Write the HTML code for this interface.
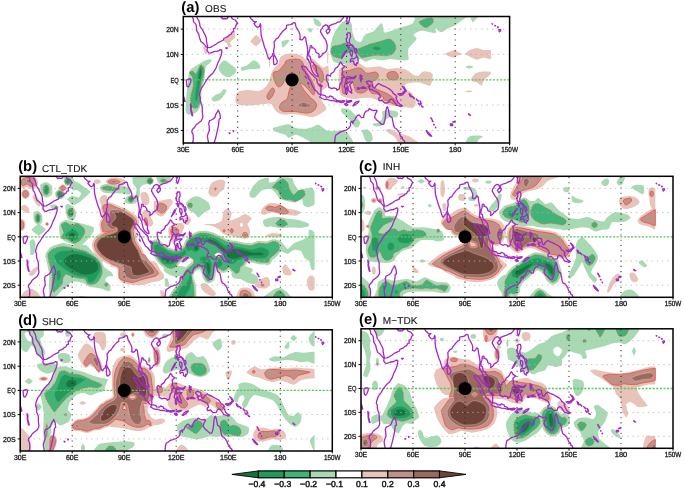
<!DOCTYPE html><html><head><meta charset="utf-8"><title>Figure</title><style>html,body{margin:0;padding:0;background:#fff}svg{display:block}text{font-family:"Liberation Sans",sans-serif;text-rendering:geometricPrecision}</style></head><body>
<svg width="685" height="491" viewBox="0 0 685 491">
<rect width="685" height="491" fill="#fff"/>
<defs>
<clipPath id="cpa"><rect x="183.3" y="16.5" width="326.3" height="126.5"/></clipPath>
<clipPath id="cpb"><rect x="20.2" y="176.3" width="312.1" height="121.0"/></clipPath>
<clipPath id="cpc"><rect x="361.0" y="176.3" width="312.0" height="121.0"/></clipPath>
<clipPath id="cpd"><rect x="20.2" y="329.8" width="312.1" height="121.2"/></clipPath>
<clipPath id="cpe"><rect x="361.0" y="328.8" width="312.0" height="119.5"/></clipPath>
<filter id="bl" x="-5%" y="-5%" width="110%" height="110%"><feGaussianBlur stdDeviation="0.4"/></filter>
</defs>
<g clip-path="url(#cpa)">
<g filter="url(#bl)">
<path d="M308.3,30.3 308.7,31.4 309.1,31.8 310.0,32.3 310.9,32.4 311.3,32.3 311.8,31.5 312.2,29.6 312.0,29.1 311.0,28.5 308.8,28.0 308.4,28.1 308.2,28.5ZM281.4,43.1 282.0,47.0 282.3,47.3 282.6,47.4 283.2,47.2 285.4,45.4 288.0,42.8 289.2,41.0 289.2,40.2 288.5,39.8 286.8,39.8 284.2,40.4 282.5,41.1 281.6,42.0ZM241.6,70.3 242.0,70.6 242.6,70.7 247.7,69.5 253.5,68.9 258.5,68.7 259.5,68.5 260.2,68.1 260.4,67.5 260.4,66.7 259.6,64.7 257.9,62.4 256.3,61.2 255.4,60.7 254.4,60.5 253.5,60.5 252.4,61.0 251.3,61.8 247.8,64.8 246.7,65.6 245.6,66.0 241.5,67.0 240.9,67.4 240.7,67.9 240.7,68.5 240.8,69.2ZM220.9,73.0 222.6,74.8 223.7,75.5 226.1,76.8 227.3,77.1 228.4,77.2 229.6,77.0 232.2,75.7 235.1,73.2 236.1,71.8 236.3,71.1 236.2,69.6 235.3,68.1 234.4,67.2 226.9,61.5 225.8,60.8 224.7,60.5 223.7,60.5 222.7,61.1 220.6,63.3 219.0,66.1 218.6,67.4 218.6,68.5 218.9,69.7 219.5,70.9ZM203.1,61.5 191.7,68.5 190.2,69.7 189.2,71.8 188.6,74.5 186.8,91.3 185.8,103.3 185.6,109.2 185.8,111.4 186.3,112.8 187.0,113.8 187.8,114.3 188.8,114.6 191.8,114.5 193.0,114.2 195.4,113.0 197.4,111.4 198.2,110.4 199.6,107.9 200.5,105.2 201.1,102.4 201.6,88.6 202.1,86.1 203.7,82.4 204.5,79.8 204.8,76.7 204.9,71.9 205.4,68.6 205.9,67.0 206.7,65.6 207.3,64.9 210.4,62.8 210.9,62.3 211.4,61.1 211.4,59.9 211.2,59.5 210.9,59.3 210.2,59.2 208.3,59.5 205.1,60.5ZM211.9,100.2 212.4,100.8 213.3,101.2 215.0,101.4 217.5,100.9 220.1,99.7 222.4,97.4 225.3,93.2 226.4,91.1 226.3,90.2 225.9,89.8 224.9,89.2 223.7,89.2 223.2,89.6 220.1,93.2 218.7,93.8 216.6,94.3 214.4,95.7 212.8,96.9 211.8,98.0 211.5,98.9ZM273.6,130.5 274.4,131.2 277.9,132.6 285.4,134.7 285.9,135.1 287.7,137.2 288.2,137.7 288.8,137.9 289.6,137.7 294.4,134.9 295.3,134.7 297.4,135.1 303.2,137.7 310.2,141.7 310.4,142.2 309.7,143.2 309.7,143.7 310.3,144.0 312.0,144.3 323.4,144.6 340.2,144.7 347.2,144.6 351.3,144.3 352.8,143.5 353.1,142.2 352.6,140.6 348.6,134.4 346.8,132.3 345.0,130.9 342.7,130.5 330.1,130.9 327.1,130.6 325.8,130.0 319.8,125.3 318.7,124.8 317.7,124.8 316.5,125.1 312.0,127.2 308.9,128.1 306.5,128.7 304.2,128.8 298.4,128.5 295.3,128.1 294.3,127.6 289.8,124.6 288.8,124.3 287.5,124.3 281.7,125.5 273.3,127.8 272.9,128.1 272.7,128.4 272.9,129.5ZM313.5,20.3 314.4,23.3 315.0,24.4 316.0,25.3 317.5,26.1 319.0,26.6 320.1,26.5 320.9,25.7 321.3,24.7 321.0,23.4 320.0,21.9 318.0,19.8 316.5,18.9 314.3,18.2 313.8,18.3 313.6,18.5ZM332.3,59.8 332.9,60.8 333.6,61.5 335.8,62.7 339.2,63.8 341.4,64.0 351.5,63.7 353.7,63.3 354.6,62.8 359.2,59.4 360.0,59.0 360.8,59.1 364.1,61.3 364.9,61.5 366.0,61.4 372.1,59.2 373.3,59.0 374.4,59.1 381.6,60.5 390.0,59.0 400.1,60.3 404.7,60.5 407.6,60.3 408.4,59.8 408.7,58.7 408.1,52.5 408.0,50.4 408.3,48.9 409.2,47.4 415.8,40.2 416.6,39.0 416.5,38.2 415.9,37.4 413.4,35.3 413.3,34.7 415.2,33.3 418.5,31.6 420.2,31.0 421.7,30.7 423.4,30.8 433.7,33.1 435.1,33.2 435.7,32.7 435.9,31.8 435.6,28.5 435.8,28.1 436.3,28.4 439.1,31.2 440.1,32.0 440.9,32.3 441.8,32.1 443.1,31.4 448.3,28.1 452.8,26.6 455.0,25.6 463.8,19.1 465.9,17.8 468.8,17.1 470.1,17.3 470.5,17.8 472.2,21.9 472.6,22.3 473.9,21.5 476.8,18.3 479.6,16.6 480.1,16.0 479.4,15.5 477.0,15.2 460.4,15.0 424.8,15.1 418.4,15.2 415.7,15.6 414.5,16.2 414.3,16.9 415.0,18.4 415.0,19.0 413.2,22.6 412.5,23.4 411.7,24.1 408.4,25.2 400.1,27.4 392.9,30.3 386.2,32.4 385.0,32.5 384.2,32.3 383.6,31.3 382.6,25.3 382.2,23.7 381.6,23.1 380.7,23.6 379.3,24.9 374.5,30.3 373.3,31.4 372.1,32.1 365.9,34.1 364.9,34.7 363.5,36.9 361.5,41.1 361.0,41.8 360.3,42.0 359.4,42.0 357.4,41.5 355.9,40.5 355.3,39.7 354.0,36.7 352.4,32.3 352.1,26.4 351.7,24.1 351.2,23.3 349.4,21.3 347.3,20.0 346.5,19.8 345.5,20.1 342.8,22.0 339.2,25.4 336.3,29.6 334.4,33.0 333.3,35.4 332.2,38.6 331.0,43.1 330.4,47.5 330.1,50.7 330.1,51.9 330.7,54.8ZM468.5,68.5 469.2,68.6 470.8,68.3 472.5,67.5 473.3,66.8 473.1,66.6 471.7,66.0 469.2,65.6 467.8,65.8 466.1,66.6 465.9,66.8 466.5,67.5ZM341.3,111.6 342.4,113.2 345.0,115.4 349.9,120.5 352.7,124.7 354.1,126.3 355.5,127.2 357.0,127.5 358.2,127.2 358.7,126.7 359.6,125.1 359.9,124.1 360.0,122.3 359.8,121.4 358.7,119.8 354.3,114.1 351.7,111.4 350.0,110.1 347.5,108.8 345.7,108.4 343.8,108.3 342.1,108.6 341.2,109.2 341.0,110.3ZM382.6,116.2 382.5,117.2 381.7,119.1 380.6,120.9 379.9,121.6 379.1,122.3 378.1,122.7 373.1,123.5 372.6,123.8 372.5,124.2 372.8,124.7 374.2,125.7 375.8,126.3 378.7,126.4 380.8,126.0 381.6,125.5 382.3,124.9 384.4,121.3 385.1,120.5 386.5,119.1 388.1,118.0 390.0,117.2 391.0,117.1 394.8,117.4 395.9,117.4 396.7,117.2 397.2,116.6 398.0,114.8 398.0,112.9 397.6,112.1 396.8,111.6 395.7,111.1 392.8,110.4 388.6,110.1 384.4,110.5 383.3,110.9 382.5,111.4 382.1,112.1 382.1,113.0ZM363.0,133.9 364.6,139.0 365.4,140.3 366.5,141.5 367.7,142.1 369.1,142.2 370.7,141.5 372.1,140.4 372.6,139.7 372.7,138.0 372.0,134.8 370.6,132.1 369.1,130.6 368.3,130.0 367.5,129.6 365.4,129.4 364.2,129.6 362.2,130.2 361.7,130.6 361.5,131.1 361.7,131.7ZM473.8,144.6 475.2,144.3 476.0,143.8 476.7,143.0 478.4,139.7 482.0,137.3 482.6,136.8 482.6,136.4 482.0,136.1 479.6,135.6 475.2,135.4 471.5,135.8 469.3,136.5 468.4,137.2 467.6,138.1 466.2,140.8 465.7,142.2 465.6,143.4 465.9,144.3 466.8,144.7 468.3,145.0 470.2,145.0Z" fill="#a7d9b2" fill-rule="evenodd"/>
<path d="M223.5,40.8 223.7,41.5 224.0,41.8 225.8,42.4 226.8,43.1 227.1,43.7 228.1,46.9 228.4,47.4 229.6,47.5 231.4,46.7 231.7,46.4 231.7,45.9 230.2,43.6 230.1,42.6 230.6,41.8 231.7,40.5 234.3,38.6 235.1,37.2 235.3,36.3 235.1,34.1 234.6,32.0 234.2,31.4 233.8,31.1 232.8,31.2 231.0,32.3 227.5,36.5 224.3,39.0 223.8,39.9ZM255.4,46.1 256.0,46.4 256.6,45.9 260.4,42.3 261.8,40.5 259.1,37.4 256.6,35.1 256.0,34.7 252.9,37.9 250.2,41.5 251.6,43.1ZM203.5,49.4 205.1,53.9 205.8,54.4 206.5,54.1 206.9,53.2 206.7,49.9 206.2,47.6 206.0,46.9 205.6,46.5 205.0,46.3 203.9,46.5 203.5,46.9 203.2,47.4ZM327.2,51.9 327.2,63.3 327.5,63.6 328.0,63.6 328.3,63.3 328.3,51.9 327.8,51.6ZM268.9,59.0 269.0,66.4 269.7,66.5 270.0,66.3 270.0,59.0 269.7,58.8ZM236.0,103.0 236.8,103.8 237.9,104.3 239.4,104.8 243.0,105.3 246.7,105.6 250.5,105.5 258.5,104.8 266.8,103.7 268.6,103.6 270.1,103.8 271.3,104.3 272.1,105.0 273.7,108.0 276.8,111.9 278.5,113.1 279.6,113.6 282.5,114.2 286.6,114.7 287.6,114.6 290.8,113.9 295.6,114.2 303.7,115.4 310.7,117.2 313.4,117.0 316.3,116.0 319.1,114.6 322.8,112.3 325.1,110.6 325.9,109.7 326.3,108.8 326.4,108.0 326.2,107.3 324.4,104.8 321.1,99.4 319.6,96.2 319.3,94.9 319.4,93.9 319.8,92.9 320.5,92.1 323.7,89.2 326.5,87.5 327.3,86.7 328.0,85.6 328.6,82.1 328.9,77.8 328.8,69.1 328.4,66.6 328.0,65.8 327.4,65.6 323.8,67.4 322.9,67.4 321.0,66.1 313.6,59.2 312.8,58.7 312.0,58.5 311.2,58.8 310.4,59.4 308.1,62.0 307.5,62.3 307.0,62.2 306.1,60.1 303.7,57.4 302.1,56.0 301.1,55.5 298.9,54.6 295.1,53.8 290.3,53.5 288.0,53.7 284.4,54.7 282.1,55.8 281.1,56.5 280.3,57.2 279.7,58.1 278.9,62.3 278.5,63.3 277.0,65.2 274.3,68.0 272.5,70.5 271.0,73.9 270.1,78.2 269.4,80.5 267.6,84.1 266.1,86.4 265.2,87.3 262.4,89.6 260.0,90.6 258.5,90.9 256.8,91.0 248.6,90.1 246.7,90.1 241.6,90.7 238.8,91.6 237.7,92.1 236.9,92.9 235.9,94.8 235.4,100.1 235.6,102.1ZM338.9,71.4 338.7,79.0 339.4,90.4 340.1,93.7 340.7,94.7 342.0,96.0 345.0,97.2 348.0,98.0 351.6,98.7 355.0,99.0 357.9,98.8 361.9,98.1 366.1,97.8 368.9,97.7 371.6,98.0 374.4,98.9 385.5,103.8 388.3,104.8 392.9,105.7 411.5,107.9 412.5,107.9 413.3,107.6 414.7,106.3 415.2,105.4 415.8,103.3 415.8,101.2 415.0,98.8 413.9,96.5 412.4,93.9 411.3,92.6 410.1,91.4 409.3,90.9 406.3,89.8 405.5,89.4 405.0,88.9 404.7,87.2 404.9,86.3 405.2,85.3 405.8,84.5 406.6,83.8 409.5,82.9 413.3,82.4 416.8,82.3 418.1,82.4 420.4,82.8 424.6,84.2 428.1,85.6 429.2,85.8 430.0,85.6 430.7,84.9 431.7,82.8 432.4,80.1 432.8,76.8 432.8,74.8 432.4,73.9 431.8,73.2 430.8,72.6 427.9,71.7 424.8,71.3 423.5,71.4 422.5,71.8 421.6,72.6 419.2,75.2 418.4,75.7 416.8,75.9 415.2,75.5 413.3,74.7 412.3,74.1 409.1,71.4 406.6,69.9 402.7,68.6 399.8,68.2 396.6,68.1 391.1,68.8 387.6,68.9 386.0,68.6 380.0,66.6 378.4,66.3 376.5,66.4 368.4,67.5 366.6,67.4 365.0,66.9 363.7,66.1 359.8,63.5 358.2,63.1 356.4,62.9 354.4,62.8 350.1,63.2 346.5,63.9 345.0,64.5 342.5,65.9 339.9,68.4 339.1,69.9ZM446.6,55.3 451.4,57.3 453.4,57.6 454.5,57.2 456.7,55.7 461.2,54.5 462.5,53.9 462.3,53.7 461.8,53.4 458.3,52.2 455.7,50.1 454.3,49.9 452.6,50.4 448.0,52.2 445.4,53.5 445.1,53.9 445.2,54.4ZM469.3,56.6 474.7,59.1 476.8,59.8 477.7,59.6 483.5,57.6 489.0,58.9 490.2,59.1 490.9,59.0 491.1,58.5 491.1,50.9 490.9,50.4 490.2,50.1 483.5,49.9 478.8,48.5 476.8,48.1 473.4,48.8 470.9,49.6 469.3,50.3 466.1,52.5 465.0,53.7 466.1,54.7ZM472.2,81.1 473.1,81.8 476.0,82.0 476.8,82.3 480.3,85.0 481.0,85.5 481.7,85.6 482.1,85.2 482.4,84.5 483.1,81.4 483.5,80.5 485.0,79.1 487.7,77.1 489.8,74.9 490.9,73.3 491.1,72.7 490.9,72.2 490.3,71.8 487.8,71.4 483.5,71.4 479.5,71.9 477.0,72.7 475.9,73.2 474.9,73.8 473.3,75.5 471.7,78.0 471.5,79.4 471.6,80.0ZM468.1,92.3 470.3,92.2 471.8,91.8 472.4,91.4 471.1,90.8 468.8,90.4 466.4,90.8 465.0,91.4 465.7,91.8ZM387.6,132.2 389.2,133.5 394.0,136.3 395.0,137.2 395.8,138.3 397.8,143.1 399.0,144.3 401.4,144.9 404.9,145.2 408.9,145.2 416.2,144.7 419.4,143.9 419.7,143.5 419.4,143.0 418.7,142.4 416.3,141.0 411.3,137.5 409.0,136.3 406.6,135.4 402.4,134.2 401.0,134.0 399.9,134.1 399.3,134.5 397.1,133.1 393.8,130.7 391.8,129.6 390.6,129.3 388.2,129.1 386.3,129.4 385.8,129.6 385.7,129.9 385.8,130.4Z" fill="#e7c3b9" fill-rule="evenodd"/>
<path d="M420.2,24.1 422.6,26.1 424.9,27.4 425.9,27.5 427.6,27.1 430.7,25.1 432.6,23.0 433.3,21.6 433.3,20.1 433.1,19.3 432.3,18.1 431.7,17.8 430.8,17.7 427.3,18.3 422.5,19.9 420.2,21.0 419.4,21.6 419.1,22.3 419.4,23.1ZM331.0,51.6 331.1,52.6 331.7,54.3 333.1,56.0 335.8,57.3 338.2,58.0 339.4,58.1 340.5,58.0 341.4,57.5 342.3,56.7 344.7,53.8 345.8,52.9 347.4,53.2 350.2,52.1 351.9,51.9 353.7,52.3 356.6,53.5 358.3,54.5 360.9,57.3 361.7,57.6 362.6,57.7 368.4,56.5 375.2,55.3 378.3,55.2 385.2,55.8 386.7,55.7 389.3,55.2 391.6,54.4 392.6,53.8 394.1,52.4 395.2,50.5 395.9,48.4 395.9,47.4 395.8,46.4 395.1,44.3 393.4,41.5 391.2,39.8 389.4,39.1 388.3,39.0 385.8,39.5 380.0,41.5 370.0,44.1 358.9,48.4 356.6,48.9 354.1,48.6 351.9,47.9 350.3,46.8 346.6,43.6 345.4,43.1 344.7,43.1 340.5,44.8 335.0,45.7 332.9,46.4 332.2,46.8 331.6,48.0ZM190.0,72.4 190.0,73.9 190.3,74.4 191.7,75.7 192.5,77.2 193.0,79.5 193.3,82.4 193.3,85.6 193.0,87.3 191.4,93.4 190.7,97.2 190.6,100.7 190.9,103.9 191.6,106.3 192.3,107.1 194.0,108.1 195.9,108.3 196.7,108.1 198.1,106.9 199.2,104.8 200.0,102.3 200.2,99.2 199.9,93.9 200.2,90.4 201.6,82.3 203.0,78.2 203.8,74.5 204.2,71.5 204.1,68.9 203.8,67.8 202.7,66.0 201.4,64.9 200.9,64.8 200.4,65.1 199.9,65.8 196.6,73.0 195.8,73.9 195.4,73.9 195.0,73.6 193.5,71.7 192.5,71.3 191.5,71.2 190.7,71.4Z" fill="#40b377" fill-rule="evenodd" stroke="#d8684a" stroke-width="0.9" stroke-dasharray="1.3,1.3"/>
<path d="M312.7,65.5 312.8,66.6 313.1,67.6 316.9,73.5 318.4,76.2 319.6,81.3 320.9,82.5 321.8,82.7 322.2,82.5 323.1,80.5 323.6,77.5 323.4,75.5 322.9,73.4 321.7,70.5 319.8,67.9 317.5,66.0 315.7,65.1 314.0,64.6 313.1,64.7ZM387.0,75.6 387.3,77.3 388.0,78.5 389.3,79.2 390.9,79.6 393.8,79.8 396.0,79.7 396.9,79.4 397.6,79.0 398.0,78.4 398.2,77.5 398.1,75.6 397.6,73.9 396.5,72.7 395.1,71.8 394.2,71.5 393.4,71.4 391.4,71.6 389.2,72.2 388.3,72.7 387.6,73.2 387.2,73.8ZM285.5,61.4 285.1,63.2 284.6,63.9 281.9,67.3 279.7,69.7 278.7,70.6 277.6,71.2 274.4,72.0 273.7,72.4 273.2,73.2 273.1,74.4 273.3,76.1 274.3,79.7 275.9,83.9 277.5,86.2 278.7,86.8 279.3,86.8 280.1,86.5 281.6,85.5 283.2,83.7 284.0,81.3 284.3,80.8 284.6,80.5 285.5,81.0 287.5,83.5 289.7,85.2 290.3,86.3 290.1,88.0 288.8,92.1 288.2,95.7 287.5,98.0 287.0,99.0 286.2,99.8 282.0,102.3 280.6,103.8 279.8,105.6 279.5,106.5 279.4,107.3 279.8,108.8 280.8,110.0 281.6,110.6 283.7,111.4 285.2,111.5 295.3,111.4 303.6,112.8 307.1,113.1 309.9,112.7 312.1,111.8 314.6,109.9 315.7,108.2 316.5,105.6 316.5,104.8 316.1,103.3 315.2,101.9 314.1,100.6 310.2,97.5 305.7,92.4 303.7,89.8 301.6,86.6 300.4,84.4 300.2,83.5 300.5,83.4 301.7,83.7 303.2,84.4 304.5,85.3 308.7,89.7 313.1,94.9 313.5,94.9 314.1,94.3 314.8,92.2 314.9,90.6 314.6,87.9 313.6,84.4 311.2,79.3 309.3,76.0 305.8,70.9 304.1,65.6 302.7,62.7 301.7,61.0 300.0,59.8 298.9,59.4 295.9,59.1 291.5,59.3 288.3,59.9 285.9,61.0ZM341.9,72.6 341.6,73.9 341.4,76.2 341.9,87.6 342.5,92.1 342.8,93.0 343.7,94.0 344.2,94.1 345.0,93.9 345.6,92.8 346.9,87.8 347.6,84.2 348.3,82.3 348.7,81.6 349.9,80.7 351.2,80.4 351.7,80.5 352.2,80.9 353.0,82.6 354.4,86.5 355.4,90.6 355.9,91.4 357.3,92.4 359.9,93.1 361.6,93.1 362.5,92.9 365.8,91.4 366.4,90.9 367.6,89.2 367.9,88.9 368.4,88.9 368.9,89.2 371.0,92.6 371.6,93.2 373.2,93.6 376.7,93.9 379.8,95.0 382.5,96.4 383.3,97.5 383.8,99.3 384.7,100.1 388.3,101.4 393.0,103.9 395.0,104.8 397.0,104.9 397.6,104.3 397.3,103.1 396.0,101.1 393.4,98.0 391.7,96.5 389.7,95.1 386.4,93.3 375.2,88.6 373.3,87.3 371.8,85.7 370.9,83.8 370.7,83.0 370.7,82.3 371.2,81.7 372.0,81.3 375.0,80.2 375.8,79.8 377.6,77.8 378.3,76.4 378.4,75.7 378.1,74.3 377.3,73.0 376.7,72.5 375.8,72.2 374.6,72.1 369.6,73.1 367.9,73.3 366.6,73.2 365.5,72.7 364.6,72.0 362.5,69.4 361.7,68.9 360.1,68.2 358.5,68.0 355.5,68.4 349.2,70.6 344.1,71.2 342.4,71.9ZM267.8,99.0 268.7,99.7 269.7,99.3 271.6,97.2 273.2,94.6 274.1,92.4 274.5,90.6 274.1,89.2 273.3,88.1 272.7,87.9 272.1,88.1 271.4,88.8 269.3,91.4 267.5,94.4 267.1,95.6 266.9,96.5 267.0,97.5Z" fill="#c29086" fill-rule="evenodd" stroke="#e8584c" stroke-width="0.9"/>
<path d="M373.3,49.0 375.0,49.9 376.7,50.4 377.5,50.3 379.3,49.7 380.7,48.8 380.9,48.4 380.7,48.0 379.3,47.1 376.7,46.4 375.0,46.6 372.8,47.8 372.6,48.1ZM200.0,67.5 199.1,69.8 198.1,73.2 197.4,79.0 195.8,88.9 195.0,98.5 195.3,100.5 195.7,100.9 196.1,101.1 196.6,100.9 197.0,100.5 197.8,98.5 199.3,88.9 202.4,72.0 202.4,69.5 202.2,68.4 201.6,66.8 201.2,66.4 200.9,66.3Z" fill="#209a5b" fill-rule="evenodd" stroke="#52ac74" stroke-width="0.4"/>
<path d="M298.4,72.0 298.6,74.2 299.1,74.5 300.2,74.4 300.4,74.2 300.6,73.3 300.4,71.1 299.9,70.8 298.8,70.9 298.6,71.1ZM307.9,85.6 308.1,87.7 308.4,88.4 309.5,88.8 310.0,88.6 310.1,86.7 309.6,85.6 308.9,85.2 308.2,85.2ZM299.2,106.2 302.0,107.3 305.5,107.4 307.9,107.0 309.4,106.6 310.4,105.9 310.6,105.2 309.7,104.4 307.5,103.4 304.8,102.6 303.7,102.5 301.3,102.9 300.1,103.4 298.2,104.4 297.9,104.8 298.0,105.2Z" fill="#9c695e" fill-rule="evenodd" stroke="#dcc8c0" stroke-width="0.45"/>
<path d="M200.4,68.5 199.8,70.5 199.2,73.7 198.6,80.9 198.5,83.5 198.9,83.1 199.7,80.6 201.2,74.4 201.2,72.4 201.0,70.3 200.7,68.7 200.5,68.4Z" fill="#14743f" fill-rule="evenodd" stroke="#3c9460" stroke-width="0.4"/>
</g>
<line x1="237.7" y1="138.8" x2="237.7" y2="16.5" stroke="#2a2a2a" stroke-width="1.05" stroke-dasharray="1.1,4.36"/>
<line x1="292.1" y1="138.8" x2="292.1" y2="16.5" stroke="#2a2a2a" stroke-width="1.05" stroke-dasharray="1.1,4.36"/>
<line x1="346.5" y1="138.8" x2="346.5" y2="16.5" stroke="#2a2a2a" stroke-width="1.05" stroke-dasharray="1.1,4.36"/>
<line x1="400.8" y1="138.8" x2="400.8" y2="16.5" stroke="#2a2a2a" stroke-width="1.05" stroke-dasharray="1.1,4.36"/>
<line x1="455.2" y1="138.8" x2="455.2" y2="16.5" stroke="#2a2a2a" stroke-width="1.05" stroke-dasharray="1.1,4.36"/>
<line x1="186.3" y1="29.1" x2="509.6" y2="29.1" stroke="#b8b4b8" stroke-width="0.85" stroke-dasharray="1.3,4.16"/>
<line x1="186.3" y1="54.4" x2="509.6" y2="54.4" stroke="#b8b4b8" stroke-width="0.85" stroke-dasharray="1.3,4.16"/>
<line x1="183.3" y1="79.8" x2="509.6" y2="79.8" stroke="#5cc85c" stroke-width="1.35" stroke-dasharray="2.2,1.4"/>
<line x1="186.3" y1="105.0" x2="509.6" y2="105.0" stroke="#b8b4b8" stroke-width="0.85" stroke-dasharray="1.3,4.16"/>
<line x1="186.3" y1="130.4" x2="509.6" y2="130.4" stroke="#b8b4b8" stroke-width="0.85" stroke-dasharray="1.3,4.16"/>
<path d="M191.8,15.2 192.4,17.5 193.3,19.0 193.5,21.6 195.8,24.1 196.4,26.6 196.5,30.4 198.7,34.2 200.0,39.3 200.9,41.5 203.6,43.6 206.3,46.9 207.4,48.1 207.0,50.4 208.7,52.9 210.5,53.2 214.1,51.7 217.7,51.2 220.5,49.6 221.7,49.9 221.7,53.2 221.0,55.7 219.6,59.5 217.7,63.3 215.9,68.4 212.8,73.2 211.0,74.7 208.7,77.2 206.0,81.0 204.1,84.3 203.1,85.6 201.6,87.8 200.7,90.1 199.8,92.7 199.3,95.4 200.3,97.2 200.3,100.0 200.7,102.5 202.0,105.8 202.3,108.1 202.3,112.6 202.9,116.4 202.5,118.5 201.1,121.0 197.8,123.5 196.0,125.0 194.7,127.3 192.2,129.8 191.8,131.9 192.9,134.1 193.3,135.9 193.3,139.2 193.1,141.0 192.2,144.3M196.0,15.2 196.5,16.5 197.8,19.0 198.9,20.8 199.8,24.1 199.9,25.9 201.1,27.9 202.7,30.2 204.0,32.9 205.4,35.5 206.3,38.0 206.5,41.3 207.2,44.8 207.8,47.6 210.5,47.4 213.2,45.8 215.9,44.3 218.6,42.3 221.4,41.0 223.5,40.0 223.7,38.5 225.9,37.5 227.7,36.7 229.2,35.2 231.0,34.5 232.2,31.9 233.7,31.7 233.5,28.6 235.1,28.1 235.9,25.6 237.3,22.8 235.3,20.0 232.6,19.0 231.5,17.5 231.0,15.2M220.6,15.2 221.0,17.0 221.9,18.0 222.5,18.8 224.3,18.5 226.8,18.8 228.1,17.0 229.2,15.7 230.1,15.0M221.2,15.0 222.3,16.5 222.5,15.0M240.4,15.2 243.1,16.0 245.8,15.9 249.1,15.2 249.8,16.8 251.1,19.0 252.5,20.0 253.5,21.3 255.4,22.1 256.4,21.6 254.5,23.3 254.0,23.6 255.1,25.1 256.5,26.9 257.6,27.4 259.4,26.4 260.3,23.6 260.9,25.4 260.7,26.6 260.9,31.7 261.2,35.5 262.7,40.8 264.5,47.1 266.3,51.4 267.1,54.4 268.3,58.2 269.4,59.3 270.7,57.2 272.1,56.2 272.7,53.7 273.8,53.7 273.6,50.7 274.5,46.6 274.1,41.8 275.6,39.8 276.1,38.8 278.1,37.8 279.9,35.0 282.6,31.4 284.5,29.7 286.3,28.4 286.6,25.4 288.4,24.8 290.3,24.6 292.1,24.1 293.2,22.8 294.4,22.6 295.3,23.3 295.7,25.6 296.4,27.6 297.3,28.9 298.8,31.7 299.9,34.2 300.2,38.0 299.7,39.3 301.7,40.0 303.5,38.5 304.4,36.7 305.1,37.2 305.8,38.5 306.2,41.8 306.8,44.3 307.5,48.1 307.8,51.9 307.5,54.4 307.1,57.0 307.1,59.8 308.0,59.0 308.9,61.3 310.2,63.3 310.7,65.8 311.5,69.1 312.6,72.2 313.5,73.4 314.7,74.7 316.4,76.2 317.3,76.5 318.0,76.2 317.6,73.9 316.5,72.7 316.4,70.6 316.4,68.4 315.3,65.6 314.2,64.1 313.1,62.3 311.8,62.0 310.9,60.8 310.6,58.2 310.0,56.2 308.9,56.2 308.7,53.2 309.5,50.7 310.0,48.1 310.2,46.1 311.3,45.6 312.0,46.4 311.8,47.9 313.5,47.9 314.4,48.9 315.5,50.1 315.8,51.9 316.7,52.9 318.0,53.2 319.1,54.2 318.9,57.7 320.0,57.0 321.8,55.5 322.5,53.4 323.4,53.4 324.7,52.7 326.5,50.9 327.1,48.1 327.2,45.6 326.7,43.1 326.1,41.0 325.1,39.0 323.8,37.5 322.3,35.2 321.8,34.0 320.5,31.9 320.9,29.7 322.2,28.4 322.9,26.6 324.7,25.4 325.6,24.8 327.4,25.4 328.0,26.9 328.7,28.4 329.2,28.1 329.0,26.1 330.1,25.4 331.9,24.6 334.1,23.8 335.9,23.3 337.4,22.3 340.1,21.6 341.9,19.5 343.2,17.8 344.5,15.2M326.0,31.2 327.4,33.7 329.2,32.2 330.1,29.9 329.4,28.9 327.6,29.1 326.0,31.2M348.3,15.2 347.0,19.0 346.6,21.1 347.9,24.1 349.0,21.6 349.7,17.8 349.9,15.2M273.8,55.2 274.3,55.0 276.1,58.2 277.2,60.8 277.0,63.3 275.0,64.8 273.9,64.3 273.6,62.0 273.4,59.0 273.8,55.2M301.7,65.8 302.9,66.3 305.7,66.6 306.9,68.4 308.4,70.6 310.2,72.7 311.6,74.2 312.9,75.4 314.4,77.2 316.4,78.5 317.1,80.5 317.1,82.3 318.4,84.3 319.3,85.6 321.1,87.3 320.9,90.4 320.9,94.4 319.8,94.4 318.5,93.9 317.4,92.1 315.6,90.4 314.4,89.6 312.9,86.8 311.8,84.8 310.9,82.3 309.8,80.0 308.6,78.7 307.8,75.4 306.0,73.7 305.1,71.7 303.5,70.1 302.0,67.6 301.7,65.8M319.6,97.0 321.1,94.7 322.3,94.9 325.2,95.7 326.0,97.0 329.0,97.2 330.1,95.9 333.0,97.2 333.4,98.7 335.6,99.2 336.5,100.0 336.5,101.8 333.8,100.7 330.1,100.5 326.5,99.2 324.7,99.5 322.0,98.5 319.6,97.0M326.5,75.7 327.6,74.7 328.9,75.4 330.5,76.2 330.9,73.7 333.8,71.7 335.4,68.4 337.4,67.1 338.5,65.6 339.6,63.6 340.5,62.0 341.6,63.1 342.3,64.8 345.0,66.6 343.2,68.1 342.1,69.1 342.6,71.7 342.5,74.7 344.6,77.2 342.6,77.7 341.9,79.8 341.9,81.8 340.3,83.5 339.7,86.1 339.2,88.9 336.8,90.1 336.5,88.6 333.8,87.8 331.6,88.6 328.7,87.1 328.3,83.5 326.9,81.0 326.5,79.0 326.5,75.7M347.9,76.5 350.1,77.2 351.9,77.5 354.2,77.2 355.9,75.7 355.2,77.5 353.7,78.7 351.9,78.5 349.2,78.5 346.8,79.0 346.5,81.0 347.7,83.0 349.2,82.0 351.5,82.0 352.6,82.0 350.6,83.8 349.5,84.6 350.6,87.3 350.8,88.6 351.9,89.9 351.2,90.9 351.9,93.2 350.1,91.9 349.2,91.6 348.3,89.6 348.1,86.6 347.0,87.1 347.2,89.9 347.0,93.7 345.5,93.7 345.5,89.9 345.5,88.6 344.3,86.8 345.2,83.0 345.9,80.3 346.1,77.7 347.9,76.5M366.4,81.8 368.7,80.8 370.9,81.5 372.0,81.8 372.4,84.8 373.1,87.3 374.5,88.1 376.4,85.3 378.7,83.5 380.9,84.8 384.5,86.3 387.2,87.8 390.0,89.4 391.8,90.9 393.2,93.4 395.4,94.9 396.8,96.7 395.8,97.5 396.8,99.7 398.1,102.5 399.9,104.3 402.3,105.6 400.8,106.6 398.7,105.6 396.3,105.0 394.5,102.3 392.7,99.7 390.9,99.0 389.1,100.5 388.7,102.5 387.2,103.0 384.5,102.8 382.3,100.2 380.5,100.7 379.1,100.7 378.7,98.2 380.5,97.0 379.1,93.7 376.4,91.6 374.0,90.9 371.5,89.4 369.7,89.9 369.7,88.1 368.2,86.8 370.9,85.8 369.1,85.3 367.3,83.5 366.4,81.8M334.7,144.3 334.8,140.5 335.2,137.2 335.9,134.9 337.4,134.1 340.5,131.9 342.8,131.1 344.6,130.4 346.5,130.1 349.2,127.8 350.6,125.3 350.4,122.8 351.9,121.2 353.0,123.5 353.3,121.0 354.6,120.2 355.5,118.2 357.3,115.7 359.1,114.9 361.0,117.2 361.7,117.7 363.7,117.4 363.9,115.2 364.9,112.6 366.0,111.1 368.2,110.6 369.3,108.6 370.9,109.6 373.6,110.6 376.4,110.1 377.1,110.9 375.5,113.9 374.5,117.2 376.4,119.7 379.1,122.0 381.4,124.3 383.6,124.3 384.9,120.2 385.6,115.2 385.8,111.4 386.7,107.6 387.4,106.8 388.5,110.1 389.6,115.9 392.1,117.7 392.9,121.5 393.6,125.3 394.5,127.8 396.3,128.8 398.1,130.9 399.4,132.9 400.5,136.2 402.3,137.4 402.5,139.5 404.1,140.5 405.0,142.5 405.9,144.3M347.5,32.9 350.1,32.9 350.6,36.7 349.4,39.8 349.5,43.1 350.6,44.3 351.9,44.8 353.9,46.9 353.5,47.9 351.9,45.6 350.1,45.3 348.8,45.3 347.5,44.6 348.1,42.8 346.8,42.3 346.1,38.8 347.2,37.8 347.2,35.5 347.5,32.9M356.4,55.0 357.9,58.2 358.2,61.5 357.5,63.6 356.4,62.8 356.2,65.6 354.1,64.1 353.7,61.3 352.3,60.8 350.4,62.0 350.3,59.8 351.9,58.2 353.3,59.0 355.0,58.0 356.4,57.0 356.4,55.0M354.2,48.1 356.1,48.4 356.8,51.4 355.5,53.7 355.0,51.4 354.2,48.1M350.1,49.9 352.1,50.7 352.6,53.2 351.9,56.7 351.0,55.5 350.1,53.2 350.1,49.9M341.4,58.5 343.7,55.7 345.5,52.4 345.2,51.2 343.4,54.4 341.4,58.5M348.3,45.8 349.2,47.6 348.4,48.6 347.4,46.1 348.3,45.8M336.5,100.5 338.5,100.7 337.7,102.0 336.5,100.5M339.2,101.0 340.5,101.0 340.1,102.3 339.2,102.0 339.2,101.0M340.6,101.3 342.8,100.5 344.8,101.0 343.7,102.0 341.0,102.5 340.6,101.3M346.3,101.3 348.3,101.0 351.7,100.5 351.5,101.5 349.2,102.3 346.5,102.0 346.3,101.3M344.6,103.8 346.5,103.5 347.9,105.0 346.5,105.8 344.6,104.3 344.6,103.8M352.8,105.8 354.6,103.3 356.4,101.8 359.1,101.0 358.2,102.5 355.5,104.5 353.7,105.8 352.8,105.8M360.2,74.7 361.0,76.0 362.2,76.0 361.3,77.7 362.4,79.0 361.0,79.0 361.0,81.8 360.4,79.8 360.0,77.2 360.2,74.7M361.0,87.3 363.7,86.8 366.0,88.4 363.7,88.4 361.0,88.4 361.0,87.3M357.3,87.8 359.1,87.6 359.5,88.9 357.9,89.4 357.3,87.8M397.8,93.9 399.9,93.7 401.7,93.7 403.6,92.1 405.0,90.4 404.8,92.4 402.6,94.9 399.9,95.4 397.8,93.9M402.3,86.3 404.5,87.8 406.3,91.1 405.7,91.6 403.9,88.4 402.3,86.3M409.2,93.7 410.8,94.9 411.5,97.0 410.3,96.4 409.2,93.7M412.6,96.7 414.4,98.2 413.9,98.5 412.6,96.7M416.2,99.0 418.6,101.0 418.1,101.3 416.2,99.0M418.2,103.3 420.4,104.5 419.5,104.8 418.2,103.3M420.2,101.0 421.3,103.8 420.6,103.0 420.2,101.0M421.3,105.8 423.1,107.1 422.2,106.8 421.3,105.8M430.9,117.7 432.0,119.2 431.3,119.2 430.9,117.7M432.2,120.2 433.1,121.5 432.4,121.5 432.2,120.2M433.8,124.3 434.4,124.8 433.8,124.8 433.8,124.3M435.6,127.1 435.8,127.8 435.5,127.6 435.6,127.1M426.2,130.6 428.9,132.9 431.7,136.2 430.7,136.2 428.0,133.9 426.2,130.6M450.3,124.0 452.5,123.8 452.7,125.5 450.5,125.5 450.3,124.0M452.9,122.0 455.0,121.0 454.3,122.3 452.9,122.0M468.4,113.9 469.4,114.2 468.8,114.7 468.4,113.9M469.7,114.9 470.6,115.2 470.1,115.4 469.7,114.9M498.7,29.9 500.5,29.4 500.7,30.7 499.4,31.9 498.7,29.9M497.5,26.9 498.5,27.1 498.0,27.6 497.5,26.9M494.7,25.4 495.6,25.6 495.1,25.9 494.7,25.4M492.0,23.8 492.6,23.8 492.4,24.3 492.0,23.8M186.4,80.3 187.8,79.2 190.6,79.0 190.9,81.0 190.4,83.0 189.3,85.3 188.4,86.8 186.9,86.3 186.6,83.5 186.4,80.3M182.0,88.4 182.8,91.1 182.6,94.4 184.2,98.0 185.1,101.5 184.4,101.3 183.3,98.2 181.8,94.9 181.8,91.1 182.0,88.4M190.6,104.0 191.5,106.3 191.1,109.6 192.0,112.6 192.7,115.9 192.0,115.7 191.5,113.4 190.7,110.1 190.7,107.1 190.4,104.5 190.6,104.0M218.3,110.1 219.9,113.9 220.5,118.5 219.2,119.0 218.8,122.3 218.5,125.3 217.4,130.4 216.3,135.4 215.2,139.5 214.3,142.7 212.7,143.5 210.9,144.5 208.7,143.3 208.1,140.5 207.4,136.2 208.3,132.9 209.4,130.4 209.2,126.6 208.7,123.5 209.6,120.7 211.4,120.0 213.2,119.0 215.0,117.2 215.9,114.2 217.4,111.9 218.3,110.1M229.2,132.9 230.1,133.1 229.5,133.6 229.2,132.9M233.0,130.6 233.7,130.9 233.3,131.6 233.0,130.6M225.7,47.9 227.5,47.9 226.8,48.6 225.7,47.9M305.1,76.2 306.4,78.0 305.8,77.5 305.1,76.2M307.8,82.3 308.9,84.3 308.2,83.8 307.8,82.3M319.8,84.1 322.2,86.1 321.1,87.3 319.8,84.1" fill="none" stroke="#a428c6" stroke-width="1.3" stroke-linejoin="round" stroke-linecap="round"/>
<circle cx="292.1" cy="79.8" r="6.6" fill="#000"/>
</g>
<rect x="183.3" y="16.5" width="326.3" height="126.5" fill="none" stroke="#000" stroke-width="1.5"/>
<text x="183.3" y="151.6" font-size="7.3" text-anchor="middle" fill="#1a1a1a" stroke="#1a1a1a" stroke-width="0.3" textLength="12.5" lengthAdjust="spacingAndGlyphs">30E</text>
<text x="237.7" y="151.6" font-size="7.3" text-anchor="middle" fill="#1a1a1a" stroke="#1a1a1a" stroke-width="0.3" textLength="12.5" lengthAdjust="spacingAndGlyphs">60E</text>
<text x="292.1" y="151.6" font-size="7.3" text-anchor="middle" fill="#1a1a1a" stroke="#1a1a1a" stroke-width="0.3" textLength="12.5" lengthAdjust="spacingAndGlyphs">90E</text>
<text x="346.5" y="151.6" font-size="7.3" text-anchor="middle" fill="#1a1a1a" stroke="#1a1a1a" stroke-width="0.3" textLength="16.6" lengthAdjust="spacingAndGlyphs">120E</text>
<text x="400.8" y="151.6" font-size="7.3" text-anchor="middle" fill="#1a1a1a" stroke="#1a1a1a" stroke-width="0.3" textLength="16.6" lengthAdjust="spacingAndGlyphs">150E</text>
<text x="455.2" y="151.6" font-size="7.3" text-anchor="middle" fill="#1a1a1a" stroke="#1a1a1a" stroke-width="0.3" textLength="12.5" lengthAdjust="spacingAndGlyphs">180</text>
<text x="509.6" y="151.6" font-size="7.3" text-anchor="middle" fill="#1a1a1a" stroke="#1a1a1a" stroke-width="0.3" textLength="16.6" lengthAdjust="spacingAndGlyphs">150W</text>
<line x1="183.3" y1="143.0" x2="183.3" y2="145.3" stroke="#000" stroke-width="1"/>
<line x1="237.7" y1="143.0" x2="237.7" y2="145.3" stroke="#000" stroke-width="1"/>
<line x1="292.1" y1="143.0" x2="292.1" y2="145.3" stroke="#000" stroke-width="1"/>
<line x1="346.5" y1="143.0" x2="346.5" y2="145.3" stroke="#000" stroke-width="1"/>
<line x1="400.8" y1="143.0" x2="400.8" y2="145.3" stroke="#000" stroke-width="1"/>
<line x1="455.2" y1="143.0" x2="455.2" y2="145.3" stroke="#000" stroke-width="1"/>
<line x1="509.6" y1="143.0" x2="509.6" y2="145.3" stroke="#000" stroke-width="1"/>
<line x1="180.8" y1="29.1" x2="183.3" y2="29.1" stroke="#000" stroke-width="1"/>
<text x="178.7" y="31.8" font-size="7.3" text-anchor="end" fill="#1a1a1a" stroke="#1a1a1a" stroke-width="0.3" textLength="12.5" lengthAdjust="spacingAndGlyphs">20N</text>
<line x1="180.8" y1="54.4" x2="183.3" y2="54.4" stroke="#000" stroke-width="1"/>
<text x="178.7" y="57.1" font-size="7.3" text-anchor="end" fill="#1a1a1a" stroke="#1a1a1a" stroke-width="0.3" textLength="12.5" lengthAdjust="spacingAndGlyphs">10N</text>
<line x1="180.8" y1="79.8" x2="183.3" y2="79.8" stroke="#000" stroke-width="1"/>
<text x="178.7" y="82.5" font-size="7.3" text-anchor="end" fill="#1a1a1a" stroke="#1a1a1a" stroke-width="0.3" textLength="8.3" lengthAdjust="spacingAndGlyphs">EQ</text>
<line x1="180.8" y1="105.0" x2="183.3" y2="105.0" stroke="#000" stroke-width="1"/>
<text x="178.7" y="107.8" font-size="7.3" text-anchor="end" fill="#1a1a1a" stroke="#1a1a1a" stroke-width="0.3" textLength="12.5" lengthAdjust="spacingAndGlyphs">10S</text>
<line x1="180.8" y1="130.4" x2="183.3" y2="130.4" stroke="#000" stroke-width="1"/>
<text x="178.7" y="133.1" font-size="7.3" text-anchor="end" fill="#1a1a1a" stroke="#1a1a1a" stroke-width="0.3" textLength="12.5" lengthAdjust="spacingAndGlyphs">20S</text>
<text x="181.3" y="11.6" font-size="14.8" font-weight="bold" fill="#000">(a)</text>
<text x="205.0" y="11.9" font-size="10.0" letter-spacing="0.15" fill="#1c1c1c" stroke="#1c1c1c" stroke-width="0.15">OBS</text>
<g clip-path="url(#cpb)">
<g filter="url(#bl)">
<path d="M65.3,185.3 66.1,185.7 67.1,185.9 69.4,185.6 70.6,185.1 70.5,185.7 71.0,187.2 72.9,190.6 77.1,189.9 79.3,191.4 81.2,193.2 80.3,195.4 78.8,197.4 72.0,195.7 69.3,197.2 67.0,199.0 67.8,200.3 70.5,203.2 74.1,204.8 74.6,204.9 75.2,204.6 80.4,201.5 87.7,195.0 89.7,193.0 90.3,192.2 90.4,191.5 89.5,190.7 82.2,185.4 78.0,182.6 74.0,180.9 74.0,179.9 72.8,178.2 70.8,176.6 68.7,175.6 66.8,175.5 65.7,175.6 64.8,176.0 64.0,176.6 63.5,177.3 63.4,178.3 63.7,181.4 64.7,184.3ZM103.5,192.5 106.0,192.9 110.4,193.2 120.8,193.2 128.4,194.6 129.4,194.5 130.2,194.0 130.8,193.2 131.5,191.4 131.5,190.4 131.2,189.6 129.6,188.2 127.0,187.0 122.9,185.6 110.1,184.1 106.6,183.9 105.2,184.0 102.8,184.7 100.9,185.9 100.0,187.2 99.9,187.9 100.1,188.8 101.0,190.6 102.6,192.0ZM124.6,202.1 126.5,203.1 129.4,204.1 132.7,203.9 135.1,203.3 135.9,202.9 136.5,202.2 138.1,199.5 139.8,195.7 139.9,193.4 139.7,189.2 139.8,188.4 140.1,187.8 141.9,185.7 143.3,184.8 149.6,183.5 152.0,182.8 152.3,182.2 152.7,180.2 152.4,178.1 152.0,177.5 151.0,177.1 147.1,176.0 141.6,175.1 136.8,175.6 133.7,176.4 132.9,176.8 132.6,177.5 132.4,178.7 132.6,181.5 132.9,183.6 133.3,184.2 136.0,187.7 136.4,188.4 136.4,190.7 135.8,195.0 135.5,195.7 135.1,195.8 131.2,194.9 128.8,195.7 127.2,196.5 126.2,197.4 124.6,200.3 124.2,201.7ZM41.0,194.5 41.5,195.0 43.5,196.5 46.2,197.8 49.3,196.4 51.6,195.0 52.1,194.5 52.4,192.1 52.4,188.4 52.1,186.0 51.6,185.4 49.3,183.6 46.2,181.9 43.1,183.0 40.8,184.3 40.3,184.8 40.2,185.7 40.6,191.7ZM64.8,192.4 63.6,190.7 62.1,189.6 60.1,189.2 58.3,189.5 56.5,190.7 55.5,192.2 55.1,194.2 55.4,196.0 56.5,197.8 58.0,198.8 60.1,199.2 61.9,198.9 63.6,197.8 64.6,196.3 65.1,194.2ZM52.3,209.5 54.4,210.2 56.6,210.2 57.2,209.9 58.2,208.9 58.7,207.8 58.7,207.3 57.9,206.2 55.6,204.8 54.1,204.5 51.4,204.9 50.4,205.6 50.3,206.1 50.8,207.5ZM67.7,218.6 68.5,219.4 70.5,220.5 72.2,220.8 73.6,220.3 74.7,219.1 75.5,217.4 76.0,213.9 75.8,211.3 75.5,210.2 74.2,208.0 73.3,207.0 71.4,205.4 69.6,204.5 67.6,204.1 66.6,204.3 65.9,204.7 65.5,205.6 65.3,207.0 65.4,209.0 66.0,213.7 67.0,217.4ZM34.5,222.0 35.7,223.5 37.5,224.6 33.1,228.0 31.3,229.8 34.8,232.9 38.8,235.7 42.7,232.9 46.2,229.8 44.4,228.0 39.7,224.4 41.0,223.7 42.0,222.3 42.5,220.1 42.3,216.1 42.0,215.0 41.0,213.3 39.4,211.9 37.9,211.1 36.3,211.1 35.5,211.4 34.2,212.3 33.7,213.1 33.4,215.5 33.5,218.5 34.1,221.1ZM59.9,235.1 62.2,238.9 63.7,240.7 67.7,242.5 74.7,244.8 72.0,244.8 70.5,244.6 63.6,243.1 62.2,243.1 58.4,244.0 53.7,245.6 50.4,247.2 48.3,249.4 47.3,250.9 45.7,253.8 45.3,255.0 45.5,257.5 47.1,263.4 48.8,271.7 49.3,275.5 48.8,287.6 49.7,294.9 50.1,296.4 50.5,297.3 51.2,297.6 52.3,297.6 54.7,296.9 56.6,296.1 58.0,294.8 60.9,291.2 67.0,286.4 70.4,282.8 71.3,282.0 72.2,281.6 73.5,281.5 77.3,281.8 82.6,282.8 85.0,284.0 89.6,286.9 91.2,287.3 94.8,287.6 101.7,288.8 107.4,290.9 108.7,291.2 109.5,291.2 109.9,290.7 110.5,288.5 110.5,286.1 110.4,285.2 108.9,283.6 105.6,281.0 105.2,280.4 105.2,279.8 106.1,278.2 107.9,276.5 108.6,276.3 112.5,276.2 113.0,276.0 112.9,274.9 112.2,273.3 111.2,271.9 106.5,268.8 104.3,267.1 103.6,265.9 100.6,258.6 100.0,257.4 99.1,256.5 93.0,252.5 88.6,247.2 87.3,246.0 86.1,245.3 84.4,244.9 81.9,244.8 83.8,243.2 87.1,239.9 92.4,233.3 93.4,231.7 94.0,229.7 94.0,227.9 93.7,227.4 91.2,226.2 83.8,224.0 72.0,221.6 67.3,220.1 65.5,219.9 62.3,221.5 60.1,223.2 59.6,224.0 59.2,226.9 59.2,231.1 59.6,234.1ZM30.1,246.6 30.4,254.0 30.6,254.7 31.0,255.1 32.3,255.3 33.6,254.5 34.1,253.7 34.5,252.6 35.1,249.1 35.5,245.5 35.5,244.1 35.0,241.8 34.2,240.1 33.2,239.2 32.6,239.2 31.2,239.7 29.9,240.9 29.6,241.6 29.5,243.4ZM160.3,184.1 162.1,184.3 166.3,183.9 168.1,183.5 169.3,182.8 170.1,181.9 170.5,180.5 170.7,178.9 170.6,177.4 170.1,176.0 169.3,175.1 167.8,174.5 165.7,174.2 163.1,174.1 160.6,174.2 158.5,174.5 157.2,175.1 156.6,176.1 156.4,177.6 156.6,179.4 157.2,181.1 158.0,182.6 158.9,183.6ZM250.8,197.4 253.5,197.7 255.0,197.4 259.5,192.6 261.7,190.6 262.8,190.1 266.0,189.3 270.1,188.9 270.8,189.1 272.7,190.3 275.1,192.3 279.3,198.3 280.1,199.0 281.1,199.5 287.4,201.2 291.8,202.2 294.2,202.5 295.0,202.4 295.9,202.1 300.0,199.8 301.8,199.0 302.1,199.5 302.4,200.5 303.1,204.2 303.3,204.9 305.7,206.4 307.6,207.2 308.4,207.3 309.2,207.1 311.8,206.1 313.1,205.4 314.2,204.7 314.6,204.1 314.6,191.7 313.6,189.4 312.4,187.8 311.8,187.4 311.1,187.4 301.7,189.6 299.3,190.0 298.5,189.9 297.1,188.4 294.3,184.0 292.9,179.8 292.4,178.8 291.7,178.2 288.5,177.6 283.5,177.2 280.1,177.3 279.2,177.6 278.3,178.4 275.1,181.4 273.2,181.9 270.8,182.4 269.2,182.4 269.0,181.9 268.7,178.2 268.3,177.8 267.5,177.7 264.4,178.3 260.0,179.7 257.9,181.3 254.2,184.8 252.7,186.8 251.0,190.0 249.6,193.1 249.2,194.0 249.2,194.6 250.1,196.6ZM188.6,209.9 190.2,211.0 194.3,213.1 197.2,216.4 198.4,217.4 199.9,216.5 203.5,213.1 209.7,209.5 210.2,209.0 210.3,208.3 209.5,204.4 208.5,202.4 205.8,200.5 199.6,196.9 198.4,196.4 196.4,196.3 193.7,196.8 191.9,197.4 188.6,200.1 186.4,202.4 186.0,203.2 186.0,204.0 186.9,206.6ZM263.5,224.6 264.5,225.9 266.0,226.9 266.8,227.1 267.5,227.1 270.0,226.2 277.1,227.4 278.8,227.9 281.3,228.1 284.0,227.7 293.3,227.6 296.4,227.6 298.7,228.0 300.0,228.1 303.1,227.5 306.3,227.1 307.6,226.7 308.5,226.1 309.0,225.5 309.1,224.8 308.9,224.1 308.4,223.5 307.3,222.9 303.8,221.5 299.5,220.3 295.8,219.5 287.2,218.7 281.4,217.3 278.5,217.0 275.6,217.1 268.6,218.0 264.8,219.6 263.3,220.6 263.0,221.2 263.0,221.9 263.4,222.9 263.3,224.0ZM270.1,263.9 272.7,259.8 277.7,255.6 279.3,253.2 281.0,251.3 281.7,251.5 287.6,254.0 288.7,253.4 290.6,251.7 292.2,250.7 294.6,249.7 295.9,249.7 299.4,250.5 301.1,251.3 301.6,252.0 304.4,258.1 308.9,260.9 309.4,261.5 309.7,262.4 311.0,269.0 312.1,269.9 312.9,270.2 313.7,270.1 314.4,269.6 314.6,268.9 314.6,233.8 314.4,233.0 313.8,231.7 313.0,230.9 311.0,229.8 310.1,229.6 309.1,229.9 308.5,230.5 308.5,231.1 308.7,235.6 308.5,236.3 308.0,236.8 305.9,238.1 302.7,239.7 294.3,243.1 289.5,247.6 288.4,248.5 287.6,248.9 286.8,248.5 285.9,247.6 283.1,243.8 280.8,241.3 280.1,240.9 279.3,241.0 277.8,240.1 275.7,239.5 273.4,239.2 272.0,239.5 266.5,241.6 259.8,240.9 258.2,240.9 256.7,241.3 251.4,243.3 246.3,243.0 242.7,242.4 235.5,240.7 228.4,240.0 226.4,239.2 213.9,232.8 208.5,231.2 204.8,230.7 200.5,230.9 197.8,231.3 194.5,232.7 191.3,234.5 188.2,237.2 185.5,240.2 184.9,241.3 183.6,244.9 182.6,246.3 180.5,248.1 177.8,248.9 175.6,249.3 174.3,249.3 171.8,248.6 168.6,247.4 165.9,245.5 159.5,240.5 158.3,239.7 157.1,239.2 155.6,239.3 154.5,239.6 152.0,240.8 150.3,242.3 149.8,243.4 149.7,244.4 149.6,246.5 150.1,248.7 151.8,252.5 153.9,256.5 156.2,260.1 158.6,263.3 160.4,265.1 163.5,267.7 163.8,269.9 164.5,271.4 165.1,272.0 166.6,273.2 168.4,274.3 170.8,275.4 173.5,276.3 176.2,276.7 179.1,276.5 180.6,276.1 179.6,280.3 179.1,281.6 176.1,286.3 172.2,290.7 169.7,294.8 169.1,296.2 169.0,298.0 169.3,299.0 170.7,300.3 171.6,300.7 173.9,301.0 182.0,301.4 190.4,301.1 193.4,300.6 195.2,299.0 195.6,298.4 196.2,296.4 196.4,294.2 196.1,286.8 195.4,282.8 193.3,277.5 193.2,276.6 193.6,274.8 194.4,272.6 196.8,270.5 198.8,269.4 199.5,269.2 201.2,271.7 201.6,272.8 202.7,277.2 204.0,279.9 205.9,282.3 207.5,283.2 209.0,283.2 211.1,282.4 213.1,281.2 214.2,280.0 214.7,278.8 215.3,276.5 215.9,273.1 216.2,269.7 221.7,272.5 223.3,272.9 224.3,272.7 225.8,272.1 227.5,271.0 228.9,269.8 232.0,272.9 231.7,273.1 231.4,273.7 231.3,274.6 232.1,276.5 233.5,277.9 235.4,278.5 239.2,278.9 240.4,279.1 247.3,282.8 251.4,283.8 253.9,284.1 255.9,283.7 257.4,282.6 258.4,281.1 258.6,279.6 257.9,277.9 256.0,275.5 253.4,274.1 250.4,273.2 251.5,272.6 252.5,271.2 252.8,269.6 252.5,269.0 251.9,268.5 250.8,268.0 246.8,266.8 245.8,266.3 245.1,265.7 247.6,261.9 249.6,262.0 252.9,262.7 259.6,264.4 266.4,264.6 266.3,265.4 266.8,265.5 268.6,264.8ZM179.3,263.6 184.2,259.5 187.2,258.4 188.3,258.4 188.9,258.8 190.4,258.6 191.4,258.7 192.3,259.4 192.9,260.5 192.6,261.4 191.9,261.8 191.3,262.0 191.5,262.5 190.6,263.3 185.3,267.6 184.9,267.1 183.8,266.5 182.3,266.2 177.9,265.9 178.6,264.5ZM215.6,253.7 217.7,253.1 218.9,253.0 220.3,253.7 220.9,254.4 220.9,255.0 220.1,255.8 219.3,256.2 217.4,256.3 216.2,256.1 215.5,255.7 215.1,255.0 215.1,254.3ZM166.4,286.7 167.0,287.0 168.5,287.0 169.0,286.7 169.3,286.2 169.3,285.3 168.8,282.5 168.0,279.8 167.6,278.9 167.1,278.4 165.9,278.0 164.9,278.4 164.6,278.9 164.6,279.8 165.1,284.0 165.8,286.2ZM293.1,298.2 293.4,297.8 290.0,295.6 286.9,292.1 285.1,290.5 283.5,289.4 281.8,288.6 279.3,288.0 277.7,288.0 276.0,288.5 272.8,290.0 269.3,292.4 264.6,296.1 263.8,297.1 263.8,297.9 265.0,298.5 268.1,298.9 272.8,299.0 283.8,298.9 291.7,298.5Z" fill="#a7d9b2" fill-rule="evenodd"/>
<path d="M107.8,184.0 109.4,184.5 111.5,184.7 115.2,184.8 119.9,184.5 122.5,184.0 123.5,183.7 125.2,182.7 126.1,181.7 126.0,181.1 124.5,180.0 120.4,178.3 119.0,178.0 116.1,177.6 111.6,177.8 110.4,178.0 108.4,178.8 106.3,180.6 106.0,181.1 106.0,182.2 106.6,183.2ZM97.2,184.1 99.8,183.2 100.8,182.4 100.8,181.9 100.1,180.6 98.8,179.5 98.2,179.2 97.5,179.2 95.6,179.5 94.1,180.2 93.7,180.7 94.0,181.8 95.2,183.2 96.5,184.0ZM18.5,181.4 18.7,183.1 19.7,185.8 20.4,186.9 21.2,187.7 22.5,188.2 24.1,188.2 25.2,187.7 26.8,186.7 28.6,188.0 29.8,188.7 31.2,189.0 32.8,188.8 35.1,187.8 36.8,186.5 37.7,185.1 38.0,183.7 38.0,182.0 37.6,180.5 36.5,178.3 35.5,177.2 34.0,176.2 32.8,175.7 29.6,174.8 26.4,174.8 23.8,175.6 22.2,176.5 20.9,177.3 19.7,178.5 19.0,179.6ZM58.3,188.2 58.5,188.9 59.5,189.9 61.8,191.7 62.9,192.1 64.0,191.7 66.2,189.9 67.2,188.9 67.4,188.2 67.2,187.4 66.2,186.4 64.0,184.6 62.9,184.2 61.8,184.6 59.5,186.4 58.5,187.4ZM29.4,192.1 28.5,190.5 27.8,189.8 26.7,189.2 24.9,189.0 23.2,189.7 22.3,190.5 21.8,191.2 21.1,193.3 21.2,195.1 21.9,197.0 23.2,198.2 24.8,198.9 26.0,198.9 27.6,198.2 28.7,197.3 29.5,195.7 29.8,193.9ZM35.2,202.4 36.7,204.5 38.2,206.2 38.8,206.6 39.2,206.5 39.7,206.2 40.3,205.0 40.4,204.1 40.3,203.2 39.3,200.4 36.9,195.8 36.2,194.9 35.5,194.6 34.8,194.6 34.1,194.8 33.1,195.8 32.8,197.0 33.6,199.6ZM101.1,205.8 100.7,209.1 102.4,213.3 102.4,213.9 101.7,218.2 99.8,221.8 99.3,224.6 100.0,229.3 100.4,230.9 101.2,232.7 98.1,234.6 94.3,238.5 92.7,241.6 92.1,243.3 91.9,244.8 92.3,247.6 93.7,251.5 95.2,253.8 97.5,256.7 99.9,258.9 103.7,261.8 108.9,264.6 111.3,265.5 110.0,266.3 110.0,266.7 114.1,267.1 115.7,267.4 116.8,268.0 117.3,269.1 117.6,270.4 118.0,275.2 118.3,276.5 119.6,279.8 120.8,281.6 121.8,282.3 124.6,283.4 128.0,284.2 133.6,284.9 139.7,285.0 143.5,284.7 146.5,284.1 151.8,282.3 159.0,281.0 161.2,280.1 163.0,278.9 164.1,277.4 164.3,276.5 164.1,275.5 162.8,273.3 160.1,269.7 157.4,264.3 156.4,263.1 155.1,262.2 153.4,261.6 151.4,261.3 147.7,261.1 145.3,257.2 142.1,248.4 138.9,243.5 137.0,240.1 135.5,231.0 138.4,224.5 138.8,223.3 139.1,221.3 138.4,219.1 137.6,217.6 136.3,216.0 134.5,214.3 132.7,213.0 126.4,209.0 124.3,207.9 118.0,205.7 113.3,203.6 110.0,202.4 108.1,201.9 106.4,202.1 107.3,197.7 107.2,196.6 106.9,195.9 105.8,195.0 104.4,194.8 103.0,195.2 101.3,196.3 100.0,198.0 99.6,199.0 99.6,200.3 99.9,201.7ZM21.9,209.9 25.4,212.5 27.1,213.1 27.8,212.9 28.9,212.0 29.6,210.6 29.6,209.9 28.7,208.1 27.0,206.1 25.4,204.9 24.7,204.7 23.8,204.9 22.3,205.6 21.2,206.6 21.0,207.0 20.9,207.6 21.2,208.8ZM47.1,226.2 49.3,224.0 47.1,221.8 44.8,224.0 46.8,226.0ZM25.2,222.9 24.8,221.6 24.2,220.5 23.4,219.7 22.5,219.2 21.7,219.0 20.8,219.1 19.7,219.7 19.0,220.5 18.3,221.6 18.0,222.9 17.8,225.7 18.3,228.3 19.0,229.4 19.7,230.2 20.9,230.8 22.1,230.8 23.3,230.3 24.2,229.4 24.9,228.1 25.3,226.3 25.4,224.9ZM33.7,274.9 35.8,272.5 37.9,269.0 38.0,268.3 37.8,267.8 37.4,267.3 36.9,267.1 36.2,267.0 35.5,267.3 33.1,269.0 30.3,271.7 28.7,273.8 28.7,274.5 29.2,275.1 31.0,275.7 32.0,275.8 32.9,275.5ZM40.1,297.8 40.3,296.9 39.9,295.7 38.4,293.4 36.7,291.6 34.3,290.0 33.0,289.4 31.7,289.0 30.4,288.8 29.2,289.0 28.0,289.4 26.7,290.0 24.5,291.6 22.0,294.5 21.3,295.7 20.9,296.9 21.1,297.8 21.9,298.5 23.9,298.9 27.0,299.2 34.2,299.2 37.3,298.9 39.3,298.5ZM86.7,298.2 86.7,297.9 86.4,297.4 85.1,296.6 83.5,296.2 81.0,296.1 78.4,296.2 76.5,296.6 74.5,297.4 73.8,297.9 73.6,298.2 74.0,298.5 75.2,298.7 79.9,298.8 84.7,298.7 86.1,298.5ZM212.4,196.7 215.0,196.8 216.6,196.4 217.8,195.3 219.9,192.3 223.6,189.7 224.5,187.8 225.2,183.6 225.0,181.4 224.5,180.7 223.9,180.2 223.0,179.9 221.0,179.6 218.7,179.9 215.7,180.7 212.8,182.1 211.6,183.1 210.7,184.3 209.2,187.6 208.8,189.4 208.3,192.3 208.5,193.3 209.5,194.9 210.9,196.0ZM141.1,200.1 142.3,203.4 143.5,204.9 144.2,205.2 146.1,205.1 147.9,204.4 148.5,203.9 148.9,203.1 149.4,200.9 149.2,197.4 148.9,196.4 147.9,194.3 146.6,192.8 145.9,192.3 145.1,192.0 143.2,192.1 141.4,192.7 140.9,193.2 140.6,193.9 140.4,195.8ZM154.7,211.8 155.3,212.9 156.8,214.6 159.2,216.1 160.9,216.5 161.7,216.4 163.4,215.7 165.1,214.0 171.7,204.4 172.6,202.4 172.6,200.9 172.3,200.2 171.8,199.7 171.1,199.3 170.2,199.0 168.9,199.0 160.1,200.7 155.6,200.6 154.8,200.9 154.2,201.5 153.8,202.6 153.6,205.8 153.9,209.3ZM266.0,214.6 270.5,212.6 271.8,212.4 273.1,212.4 280.1,214.1 288.4,214.8 294.8,215.8 295.9,215.7 298.1,214.9 300.1,213.6 300.7,212.9 300.9,212.4 300.6,211.9 299.9,211.5 297.6,210.7 293.8,209.6 289.6,209.0 286.7,208.2 285.3,207.6 279.8,204.4 278.4,203.9 274.1,203.0 271.4,203.0 268.8,203.5 267.5,204.1 265.2,205.6 263.3,207.3 262.6,208.2 261.4,210.3 260.8,212.3 260.9,213.1 261.1,213.7 261.7,214.1 263.2,214.7 265.0,214.8ZM143.8,219.2 144.9,222.3 145.9,224.0 147.2,225.3 148.7,226.3 150.1,226.6 150.7,226.4 152.1,225.5 153.2,224.0 153.4,223.2 153.0,221.6 150.9,217.4 148.9,211.8 148.3,210.7 147.6,209.9 146.8,209.6 145.9,209.6 144.9,209.9 143.1,211.0 142.6,211.6 142.4,212.4 142.6,214.6ZM185.1,223.7 186.6,224.9 187.7,224.9 189.0,223.9 190.3,222.2 191.0,220.6 190.9,219.8 190.3,218.1 189.1,216.8 188.6,216.5 187.1,216.8 185.4,217.9 184.2,219.1 184.0,219.8 184.0,221.3 184.5,222.7ZM204.7,224.8 211.6,225.7 215.1,227.2 218.4,229.1 222.7,233.6 223.4,234.1 224.4,234.5 231.7,235.8 240.9,238.3 244.9,238.6 247.6,238.5 248.4,238.3 248.8,237.5 249.3,236.3 249.9,233.2 250.1,230.8 249.9,229.8 247.6,224.8 247.5,224.0 247.9,223.2 251.5,218.9 251.7,218.2 251.2,217.5 248.8,215.8 246.0,214.3 245.1,214.1 243.1,214.8 239.3,217.0 235.6,218.6 232.1,220.1 230.7,220.5 230.0,220.6 229.9,220.0 231.6,214.0 231.7,213.1 231.4,212.3 229.9,210.3 228.2,208.6 227.6,208.2 227.0,208.4 225.4,209.4 223.9,210.9 223.4,211.6 222.1,219.6 221.7,220.6 221.0,221.2 218.6,222.6 214.9,224.0 211.8,224.1 205.0,224.0 204.4,224.2ZM242.9,225.4 242.5,226.3 242.0,226.7 241.4,226.9 240.7,226.6 240.2,226.1 239.9,225.2 240.2,223.8 240.7,223.3 241.3,223.0 242.2,223.3 242.9,224.2ZM170.8,240.9 171.6,241.7 172.5,242.2 173.4,242.5 174.3,242.6 175.2,242.4 176.0,241.8 177.7,239.8 181.7,233.0 183.9,228.5 184.2,227.4 184.1,225.5 183.7,224.7 182.6,223.6 180.8,223.0 179.6,223.0 176.9,223.2 175.6,223.5 173.2,224.5 170.8,225.9 169.8,226.8 169.0,227.8 168.4,229.1 168.3,230.6 168.6,234.7 169.6,238.6 170.2,239.9ZM274.8,237.3 278.1,237.1 280.8,236.8 281.7,236.6 282.1,236.2 282.1,235.8 281.5,234.9 280.1,234.1 276.2,233.3 273.1,233.1 271.8,233.2 269.1,233.9 266.8,235.1 266.1,235.6 265.9,236.1 266.4,236.4 268.7,236.9ZM284.0,274.4 285.8,275.2 288.4,275.5 290.8,275.0 291.4,274.5 291.7,273.9 291.7,273.1 291.2,271.9 289.2,268.4 286.8,265.2 285.8,264.4 285.1,264.3 284.4,264.6 283.2,266.2 282.5,268.0 282.4,268.9 282.7,272.1 283.4,273.8ZM258.4,288.1 262.6,288.6 265.6,288.4 266.8,288.1 268.4,286.8 269.1,285.9 269.9,284.0 270.0,282.0 269.4,279.7 268.9,278.6 268.3,277.8 267.6,277.2 266.9,277.0 265.9,277.1 262.8,278.3 259.2,280.6 256.5,282.8 255.5,283.8 255.0,284.7 254.9,285.5 255.2,286.2 256.5,287.3ZM310.0,290.3 311.1,290.5 312.2,290.5 313.2,290.2 314.1,289.7 314.6,289.1 314.6,277.9 314.3,277.2 313.5,276.4 312.7,275.8 310.9,275.4 310.1,275.5 308.7,276.7 307.4,278.9 306.8,281.3 307.1,284.3 308.0,287.6 308.6,288.9 309.2,289.8ZM202.8,290.8 204.2,292.0 206.6,293.7 209.7,295.3 211.8,296.0 212.7,296.1 214.3,295.7 215.6,294.8 216.0,294.3 216.1,293.7 215.3,292.3 207.7,284.6 205.7,283.3 204.7,283.1 202.6,283.3 201.0,284.2 200.5,284.7 200.4,285.4 200.8,287.2 201.7,289.2ZM255.0,297.5 255.0,296.0 254.4,294.3 253.6,292.6 251.7,289.8 250.8,289.0 249.7,288.3 248.6,287.9 246.2,287.4 242.9,287.6 240.8,288.3 239.9,289.0 239.2,289.8 237.6,292.6 236.9,294.3 236.5,296.0 236.6,297.5 237.5,298.5 239.4,299.1 242.4,299.5 245.9,299.6 249.4,299.5 252.4,299.1 254.3,298.5ZM161.6,297.2 162.3,297.3 163.7,297.1 164.6,296.3 164.7,295.7 164.3,293.7 163.2,291.0 162.2,290.2 161.1,290.0 160.6,290.2 160.3,290.5 160.2,292.4 160.8,296.1 161.2,296.8Z" fill="#e7c3b9" fill-rule="evenodd"/>
<path d="M70.8,180.5 70.3,179.4 69.5,178.7 68.2,178.2 67.1,178.3 65.9,178.9 65.2,179.8 64.8,181.0 64.9,182.2 65.5,183.3 66.3,184.1 67.5,184.5 68.6,184.4 69.8,183.8 70.5,183.0 70.9,181.7ZM107.1,190.3 110.4,190.7 113.8,190.6 117.6,189.8 119.4,189.2 119.7,188.9 118.7,188.4 113.8,187.4 108.1,186.0 107.1,186.0 104.7,186.4 102.4,187.3 101.6,187.8 101.3,188.2 101.6,188.5 103.4,189.4ZM49.1,188.2 48.3,186.1 47.7,185.4 46.8,184.9 46.1,184.8 45.2,185.0 44.0,186.2 43.6,187.1 43.2,188.7 43.2,191.0 43.8,193.2 44.4,194.0 45.1,194.6 46.0,194.9 46.8,194.8 47.7,194.3 48.4,193.5 48.9,192.6 49.2,191.0 49.3,189.8ZM63.4,193.3 62.8,192.1 61.8,191.3 60.5,190.8 59.3,190.9 57.9,191.5 57.2,192.5 56.7,193.8 56.8,195.0 57.4,196.3 58.3,197.1 59.7,197.6 60.9,197.5 62.2,196.9 63.0,196.0 63.5,194.6ZM57.2,206.4 56.3,206.1 55.4,206.3 54.9,207.1 55.1,207.9 55.4,208.2 56.1,208.5 57.1,208.2 57.5,207.9 57.7,207.3ZM73.4,211.2 72.6,209.4 71.4,208.5 70.0,208.3 69.2,208.7 68.4,209.3 67.7,210.7 67.4,212.7 67.7,214.6 68.7,216.1 69.5,216.7 70.5,216.9 71.6,216.7 72.5,215.9 73.1,215.0 73.5,213.6 73.6,212.5ZM40.1,216.7 39.6,215.0 39.1,214.4 38.4,213.9 37.9,213.8 37.2,213.9 36.7,214.4 36.1,215.1 35.6,217.2 35.6,219.6 36.2,221.4 37.2,222.4 37.9,222.6 38.4,222.4 39.1,222.0 39.6,221.3 40.2,219.1ZM63.5,233.3 61.8,236.8 61.3,238.3 62.6,238.6 67.0,239.0 71.7,242.2 73.8,243.3 74.6,243.3 76.8,242.4 79.7,240.7 81.4,238.6 84.3,234.1 84.7,233.2 84.8,231.5 84.5,229.6 83.8,228.1 80.6,225.4 77.9,223.6 77.1,223.2 76.4,223.3 72.7,225.5 72.0,225.7 71.2,225.4 66.2,222.5 65.5,222.3 64.8,222.4 63.0,223.2 61.6,224.4 61.3,224.9 61.8,227.0 63.5,231.5 63.7,232.4ZM49.0,261.9 50.5,267.1 52.1,274.3 52.3,276.8 51.9,285.2 52.6,289.3 53.3,291.7 53.7,292.2 54.1,292.2 54.7,291.7 61.7,284.7 62.2,284.0 62.4,283.2 62.9,277.9 64.3,275.8 65.6,274.6 66.1,274.3 67.8,274.7 72.0,276.5 75.4,277.4 78.8,278.2 83.0,278.5 84.7,278.9 85.2,279.5 87.4,283.5 88.0,284.0 88.8,284.2 91.3,284.4 94.6,284.0 96.0,283.2 97.5,282.0 98.7,280.6 100.0,278.5 101.4,275.5 102.2,273.1 102.1,269.3 101.3,265.6 99.5,262.1 97.2,258.8 95.2,257.2 92.6,255.4 86.1,251.6 82.4,250.2 75.7,248.7 67.0,247.0 62.2,246.5 57.4,247.4 53.0,248.9 50.0,251.2 48.4,253.2 47.9,254.0 47.9,256.1ZM107.6,283.5 106.4,283.0 105.1,283.5 104.6,284.7 105.1,285.9 106.4,286.4 107.6,285.9 108.1,284.7ZM165.6,179.5 163.8,179.0 161.9,179.2 160.7,179.8 160.3,180.4 160.3,180.9 161.0,181.7 161.9,182.1 163.4,182.4 165.0,182.1 165.9,181.7 166.5,180.9 166.4,180.2ZM153.0,180.3 152.5,179.2 151.7,178.4 150.4,178.0 149.3,178.1 148.1,178.7 147.4,179.5 147.0,180.8 147.1,182.0 147.7,183.1 148.5,183.8 149.7,184.3 150.8,184.2 152.0,183.6 152.7,182.8 153.1,181.5ZM278.7,191.1 280.1,194.9 282.2,198.0 283.4,199.0 285.3,199.4 290.0,199.8 295.2,201.4 295.9,201.5 296.6,201.3 300.3,199.4 303.3,197.1 304.7,195.5 305.1,194.9 304.9,193.3 304.1,191.2 303.3,189.9 302.8,189.7 301.0,189.9 298.5,190.6 295.0,194.0 294.1,194.7 293.5,194.9 292.9,194.5 292.1,193.6 289.3,188.9 288.2,184.2 287.6,182.4 285.2,180.3 283.2,179.1 282.5,179.0 280.7,179.7 276.6,182.4 274.1,184.9 272.7,186.8 272.5,187.4 272.9,187.9 277.7,190.1 278.4,190.6ZM133.3,198.1 132.8,197.1 131.7,196.3 130.4,196.2 129.3,196.6 128.6,197.5 128.1,199.0 128.2,200.1 128.8,201.4 129.4,202.0 130.4,202.4 131.3,202.4 132.3,201.9 133.0,201.2 133.5,200.1 133.6,199.2ZM191.8,203.6 191.0,203.1 190.1,202.9 189.2,203.1 188.4,203.6 187.9,204.4 187.7,205.3 187.9,206.3 188.4,207.1 189.2,207.6 190.1,207.8 191.0,207.6 191.8,207.1 192.3,206.3 192.5,205.3 192.3,204.4ZM284.9,220.6 283.9,220.1 282.2,219.7 281.1,219.7 280.0,219.9 278.9,220.3 277.1,221.6 276.1,222.7 276.0,223.7 276.2,224.2 277.2,225.2 279.1,226.2 281.7,226.7 283.4,226.6 284.2,226.4 286.8,225.0 287.6,224.0 287.5,223.5 286.1,222.4 285.5,221.3ZM152.5,248.9 155.8,255.4 158.0,258.8 160.3,262.0 162.8,264.3 165.3,266.3 168.0,267.7 169.8,268.4 170.5,268.5 172.0,268.3 173.6,267.7 174.9,267.1 177.1,262.7 182.2,258.2 184.5,256.9 187.3,256.2 189.2,256.3 190.1,256.9 191.0,257.9 192.3,258.5 193.8,260.1 193.9,260.9 193.5,261.6 193.9,262.7 193.7,263.4 192.1,265.0 186.0,270.0 184.4,272.7 183.0,275.8 181.7,281.0 181.0,282.6 177.8,287.6 174.0,292.0 172.3,294.6 171.2,297.0 171.2,297.9 171.9,298.5 174.0,298.8 182.1,299.2 190.3,298.9 192.5,298.5 193.5,297.6 194.0,296.0 194.2,294.0 193.7,286.0 193.2,283.3 191.2,278.0 191.0,276.4 191.5,274.2 192.5,271.4 194.6,269.4 196.9,267.8 199.4,266.9 200.5,267.1 201.0,267.4 202.1,268.9 203.5,271.4 204.8,276.5 205.4,277.9 206.4,279.5 207.5,280.8 208.0,281.1 208.5,281.1 211.1,279.9 212.3,278.9 212.6,278.2 213.7,272.9 214.1,268.5 214.6,267.1 215.0,267.0 216.6,267.4 223.2,270.7 224.8,270.1 226.6,268.9 228.2,267.5 229.1,267.1 230.0,267.7 232.1,270.0 235.1,272.7 236.4,273.6 236.9,273.5 238.0,272.8 239.4,271.4 240.1,267.1 243.0,264.9 245.3,261.1 246.6,259.8 248.6,259.7 251.2,260.1 260.0,262.2 266.0,262.5 268.3,262.2 268.8,261.8 269.1,261.1 269.7,258.7 270.1,258.1 275.1,254.0 278.2,251.1 279.2,249.6 279.4,248.8 279.0,244.9 278.4,243.1 277.1,242.2 275.1,241.6 273.3,241.4 272.5,241.6 268.9,243.1 266.8,243.8 258.4,243.1 251.7,245.5 249.2,245.5 246.0,245.2 242.2,244.6 235.0,242.9 230.0,242.5 227.7,242.1 225.4,241.1 213.0,234.9 208.0,233.4 204.7,232.9 200.6,233.1 198.4,233.4 195.4,234.7 192.5,236.3 189.8,238.8 187.3,241.4 185.6,245.8 184.2,247.7 182.1,249.7 179.6,250.8 177.0,251.4 174.9,251.6 172.6,251.1 168.5,249.8 167.6,249.4 165.7,248.1 158.2,242.2 156.7,241.4 156.0,241.4 154.2,242.1 152.1,243.6 151.8,244.7 151.8,246.4ZM215.0,253.4 217.4,252.4 218.9,252.3 219.5,252.5 220.8,253.3 221.7,254.3 221.8,255.1 221.2,256.0 219.6,256.9 218.2,257.0 216.5,256.8 215.3,256.4 214.6,255.6 214.3,254.6 214.4,254.1ZM285.6,297.9 285.6,297.0 285.2,296.0 283.0,292.5 281.3,291.0 280.1,290.5 279.4,290.5 277.3,291.2 275.9,292.2 273.7,295.5 273.1,296.7 272.9,297.8 273.3,298.5 274.6,298.9 279.2,299.2 283.8,298.9 285.1,298.5Z" fill="#40b377" fill-rule="evenodd" stroke="#d8684a" stroke-width="0.9" stroke-dasharray="1.3,1.3"/>
<path d="M22.3,185.3 22.8,185.7 23.3,185.8 26.2,184.2 27.0,184.0 27.7,184.3 30.6,186.3 31.3,186.5 32.1,186.4 33.8,185.7 35.1,184.7 35.5,184.0 35.6,183.3 35.3,181.5 34.4,179.6 33.7,179.0 31.8,178.0 29.3,177.3 28.1,177.2 25.9,177.5 24.7,178.0 22.6,179.2 21.2,180.7 21.0,181.5 21.1,182.5 21.4,183.5ZM119.2,181.0 117.4,180.2 115.3,179.8 112.4,179.8 110.2,180.2 109.2,180.5 108.2,181.3 107.9,181.9 108.2,182.4 108.8,183.0 110.2,183.6 113.1,184.0 115.3,184.0 118.0,183.4 119.5,182.4 119.7,181.6ZM59.6,188.2 62.9,190.8 63.2,190.6 66.1,188.2 64.6,186.7 62.9,185.5 61.1,186.7ZM27.6,191.9 26.8,191.1 25.4,190.6 24.3,190.9 23.4,191.6 22.7,193.1 22.7,194.4 23.2,196.0 24.0,196.9 25.1,197.3 25.7,197.3 26.8,196.9 27.4,196.4 27.9,195.3 28.2,194.0 28.1,193.1ZM102.9,208.2 103.1,209.3 104.6,213.3 104.3,216.1 103.8,218.9 101.9,222.5 101.5,224.2 102.1,228.7 102.9,231.3 103.4,232.0 104.3,232.1 107.6,231.7 112.1,230.8 115.1,229.1 115.3,229.2 115.4,230.2 111.8,231.7 106.3,233.1 102.1,235.0 99.6,236.7 96.2,240.1 95.4,241.5 94.7,243.3 94.4,244.7 94.5,245.8 95.0,247.9 96.0,250.5 98.0,253.3 100.1,255.8 104.1,259.1 106.7,260.6 110.5,262.6 110.0,262.9 110.2,263.3 115.6,265.6 117.6,266.6 118.9,267.7 119.2,268.3 119.3,269.4 119.0,275.5 119.2,278.4 119.8,279.0 122.2,280.1 130.1,282.3 132.0,282.5 132.8,282.5 135.8,281.6 143.8,278.9 155.2,276.2 156.9,275.3 158.4,273.7 158.6,273.3 158.0,272.2 155.8,269.2 147.5,259.1 145.3,255.6 144.6,254.8 143.8,254.5 141.7,254.6 139.9,249.6 136.8,244.9 134.6,240.7 132.9,230.7 136.5,222.4 136.6,221.5 136.3,220.4 135.0,218.4 133.6,216.9 132.2,215.7 124.1,210.6 122.9,210.1 121.6,209.8 121.2,209.2 120.5,208.9 117.1,207.8 112.4,205.6 109.3,204.4 107.4,204.2 104.9,204.6 103.8,205.1 103.3,206.1ZM145.1,224.2 145.4,224.9 145.7,225.3 146.6,225.2 147.4,224.4 147.7,223.3 147.5,221.6 146.8,219.1 146.1,218.2 145.2,217.8 144.9,217.8 144.7,218.2 144.6,218.9ZM47.8,223.4 47.1,223.0 46.5,223.3 46.2,224.0 46.5,224.7 47.1,224.9 47.7,224.7 47.9,224.0ZM23.2,221.9 22.2,220.8 21.3,220.6 20.2,221.5 19.7,222.8 19.3,224.9 19.7,227.1 20.2,228.4 21.3,229.3 21.9,229.3 22.7,228.7 23.5,227.1 23.8,224.4ZM216.1,188.3 215.4,187.9 214.8,188.2 214.6,188.9 214.8,189.6 215.4,189.9 216.0,189.6 216.3,188.9ZM157.1,209.9 158.0,211.3 159.5,212.4 161.1,213.0 162.6,212.9 164.2,211.9 166.0,209.9 166.5,208.5 166.6,207.7 166.4,206.2 165.5,205.0 162.8,203.5 161.0,203.2 159.4,203.5 157.8,204.4 156.8,205.6 156.6,207.2ZM268.3,210.4 274.2,211.1 278.4,212.4 281.7,213.7 283.4,214.1 285.4,213.8 287.3,213.2 288.4,212.4 288.5,211.9 287.8,210.8 285.1,208.3 282.1,206.3 280.1,205.6 279.2,205.6 278.4,205.9 276.0,207.1 275.1,207.3 274.1,207.2 270.0,206.1 268.4,206.2 267.0,206.9 266.1,207.8 265.9,208.2 265.9,208.6 266.6,209.4ZM224.8,229.9 224.1,229.5 223.3,230.0 223.1,230.9 223.6,231.8 224.2,231.9 224.9,231.5 225.1,230.8ZM229.8,230.8 231.7,233.2 231.9,233.0 233.6,230.8 231.7,228.3ZM171.1,233.5 171.7,234.7 173.2,236.2 174.3,236.6 175.5,236.2 177.2,234.7 178.0,233.5 178.7,231.2 178.5,229.8 177.5,228.7 175.9,227.7 174.3,227.4 173.0,227.7 171.7,228.7 170.9,229.8 170.7,231.2ZM247.1,233.4 246.4,232.8 245.4,232.5 244.4,232.5 243.5,233.0 242.9,233.6 242.5,234.6 242.5,235.2 242.9,236.1 243.5,236.8 244.8,237.3 245.7,237.2 246.7,236.8 247.3,236.1 247.7,235.2 247.6,234.3ZM263.7,284.6 262.8,284.4 261.8,284.5 261.3,284.8 261.1,285.3 261.4,285.7 261.8,285.9 262.6,286.0 263.4,285.9 263.8,285.7 264.1,285.3 264.1,285.0ZM240.9,298.5 242.1,299.0 243.9,299.2 245.9,299.3 249.7,298.9 250.8,298.5 251.3,297.9 251.5,297.0 251.3,296.0 250.1,293.2 249.6,292.5 248.2,291.5 245.8,290.5 244.0,290.4 242.2,290.6 241.5,290.9 240.9,291.5 240.2,293.6 240.0,296.5 240.3,297.7Z" fill="#c29086" fill-rule="evenodd" stroke="#e8584c" stroke-width="0.9"/>
<path d="M69.7,180.3 69.2,179.7 68.1,179.2 67.4,179.3 66.6,179.7 66.1,180.3 65.8,181.1 65.9,181.9 66.2,182.7 66.8,183.2 67.6,183.5 68.4,183.5 69.2,183.1 69.7,182.5 69.9,181.6ZM47.7,187.5 47.2,186.5 46.2,186.0 45.3,186.5 44.6,187.9 44.3,189.9 44.6,191.8 45.0,192.9 46.0,193.7 46.4,193.7 47.2,193.2 47.8,191.8 48.1,189.9ZM62.0,192.7 61.3,192.1 60.4,191.8 59.5,191.9 58.6,192.3 58.0,193.0 57.7,193.9 57.7,194.8 58.2,195.7 58.9,196.3 59.8,196.6 60.7,196.5 61.6,196.1 62.2,195.4 62.5,194.5 62.4,193.6ZM72.0,210.7 71.4,209.9 70.5,209.5 69.5,209.9 69.0,210.7 68.6,212.2 68.6,213.4 69.1,214.8 70.0,215.6 70.5,215.7 71.0,215.6 71.7,215.1 72.0,214.5 72.4,212.6ZM39.0,216.1 38.6,215.3 37.9,214.8 37.2,215.3 36.7,216.5 36.5,218.2 36.7,219.9 37.0,220.8 37.7,221.5 38.1,221.5 38.6,221.1 39.1,219.9 39.3,218.2ZM66.4,237.7 67.9,238.8 70.2,239.9 72.7,240.6 74.8,240.5 76.8,239.6 78.4,238.3 78.8,237.5 78.9,236.6 78.9,235.6 78.6,234.4 77.6,232.3 76.4,230.9 74.9,230.0 74.0,229.7 72.0,229.8 70.9,230.2 68.3,231.6 66.1,233.4 65.5,234.1 65.2,234.9 65.2,235.6 65.4,236.3ZM55.0,259.0 56.7,262.2 58.7,264.6 61.9,267.2 66.6,270.5 70.9,273.2 76.5,275.8 78.8,276.5 80.1,276.7 84.1,276.7 85.3,276.9 86.3,277.2 86.9,277.9 87.4,278.8 88.4,281.7 88.9,282.3 89.6,282.5 91.2,282.4 93.0,281.8 93.7,281.3 95.0,280.1 99.1,273.2 100.2,270.8 100.5,269.7 100.6,266.4 100.1,264.2 99.0,262.1 97.2,260.0 95.0,258.1 90.8,255.3 85.6,252.9 82.0,251.8 76.0,250.9 70.0,250.5 63.9,250.7 60.4,251.3 59.0,251.8 56.7,253.2 55.8,254.0 54.5,255.6 54.3,256.3 54.2,256.9ZM56.7,273.4 56.8,278.2 57.2,279.6 58.0,280.4 58.7,280.6 59.9,279.1 60.8,276.5 60.8,274.4 60.6,272.2 60.1,270.7 59.7,270.4 59.2,270.2 58.0,270.5 57.1,271.4ZM151.7,179.8 151.1,179.3 150.1,179.0 149.3,179.1 148.6,179.6 148.2,180.3 148.0,181.1 148.2,182.0 148.6,182.7 149.3,183.1 150.1,183.3 150.9,183.1 151.5,182.7 152.0,182.0 152.1,181.1ZM132.2,198.0 131.7,197.4 130.8,197.1 130.2,197.3 129.6,197.7 129.2,198.7 129.1,199.6 129.5,200.6 130.0,201.2 131.0,201.4 132.0,200.8 132.4,200.1 132.6,199.3ZM187.7,251.3 188.0,251.6 188.4,251.5 190.5,250.2 191.0,250.1 194.9,252.2 195.5,252.3 196.2,252.1 198.8,250.5 199.8,249.4 199.5,247.8 198.5,244.9 198.4,244.3 199.5,243.4 202.1,242.3 203.5,242.1 206.8,242.5 209.5,243.1 214.6,245.0 217.5,247.1 220.3,249.4 222.3,252.0 224.1,255.0 226.9,260.9 228.3,263.2 229.8,263.9 231.7,264.1 233.3,263.9 234.0,263.6 237.6,261.0 239.2,260.1 242.9,258.7 245.1,258.1 247.1,258.0 250.7,258.0 260.0,258.8 264.9,257.9 266.8,257.1 267.3,256.6 268.4,254.8 269.2,252.3 269.1,251.7 268.4,250.5 266.8,248.9 263.6,247.8 261.0,247.3 260.0,247.2 258.9,247.4 254.3,249.0 251.7,249.6 249.1,249.2 242.2,247.5 228.3,245.5 224.5,245.2 223.3,244.6 218.9,240.7 214.4,238.1 212.3,237.0 209.1,235.9 206.7,235.3 204.7,235.1 200.6,235.3 197.6,235.8 193.2,237.8 190.1,239.5 188.0,241.0 187.3,241.6 186.9,242.4 186.3,244.8 186.0,247.1 186.0,247.9 186.4,249.3ZM154.7,250.6 157.2,255.5 161.2,261.1 163.3,263.2 164.5,263.9 167.2,264.6 170.3,264.6 172.8,264.1 173.6,263.8 174.3,263.2 176.4,260.5 180.6,258.1 184.9,255.1 186.0,253.7 186.2,253.0 186.1,251.1 185.6,249.7 185.3,249.4 184.8,249.5 184.3,249.9 182.2,251.8 181.5,252.3 178.8,253.3 175.7,253.7 173.6,253.6 171.3,253.1 168.1,251.7 160.2,245.7 158.2,244.6 157.4,244.3 156.6,244.3 155.1,244.8 154.0,245.9 153.7,246.5 153.7,247.9ZM215.6,265.6 216.0,266.3 216.5,266.8 218.0,267.3 219.6,267.3 220.8,266.6 221.8,265.1 222.5,263.4 222.5,262.7 222.5,262.0 221.9,260.5 220.9,259.4 219.5,259.0 217.6,259.2 215.8,260.0 215.3,260.5 214.9,262.3 215.0,263.5ZM200.3,261.3 200.9,262.4 203.0,263.2 204.2,264.1 204.9,265.8 205.3,267.8 205.9,271.1 206.1,274.7 206.4,276.5 206.8,277.1 207.8,277.9 208.9,278.1 209.4,277.9 210.0,276.8 210.5,275.0 211.3,270.5 211.6,266.7 211.5,264.5 211.2,262.5 210.1,259.8 208.9,258.2 207.3,256.9 205.7,256.2 203.9,256.2 201.9,256.7 200.5,257.6 200.0,258.9ZM182.0,298.8 183.6,298.2 184.0,297.9 185.3,295.6 188.7,290.8 190.2,287.9 191.0,286.0 191.7,282.9 191.9,278.1 191.4,275.7 190.6,274.5 190.3,274.3 189.9,274.3 189.7,274.7 188.7,278.7 187.0,282.3 185.3,284.7 184.6,285.2 182.3,286.1 181.5,286.7 180.8,287.6 178.9,291.1 177.1,295.4 176.5,297.2 176.4,298.5 176.9,299.2 178.0,299.4 179.3,299.4Z" fill="#209a5b" fill-rule="evenodd" stroke="#52ac74" stroke-width="0.4"/>
<path d="M30.5,180.3 30.0,179.8 29.2,179.5 27.9,179.6 26.9,180.3 26.6,180.9 26.7,181.6 27.1,182.2 27.7,182.6 28.7,182.8 29.5,182.7 30.2,182.3 30.7,181.6 30.8,180.9ZM116.8,181.3 115.1,180.9 113.0,180.8 111.1,181.2 110.4,181.9 110.9,182.4 111.7,182.7 114.7,182.9 116.3,182.6 117.0,182.3 117.3,181.9ZM26.3,193.4 25.5,192.8 24.8,193.0 24.4,194.0 24.7,194.8 25.4,195.2 26.0,194.9 26.4,194.1ZM109.6,212.2 109.3,213.3 109.4,213.9 110.2,217.9 109.6,219.4 106.9,224.3 106.9,225.2 109.3,227.6 111.4,229.2 112.1,229.5 113.7,229.3 116.0,228.2 116.2,228.3 116.5,229.6 116.5,230.8 115.6,231.3 112.8,232.5 106.6,234.2 103.7,235.5 100.9,237.0 98.1,239.6 97.1,240.8 96.4,242.0 95.8,243.6 95.5,245.0 96.3,248.5 97.5,250.8 100.8,255.0 104.0,257.6 106.2,259.1 111.8,261.9 125.1,266.2 124.0,267.6 123.7,268.9 123.9,270.6 125.4,275.4 126.0,276.5 126.5,276.9 130.3,279.1 131.0,279.4 132.7,279.6 136.5,279.4 142.1,277.5 150.0,275.3 153.0,274.3 154.2,273.2 154.9,271.9 153.8,269.4 152.5,267.7 148.5,263.7 146.2,260.4 144.9,259.7 142.1,259.0 139.0,250.1 135.8,245.5 133.5,241.1 131.8,230.6 132.5,228.7 135.3,222.4 135.4,221.3 134.7,219.8 132.9,217.7 131.6,216.6 124.5,212.1 122.7,211.2 121.7,210.9 121.3,210.3 120.6,210.1 116.5,209.7 111.7,210.0 110.7,210.5ZM246.1,234.3 245.4,233.7 244.5,233.8 243.9,234.6 244.0,235.5 244.8,236.0 245.7,235.9 246.3,235.2ZM242.4,297.1 242.6,297.9 243.0,298.5 244.8,299.0 248.4,298.8 249.1,298.5 249.4,298.1 249.5,297.5 249.2,296.1 248.4,294.4 247.1,293.3 245.6,292.9 243.8,293.0 243.0,293.7 242.5,295.2Z" fill="#9c695e" fill-rule="evenodd" stroke="#dcc8c0" stroke-width="0.45"/>
<path d="M69.9,236.9 71.4,238.0 72.0,238.3 72.7,238.2 73.4,237.9 74.8,236.9 75.5,235.8 75.4,235.3 75.2,234.6 74.1,233.2 72.9,232.4 72.2,232.5 71.4,232.8 69.6,233.8 68.7,234.9 68.9,235.4ZM207.7,241.1 208.0,242.1 208.7,242.8 215.3,245.5 216.5,246.4 221.6,250.9 224.6,252.7 226.2,253.3 227.2,255.9 228.0,257.2 229.1,258.1 230.8,258.6 232.8,258.9 235.0,258.8 237.6,258.3 243.4,256.6 248.9,255.8 253.1,255.5 260.0,255.6 262.9,254.9 264.0,254.3 264.2,254.0 263.5,253.4 261.0,252.5 258.9,252.2 254.7,252.4 251.7,252.3 241.6,249.6 235.9,248.8 233.3,248.9 230.7,249.4 228.4,250.3 226.6,251.5 226.1,250.1 225.1,248.8 217.7,243.1 214.1,240.7 211.1,239.4 208.8,239.1 208.0,239.5 207.8,240.0ZM198.0,246.7 197.5,246.0 196.4,245.5 195.7,245.6 194.9,246.0 194.4,246.7 194.1,247.9 194.3,248.9 194.7,249.6 195.4,250.1 196.2,250.4 197.5,249.8 198.0,249.1 198.2,248.2ZM163.9,260.7 166.2,262.0 167.3,262.3 171.2,262.3 173.5,262.0 175.3,261.2 176.7,260.0 177.1,259.5 177.1,259.1 176.1,258.5 171.9,257.6 167.1,256.2 164.0,256.3 161.9,256.8 161.3,257.2 161.0,257.6 161.2,258.2 161.9,259.0ZM65.4,264.5 67.0,266.3 69.0,267.9 76.0,271.9 80.4,273.8 82.6,274.4 84.9,274.7 87.1,274.8 89.4,274.5 91.7,273.9 93.7,273.1 95.5,272.0 97.1,270.6 98.1,269.0 98.3,268.1 98.2,266.1 97.6,264.1 97.2,263.2 95.9,261.6 93.2,259.5 89.6,257.6 85.3,256.0 81.0,254.8 76.8,254.0 74.3,254.0 70.8,254.7 68.7,255.6 65.6,257.8 64.1,259.6 63.7,260.5 63.7,261.5 64.1,262.4ZM206.3,264.1 207.1,270.0 208.1,273.5 208.7,274.3 208.9,274.1 209.5,272.8 210.1,270.0 210.0,266.9 209.6,264.9 209.4,264.1 208.4,262.9 206.8,262.0 206.4,262.0 206.2,262.2Z" fill="#14743f" fill-rule="evenodd" stroke="#3c9460" stroke-width="0.4"/>
<path d="M114.3,212.8 115.9,216.4 116.1,217.0 116.0,217.4 114.4,220.1 111.3,223.1 111.1,223.5 111.1,223.9 111.5,224.9 112.4,226.2 117.0,227.6 117.5,229.5 117.5,231.0 117.3,231.5 116.1,232.2 112.4,233.7 106.2,235.4 102.2,237.4 100.3,238.8 97.9,241.4 97.0,243.2 96.6,244.5 96.7,246.4 97.9,249.6 101.5,254.2 105.4,257.4 107.7,258.8 112.1,261.0 120.9,263.7 129.8,266.7 131.0,267.3 131.3,268.4 131.4,270.7 131.8,272.3 132.6,274.4 133.4,275.1 135.9,275.8 138.1,275.9 143.6,274.6 147.5,273.3 149.1,272.1 149.4,271.4 149.2,270.9 143.8,263.7 141.4,259.8 138.1,250.6 135.0,246.0 132.6,241.4 130.8,230.5 131.6,228.3 134.1,222.9 134.5,221.6 134.3,221.0 132.8,219.0 131.1,217.4 124.8,213.4 122.3,212.1 120.7,211.8 116.2,212.0 114.4,212.4Z" fill="#6d4338" fill-rule="evenodd" stroke="#d0bab2" stroke-width="0.45"/>
</g>
<line x1="72.2" y1="293.1" x2="72.2" y2="176.3" stroke="#2a2a2a" stroke-width="1.05" stroke-dasharray="1.1,4.13"/>
<line x1="124.2" y1="293.1" x2="124.2" y2="176.3" stroke="#2a2a2a" stroke-width="1.05" stroke-dasharray="1.1,4.13"/>
<line x1="176.2" y1="293.1" x2="176.2" y2="176.3" stroke="#2a2a2a" stroke-width="1.05" stroke-dasharray="1.1,4.13"/>
<line x1="228.3" y1="293.1" x2="228.3" y2="176.3" stroke="#2a2a2a" stroke-width="1.05" stroke-dasharray="1.1,4.13"/>
<line x1="280.3" y1="293.1" x2="280.3" y2="176.3" stroke="#2a2a2a" stroke-width="1.05" stroke-dasharray="1.1,4.13"/>
<line x1="23.2" y1="188.4" x2="332.3" y2="188.4" stroke="#b8b4b8" stroke-width="0.85" stroke-dasharray="1.3,3.93"/>
<line x1="23.2" y1="212.6" x2="332.3" y2="212.6" stroke="#b8b4b8" stroke-width="0.85" stroke-dasharray="1.3,3.93"/>
<line x1="20.2" y1="236.8" x2="332.3" y2="236.8" stroke="#5cc85c" stroke-width="1.35" stroke-dasharray="2.2,1.4"/>
<line x1="23.2" y1="261.0" x2="332.3" y2="261.0" stroke="#b8b4b8" stroke-width="0.85" stroke-dasharray="1.3,3.93"/>
<line x1="23.2" y1="285.2" x2="332.3" y2="285.2" stroke="#b8b4b8" stroke-width="0.85" stroke-dasharray="1.3,3.93"/>
<path d="M28.3,175.1 28.9,177.3 29.7,178.7 29.9,181.1 32.2,183.6 32.7,186.0 32.9,189.6 34.9,193.2 36.2,198.1 37.0,200.3 39.6,202.2 42.2,205.3 43.3,206.6 42.9,208.7 44.5,211.1 46.2,211.4 49.7,209.9 53.1,209.5 55.7,208.0 57.0,208.2 57.0,211.4 56.3,213.8 54.9,217.4 53.1,221.1 51.4,225.9 48.5,230.5 46.7,232.0 44.5,234.4 41.9,238.0 40.1,241.2 39.1,242.4 37.7,244.5 36.8,246.7 36.0,249.1 35.5,251.8 36.5,253.5 36.5,256.2 36.8,258.6 38.1,261.7 38.4,263.9 38.4,268.3 38.9,271.9 38.6,273.8 37.2,276.2 34.1,278.7 32.3,280.1 31.1,282.3 28.7,284.7 28.3,286.7 29.4,288.8 29.7,290.5 29.7,293.7 29.6,295.4 28.7,298.5M32.3,175.1 32.9,176.3 34.1,178.7 35.1,180.4 36.0,183.6 36.1,185.3 37.2,187.2 38.8,189.4 40.0,192.0 41.4,194.5 42.2,196.9 42.4,200.0 43.1,203.4 43.6,206.1 46.2,205.8 48.8,204.4 51.4,202.9 54.0,201.0 56.6,199.8 58.7,198.8 58.9,197.4 60.9,196.4 62.7,195.7 64.1,194.2 65.8,193.5 67.0,191.1 68.4,190.8 68.2,187.9 69.8,187.4 70.5,185.0 71.9,182.4 70.0,179.7 67.4,178.7 66.3,177.3 65.8,175.1M55.9,175.1 56.3,176.8 57.1,177.8 57.7,178.5 59.4,178.2 61.8,178.5 63.0,176.8 64.1,175.6 64.9,174.8M56.4,174.8 57.5,176.3 57.7,174.8M74.8,175.1 77.4,175.8 80.0,175.7 83.1,175.1 83.8,176.5 85.0,178.7 86.4,179.7 87.3,180.9 89.2,181.6 90.1,181.1 88.3,182.8 87.8,183.1 88.9,184.5 90.2,186.2 91.3,186.7 93.0,185.7 93.9,183.1 94.4,184.8 94.2,186.0 94.4,190.8 94.8,194.5 96.1,199.5 97.9,205.6 99.6,209.7 100.3,212.6 101.5,216.2 102.6,217.2 103.8,215.3 105.2,214.3 105.7,211.9 106.7,211.9 106.5,209.0 107.4,205.1 107.1,200.5 108.5,198.6 109.0,197.6 110.9,196.6 112.6,194.0 115.2,190.6 117.0,188.9 118.7,187.7 119.0,184.8 120.8,184.3 122.5,184.0 124.2,183.6 125.3,182.4 126.5,182.1 127.4,182.8 127.7,185.0 128.4,186.9 129.3,188.2 130.6,190.8 131.7,193.2 132.0,196.9 131.5,198.1 133.4,198.8 135.2,197.4 136.0,195.7 136.7,196.1 137.4,197.4 137.8,200.5 138.3,202.9 139.0,206.6 139.3,210.2 139.0,212.6 138.6,215.0 138.6,217.7 139.5,217.0 140.4,219.1 141.6,221.1 142.1,223.5 142.8,226.6 143.8,229.5 144.7,230.8 145.9,232.0 147.5,233.4 148.3,233.7 149.0,233.4 148.7,231.2 147.6,230.0 147.5,228.1 147.5,225.9 146.4,223.2 145.4,221.8 144.3,220.1 143.1,219.9 142.3,218.7 141.9,216.2 141.4,214.3 140.4,214.3 140.2,211.4 140.9,209.0 141.4,206.6 141.6,204.6 142.6,204.1 143.3,204.9 143.1,206.3 144.7,206.3 145.6,207.3 146.6,208.5 146.9,210.2 147.8,211.1 149.0,211.4 150.1,212.4 149.9,215.7 150.9,215.0 152.7,213.6 153.4,211.6 154.2,211.6 155.4,210.9 157.2,209.2 157.7,206.6 157.9,204.1 157.4,201.7 156.8,199.8 155.8,197.8 154.6,196.4 153.2,194.2 152.7,193.0 151.5,191.1 151.8,188.9 153.0,187.7 153.7,186.0 155.4,184.8 156.3,184.3 158.0,184.8 158.6,186.2 159.3,187.7 159.8,187.4 159.6,185.5 160.6,184.8 162.4,184.0 164.5,183.3 166.2,182.8 167.6,181.9 170.2,181.1 171.9,179.2 173.1,177.5 174.3,175.1M156.7,190.3 158.0,192.8 159.8,191.3 160.6,189.1 160.0,188.2 158.2,188.4 156.7,190.3M178.0,175.1 176.8,178.7 176.4,180.7 177.6,183.6 178.7,181.1 179.4,177.5 179.5,175.1M106.7,213.3 107.2,213.1 109.0,216.2 110.0,218.7 109.8,221.1 107.9,222.5 106.9,222.0 106.5,219.9 106.4,217.0 106.7,213.3M133.4,223.5 134.6,224.0 137.2,224.2 138.5,225.9 139.8,228.1 141.6,230.0 143.0,231.5 144.2,232.7 145.6,234.4 147.5,235.6 148.2,237.5 148.2,239.2 149.4,241.2 150.2,242.4 152.0,244.1 151.8,247.0 151.8,250.8 150.8,250.8 149.5,250.4 148.5,248.7 146.8,247.0 145.6,246.2 144.2,243.6 143.1,241.6 142.3,239.2 141.2,237.0 140.0,235.8 139.3,232.7 137.6,231.0 136.7,229.1 135.2,227.6 133.8,225.2 133.4,223.5M150.6,253.3 152.0,251.1 153.2,251.3 156.0,252.0 156.7,253.3 159.6,253.5 160.6,252.3 163.4,253.5 163.8,255.0 165.8,255.4 166.7,256.2 166.7,257.9 164.1,256.9 160.6,256.6 157.2,255.4 155.4,255.7 152.8,254.7 150.6,253.3M157.2,232.9 158.2,232.0 159.4,232.7 161.0,233.4 161.3,231.0 164.1,229.1 165.7,225.9 167.6,224.7 168.6,223.2 169.7,221.3 170.5,219.9 171.6,220.8 172.3,222.5 174.9,224.2 173.1,225.7 172.1,226.6 172.6,229.1 172.4,232.0 174.5,234.4 172.6,234.9 171.9,236.8 171.9,238.7 170.4,240.4 169.8,242.9 169.3,245.5 167.1,246.7 166.7,245.3 164.1,244.5 162.0,245.3 159.3,243.8 158.9,240.4 157.5,238.0 157.2,236.1 157.2,232.9M177.6,233.7 179.7,234.4 181.5,234.6 183.7,234.4 185.3,232.9 184.6,234.6 183.2,235.8 181.5,235.6 178.9,235.6 176.6,236.1 176.2,238.0 177.5,239.9 178.9,239.0 181.1,239.0 182.1,239.0 180.2,240.7 179.2,241.4 180.2,244.1 180.4,245.3 181.5,246.5 180.8,247.4 181.5,249.6 179.7,248.4 178.9,248.2 178.0,246.2 177.8,243.3 176.8,243.8 176.9,246.5 176.8,250.1 175.4,250.1 175.4,246.5 175.4,245.3 174.2,243.6 175.0,239.9 175.7,237.3 175.9,234.9 177.6,233.7M195.3,238.7 197.6,237.8 199.7,238.5 200.7,238.7 201.0,241.6 201.7,244.1 203.1,244.8 204.9,242.1 207.1,240.4 209.2,241.6 212.7,243.1 215.3,244.5 217.9,246.0 219.6,247.4 221.0,249.9 223.1,251.3 224.5,253.0 223.4,253.7 224.5,255.9 225.7,258.6 227.4,260.3 229.7,261.5 228.3,262.5 226.2,261.5 223.9,261.0 222.2,258.3 220.5,255.9 218.7,255.2 217.0,256.6 216.6,258.6 215.3,259.1 212.7,258.8 210.6,256.4 208.8,256.9 207.5,256.9 207.1,254.5 208.8,253.3 207.5,250.1 204.9,248.2 202.6,247.4 200.2,246.0 198.4,246.5 198.4,244.8 197.1,243.6 199.7,242.6 197.9,242.1 196.2,240.4 195.3,238.7M165.0,298.5 165.2,294.9 165.5,291.7 166.2,289.6 167.6,288.8 170.5,286.7 172.8,285.9 174.5,285.2 176.2,285.0 178.9,282.8 180.2,280.4 180.1,277.9 181.5,276.5 182.5,278.7 182.8,276.2 184.1,275.5 184.9,273.6 186.7,271.2 188.4,270.4 190.1,272.6 190.8,273.1 192.7,272.9 192.9,270.7 193.9,268.3 195.0,266.8 197.1,266.3 198.1,264.4 199.7,265.4 202.3,266.3 204.9,265.8 205.6,266.6 204.0,269.5 203.1,272.6 204.9,275.0 207.5,277.2 209.7,279.4 211.8,279.4 213.0,275.5 213.7,270.7 213.9,267.1 214.7,263.4 215.4,262.7 216.5,265.8 217.5,271.4 219.9,273.1 220.6,276.7 221.3,280.4 222.2,282.8 223.9,283.7 225.7,285.7 226.9,287.6 227.9,290.8 229.7,292.0 229.8,293.9 231.4,294.9 232.3,296.8 233.1,298.5M177.3,192.0 179.7,192.0 180.2,195.7 179.0,198.6 179.2,201.7 180.2,202.9 181.5,203.4 183.4,205.3 183.0,206.3 181.5,204.1 179.7,203.9 178.5,203.9 177.3,203.2 177.8,201.5 176.6,201.0 175.9,197.6 176.9,196.6 176.9,194.5 177.3,192.0M185.8,213.1 187.2,216.2 187.5,219.4 186.8,221.3 185.8,220.6 185.6,223.2 183.5,221.8 183.2,219.1 181.8,218.7 180.1,219.9 179.9,217.7 181.5,216.2 182.8,217.0 184.4,216.0 185.8,215.0 185.8,213.1M183.7,206.6 185.4,206.8 186.1,209.7 184.9,211.9 184.4,209.7 183.7,206.6M179.7,208.2 181.6,209.0 182.1,211.4 181.5,214.8 180.6,213.6 179.7,211.4 179.7,208.2M171.4,216.5 173.6,213.8 175.4,210.7 175.0,209.5 173.3,212.6 171.4,216.5M178.0,204.4 178.9,206.1 178.2,207.0 177.1,204.6 178.0,204.4M166.7,256.6 168.6,256.9 167.9,258.1 166.7,256.6M169.3,257.1 170.5,257.1 170.2,258.3 169.3,258.1 169.3,257.1M170.7,257.4 172.8,256.6 174.7,257.1 173.6,258.1 171.0,258.6 170.7,257.4M176.1,257.4 178.0,257.1 181.3,256.6 181.1,257.6 178.9,258.3 176.2,258.1 176.1,257.4M174.5,259.8 176.2,259.5 177.6,261.0 176.2,261.7 174.5,260.3 174.5,259.8M182.3,261.7 184.1,259.3 185.8,257.9 188.4,257.1 187.5,258.6 184.9,260.5 183.2,261.7 182.3,261.7M189.4,232.0 190.1,233.2 191.3,233.2 190.5,234.9 191.5,236.1 190.1,236.1 190.1,238.7 189.6,236.8 189.3,234.4 189.4,232.0M190.1,244.1 192.7,243.6 195.0,245.0 192.7,245.0 190.1,245.0 190.1,244.1M186.7,244.5 188.4,244.3 188.7,245.5 187.2,246.0 186.7,244.5M225.3,250.4 227.4,250.1 229.1,250.1 230.9,248.7 232.3,247.0 232.1,248.9 230.0,251.3 227.4,251.8 225.3,250.4M229.7,243.1 231.7,244.5 233.5,247.7 232.9,248.2 231.2,245.0 229.7,243.1M236.2,250.1 237.8,251.3 238.5,253.3 237.3,252.8 236.2,250.1M239.5,253.0 241.3,254.5 240.8,254.7 239.5,253.0M243.0,255.2 245.3,257.1 244.7,257.4 243.0,255.2M244.9,259.3 247.0,260.5 246.1,260.8 244.9,259.3M246.8,257.1 247.9,259.8 247.2,259.1 246.8,257.1M247.9,261.7 249.6,262.9 248.7,262.7 247.9,261.7M257.0,273.1 258.1,274.6 257.4,274.6 257.0,273.1M258.3,275.5 259.1,276.7 258.4,276.7 258.3,275.5M259.8,279.4 260.3,279.9 259.8,279.9 259.8,279.4M261.6,282.1 261.7,282.8 261.4,282.5 261.6,282.1M252.5,285.4 255.1,287.6 257.7,290.8 256.9,290.8 254.3,288.6 252.5,285.4M275.6,279.1 277.7,278.9 277.9,280.6 275.8,280.6 275.6,279.1M278.0,277.2 280.1,276.2 279.4,277.5 278.0,277.2M292.9,269.5 293.8,269.7 293.3,270.2 292.9,269.5M294.2,270.4 295.0,270.7 294.5,270.9 294.2,270.4M321.9,189.1 323.6,188.6 323.8,189.9 322.6,191.1 321.9,189.1M320.7,186.2 321.7,186.5 321.2,186.9 320.7,186.2M318.1,184.8 318.9,185.0 318.4,185.3 318.1,184.8M315.5,183.3 316.0,183.3 315.8,183.8 315.5,183.3M23.1,237.3 24.5,236.3 27.1,236.1 27.5,238.0 27.0,239.9 25.9,242.1 25.1,243.6 23.7,243.1 23.3,240.4 23.1,237.3M19.0,245.0 19.7,247.7 19.5,250.8 21.1,254.2 21.9,257.6 21.2,257.4 20.2,254.5 18.8,251.3 18.8,247.7 19.0,245.0M27.1,260.0 28.0,262.2 27.7,265.4 28.5,268.3 29.2,271.4 28.5,271.2 28.0,269.0 27.3,265.8 27.3,262.9 27.0,260.5 27.1,260.0M53.7,265.8 55.2,269.5 55.7,273.8 54.5,274.3 54.2,277.5 53.8,280.4 52.8,285.2 51.8,290.0 50.7,293.9 49.8,297.1 48.3,297.8 46.6,298.8 44.5,297.5 44.0,294.9 43.3,290.8 44.1,287.6 45.2,285.2 45.0,281.6 44.5,278.7 45.3,276.0 47.1,275.3 48.8,274.3 50.5,272.6 51.4,269.7 52.8,267.5 53.7,265.8M64.1,287.6 64.9,287.9 64.4,288.3 64.1,287.6M67.7,285.4 68.4,285.7 68.1,286.4 67.7,285.4M60.8,206.3 62.5,206.3 61.8,207.0 60.8,206.3M136.7,233.4 137.9,235.1 137.4,234.6 136.7,233.4M139.3,239.2 140.4,241.2 139.7,240.7 139.3,239.2M150.8,240.9 153.0,242.9 152.0,244.1 150.8,240.9" fill="none" stroke="#a428c6" stroke-width="1.3" stroke-linejoin="round" stroke-linecap="round"/>
<circle cx="124.2" cy="236.8" r="6.6" fill="#000"/>
</g>
<rect x="20.2" y="176.3" width="312.1" height="121.0" fill="none" stroke="#000" stroke-width="1.5"/>
<text x="20.2" y="305.9" font-size="7.3" text-anchor="middle" fill="#1a1a1a" stroke="#1a1a1a" stroke-width="0.3" textLength="12.5" lengthAdjust="spacingAndGlyphs">30E</text>
<text x="72.2" y="305.9" font-size="7.3" text-anchor="middle" fill="#1a1a1a" stroke="#1a1a1a" stroke-width="0.3" textLength="12.5" lengthAdjust="spacingAndGlyphs">60E</text>
<text x="124.2" y="305.9" font-size="7.3" text-anchor="middle" fill="#1a1a1a" stroke="#1a1a1a" stroke-width="0.3" textLength="12.5" lengthAdjust="spacingAndGlyphs">90E</text>
<text x="176.2" y="305.9" font-size="7.3" text-anchor="middle" fill="#1a1a1a" stroke="#1a1a1a" stroke-width="0.3" textLength="16.6" lengthAdjust="spacingAndGlyphs">120E</text>
<text x="228.3" y="305.9" font-size="7.3" text-anchor="middle" fill="#1a1a1a" stroke="#1a1a1a" stroke-width="0.3" textLength="16.6" lengthAdjust="spacingAndGlyphs">150E</text>
<text x="280.3" y="305.9" font-size="7.3" text-anchor="middle" fill="#1a1a1a" stroke="#1a1a1a" stroke-width="0.3" textLength="12.5" lengthAdjust="spacingAndGlyphs">180</text>
<text x="332.3" y="305.9" font-size="7.3" text-anchor="middle" fill="#1a1a1a" stroke="#1a1a1a" stroke-width="0.3" textLength="16.6" lengthAdjust="spacingAndGlyphs">150W</text>
<line x1="20.2" y1="297.3" x2="20.2" y2="299.6" stroke="#000" stroke-width="1"/>
<line x1="72.2" y1="297.3" x2="72.2" y2="299.6" stroke="#000" stroke-width="1"/>
<line x1="124.2" y1="297.3" x2="124.2" y2="299.6" stroke="#000" stroke-width="1"/>
<line x1="176.2" y1="297.3" x2="176.2" y2="299.6" stroke="#000" stroke-width="1"/>
<line x1="228.3" y1="297.3" x2="228.3" y2="299.6" stroke="#000" stroke-width="1"/>
<line x1="280.3" y1="297.3" x2="280.3" y2="299.6" stroke="#000" stroke-width="1"/>
<line x1="332.3" y1="297.3" x2="332.3" y2="299.6" stroke="#000" stroke-width="1"/>
<line x1="17.7" y1="188.4" x2="20.2" y2="188.4" stroke="#000" stroke-width="1"/>
<text x="15.6" y="191.1" font-size="7.3" text-anchor="end" fill="#1a1a1a" stroke="#1a1a1a" stroke-width="0.3" textLength="12.5" lengthAdjust="spacingAndGlyphs">20N</text>
<line x1="17.7" y1="212.6" x2="20.2" y2="212.6" stroke="#000" stroke-width="1"/>
<text x="15.6" y="215.3" font-size="7.3" text-anchor="end" fill="#1a1a1a" stroke="#1a1a1a" stroke-width="0.3" textLength="12.5" lengthAdjust="spacingAndGlyphs">10N</text>
<line x1="17.7" y1="236.8" x2="20.2" y2="236.8" stroke="#000" stroke-width="1"/>
<text x="15.6" y="239.5" font-size="7.3" text-anchor="end" fill="#1a1a1a" stroke="#1a1a1a" stroke-width="0.3" textLength="8.3" lengthAdjust="spacingAndGlyphs">EQ</text>
<line x1="17.7" y1="261.0" x2="20.2" y2="261.0" stroke="#000" stroke-width="1"/>
<text x="15.6" y="263.7" font-size="7.3" text-anchor="end" fill="#1a1a1a" stroke="#1a1a1a" stroke-width="0.3" textLength="12.5" lengthAdjust="spacingAndGlyphs">10S</text>
<line x1="17.7" y1="285.2" x2="20.2" y2="285.2" stroke="#000" stroke-width="1"/>
<text x="15.6" y="287.9" font-size="7.3" text-anchor="end" fill="#1a1a1a" stroke="#1a1a1a" stroke-width="0.3" textLength="12.5" lengthAdjust="spacingAndGlyphs">20S</text>
<text x="18.2" y="171.4" font-size="14.8" font-weight="bold" fill="#000">(b)</text>
<text x="41.9" y="171.7" font-size="10.0" letter-spacing="0.15" fill="#1c1c1c" stroke="#1c1c1c" stroke-width="0.15">CTL_TDK</text>
<g clip-path="url(#cpc)">
<g filter="url(#bl)">
<path d="M417.5,181.4 421.3,183.8 421.7,183.6 425.1,181.4 423.3,180.1 421.3,179.0 419.3,180.1ZM490.7,180.9 488.8,180.4 486.7,180.7 485.6,181.3 485.1,181.9 485.1,182.3 485.8,183.1 486.7,183.6 488.4,183.8 490.1,183.6 491.0,183.1 491.7,182.3 491.6,181.7ZM404.0,186.4 402.9,186.0 401.8,186.4 401.4,187.4 401.7,188.3 402.2,188.7 402.9,188.9 404.0,188.5 404.5,187.4ZM463.9,189.6 464.6,189.9 469.2,189.9 471.4,190.6 473.3,191.5 473.1,193.6 472.5,195.7 468.3,197.4 468.3,198.4 468.6,199.8 469.2,200.7 472.1,201.0 475.1,200.7 476.5,198.4 477.5,195.7 477.0,192.7 475.9,189.9 474.4,188.7 471.9,187.3 470.0,186.5 469.2,186.4 466.4,186.8 463.3,187.4 463.2,188.1ZM492.6,211.6 494.0,211.0 496.1,209.0 497.9,206.6 499.6,203.5 500.9,199.8 501.7,195.8 501.6,194.3 500.8,193.6 499.7,193.6 498.5,194.7 495.0,200.7 491.4,204.8 488.7,208.7 488.4,209.9 489.3,210.9 490.9,211.5ZM361.0,212.6 361.3,213.6 361.7,214.0 362.2,213.8 362.7,213.4 363.6,212.1 364.6,209.2 365.2,205.3 364.9,200.8 364.4,197.9 364.1,196.9 363.1,195.3 362.5,194.7 361.9,194.5 361.4,194.7 361.0,195.7 360.8,197.6 360.6,204.1ZM427.7,205.6 429.8,207.5 430.0,207.4 431.9,205.6 429.8,203.6ZM373.6,211.7 368.8,222.1 367.9,224.7 367.9,225.7 368.8,230.9 368.8,232.0 366.2,241.6 365.9,247.8 366.2,253.7 367.0,256.4 368.2,259.2 368.9,260.3 369.7,261.0 370.7,261.4 373.8,261.9 385.9,262.9 388.1,262.8 390.8,262.2 393.9,261.0 394.7,260.0 395.7,257.4 398.3,254.5 401.1,252.1 404.7,249.9 411.4,248.2 412.9,247.0 416.9,242.9 419.8,240.7 421.2,240.3 424.0,240.0 430.4,239.9 432.3,240.1 436.1,241.2 438.1,241.6 441.3,241.1 443.3,240.3 443.9,239.9 444.0,238.5 442.8,233.5 442.3,231.9 441.4,230.8 438.4,229.8 426.3,227.5 423.2,227.3 416.5,227.6 413.0,227.4 410.2,226.0 404.7,222.3 398.1,218.2 395.3,216.0 393.5,215.7 388.0,215.9 385.4,215.7 385.0,215.3 384.9,214.7 384.9,212.2 384.7,211.6 382.4,209.2 380.5,207.6 379.7,207.3 379.0,207.3 377.1,208.1 374.7,209.9ZM422.5,262.7 424.6,261.9 426.3,261.0 422.5,259.3 418.7,261.0ZM499.1,289.0 500.3,291.0 501.6,292.6 502.1,296.3 502.9,299.1 503.8,300.3 504.6,300.8 506.0,300.8 507.4,300.1 511.0,295.5 514.4,296.3 515.5,296.3 516.6,295.9 518.3,294.6 519.7,292.5 520.1,291.0 520.5,286.0 521.2,284.7 523.3,282.3 528.4,278.2 533.3,273.2 535.6,271.4 537.2,270.4 538.5,270.8 540.5,271.7 543.0,274.1 544.2,275.6 545.8,279.3 546.4,280.3 547.9,281.9 549.7,283.5 550.9,284.2 552.3,284.7 553.7,284.6 555.0,284.1 557.0,282.9 558.8,281.1 560.5,277.5 561.7,273.5 561.6,271.7 561.0,269.0 558.3,261.0 556.9,258.9 555.5,257.9 549.2,255.8 542.5,253.3 538.7,252.5 535.8,252.3 534.4,252.4 532.3,253.1 526.1,256.8 523.5,258.7 518.7,262.7 511.9,267.1 507.9,271.4 505.4,275.0 504.3,275.1 502.3,276.1 499.6,278.3 498.0,280.5 497.4,281.6 497.1,282.8 497.1,284.0 497.4,285.2ZM374.9,298.5 377.5,298.9 382.2,299.0 393.8,298.9 401.4,298.5 402.5,298.2 402.9,297.5 403.0,295.3 403.1,294.9 404.4,294.0 406.3,292.9 408.0,292.2 412.1,291.8 417.6,291.5 432.0,291.4 434.2,291.7 441.4,293.2 446.9,292.8 448.9,292.2 449.3,291.6 450.2,289.4 450.6,287.1 450.6,286.4 450.3,285.8 448.9,284.1 447.2,282.7 446.5,282.3 444.1,282.2 438.1,282.3 436.0,281.7 431.4,279.9 425.7,277.3 424.8,277.2 423.8,277.6 419.0,280.2 416.5,281.3 413.9,280.8 408.0,278.9 405.4,279.1 395.4,280.4 391.3,280.6 386.7,278.7 384.7,278.2 383.8,278.5 381.1,279.9 378.7,281.6 378.0,282.3 377.5,284.1 377.3,288.8 375.1,293.9 374.4,295.9 374.2,297.6ZM361.0,298.5 362.0,299.8 363.5,300.3 365.3,300.3 367.0,299.9 368.6,299.2 369.7,298.5 370.3,297.6 370.6,296.3 370.8,294.7 370.2,287.4 369.7,284.9 368.8,282.8 367.5,281.2 364.5,279.1 362.5,277.0 361.9,276.6 361.4,276.9 361.0,277.9 360.4,283.9 360.2,288.1 360.2,292.4 360.5,296.0ZM618.7,185.3 619.8,185.5 621.0,185.2 622.2,184.3 622.7,183.6 623.9,181.1 625.0,177.9 625.3,175.6 625.0,175.0 624.4,174.7 623.6,174.7 621.8,175.1 620.2,176.4 618.4,178.8 617.0,181.4 616.7,182.4 616.7,183.1 617.5,184.5ZM603.7,186.0 604.3,186.1 605.9,185.9 607.5,185.2 608.0,184.8 608.7,183.3 609.0,181.4 608.9,179.9 608.1,179.1 606.8,178.6 605.4,178.7 603.0,180.2 601.6,181.7 601.2,182.4 601.5,183.7 602.5,185.1ZM632.9,188.9 642.2,194.2 643.0,194.2 643.5,194.0 643.9,193.1 644.2,191.8 644.2,188.5 644.0,187.0 643.5,186.0 642.8,185.3 640.4,184.7 636.6,184.8 633.1,185.7 631.5,186.8 631.4,187.4 631.9,188.1ZM568.9,188.0 568.0,187.3 566.8,187.0 566.0,187.0 564.8,187.3 563.9,188.0 563.4,188.9 563.3,189.6 563.5,190.6 564.2,191.5 565.6,192.2 566.8,192.2 568.0,191.9 568.9,191.2 569.5,189.9 569.4,188.9ZM572.5,201.7 573.3,202.3 575.7,203.0 579.4,203.2 580.4,203.0 582.5,202.2 583.7,201.2 583.7,200.7 581.9,199.9 575.9,198.1 572.3,195.6 571.9,195.7 571.7,196.2 571.5,198.4 572.0,200.9ZM500.5,217.4 503.0,219.7 505.7,221.6 511.8,223.2 518.7,225.7 524.8,225.9 532.6,225.7 539.5,227.6 548.2,227.8 551.7,228.2 562.0,229.5 562.1,229.8 563.0,230.2 564.7,230.2 566.7,230.0 580.3,227.4 584.6,227.5 588.8,228.1 594.5,231.2 595.3,231.5 597.4,231.2 602.1,229.8 606.8,229.5 608.7,229.1 609.2,228.3 611.5,223.0 612.0,222.3 613.9,222.0 618.7,222.3 624.5,221.7 625.3,221.6 627.1,220.6 629.2,219.3 630.4,218.2 630.1,217.1 629.1,215.8 627.9,214.8 627.1,214.4 620.3,212.6 615.7,212.2 613.7,212.4 610.2,214.7 607.0,217.4 604.8,220.6 604.2,221.2 603.7,221.6 601.4,221.3 595.3,219.9 589.6,217.6 587.0,217.0 584.5,217.5 578.7,219.1 574.5,218.8 570.4,218.2 568.6,217.5 558.4,209.9 553.7,204.4 551.7,202.4 550.8,202.4 545.9,203.9 545.1,203.9 544.2,203.3 539.1,198.6 538.3,198.1 537.8,198.1 537.2,198.6 535.0,200.7 531.6,201.0 530.0,200.7 526.5,198.2 525.0,197.4 522.1,197.9 519.3,199.0 513.4,203.2 506.1,205.2 505.0,205.6 504.1,206.2 500.6,209.7 499.1,211.6 499.0,212.4 499.4,214.6ZM577.8,240.4 576.4,243.2 575.4,246.5 576.1,255.8 576.1,257.1 575.8,258.4 572.8,266.3 568.7,274.8 568.6,276.4 569.0,278.1 569.5,278.9 569.9,278.8 571.4,277.6 573.7,275.5 578.7,268.0 581.1,263.4 582.0,262.2 582.8,263.4 584.6,268.0 588.8,276.5 592.8,281.4 594.5,282.8 595.0,282.6 595.6,282.1 596.7,280.4 597.1,279.5 597.1,278.9 596.6,278.2 591.7,273.8 591.2,273.1 591.1,272.4 591.7,270.6 592.9,268.0 597.1,261.5 597.8,258.6 597.9,256.4 597.8,255.6 595.6,251.8 592.2,247.0 585.4,239.7 582.6,237.1 582.0,236.8 580.7,237.5ZM640.4,264.6 643.1,266.7 644.4,267.3 645.6,267.2 646.3,266.9 647.0,266.1 647.0,265.6 645.9,263.9 643.9,261.8 642.1,260.5 641.4,260.4 640.7,260.6 639.4,261.3 638.7,262.2 638.8,263.0ZM553.4,298.5 554.2,298.0 553.8,297.3 548.4,293.9 545.0,291.0 543.3,289.8 540.8,288.5 539.1,288.1 537.5,288.3 536.6,288.7 534.9,289.9 531.5,293.8 530.5,295.2 529.8,296.6 529.8,297.7 530.9,298.5 533.5,299.0 542.3,299.2 550.9,298.9ZM638.7,298.5 639.4,297.8 639.3,296.7 637.4,294.3 633.9,290.9 632.2,290.0 630.4,289.6 627.0,289.9 624.7,290.8 623.8,291.5 621.6,293.7 620.5,295.1 619.7,296.5 619.6,297.7 620.3,298.5 622.4,299.0 625.6,299.3 633.4,299.2 636.6,299.0Z" fill="#a7d9b2" fill-rule="evenodd"/>
<path d="M385.9,188.3 386.8,189.3 387.9,189.9 389.1,190.0 390.4,189.5 393.9,185.7 397.3,182.8 397.9,182.0 398.1,181.4 397.9,180.7 396.6,179.5 393.9,178.2 390.9,178.1 388.9,178.5 388.0,179.0 387.3,179.6 385.9,181.2 385.0,183.2 384.7,184.0 384.8,185.8ZM365.9,187.0 364.7,186.7 363.4,186.8 362.7,187.2 362.4,187.8 362.8,188.3 363.4,188.5 364.5,188.6 365.5,188.5 366.1,188.3 366.5,187.8 366.5,187.4ZM379.7,186.6 377.8,186.0 375.9,186.3 375.3,186.6 374.6,187.3 374.3,188.2 374.5,188.7 375.3,189.7 376.3,190.2 377.5,190.3 379.0,190.0 379.9,189.5 380.6,188.4 380.5,187.6ZM440.6,194.5 440.9,195.5 441.8,196.8 442.4,197.0 443.3,196.9 443.7,196.4 444.4,194.6 445.0,192.1 445.1,189.3 444.5,183.7 443.9,181.1 443.4,180.6 442.8,180.3 442.2,180.4 441.6,180.7 441.1,181.4 440.7,182.4 440.3,188.3ZM405.5,193.6 402.7,193.3 400.2,193.3 398.3,193.7 397.4,194.1 397.2,194.5 397.9,195.1 399.1,195.4 401.5,195.6 403.9,195.6 405.9,195.2 406.9,194.6 406.7,194.1ZM462.0,194.5 461.0,194.0 460.3,194.0 459.4,194.5 458.8,195.0 458.2,196.5 458.2,198.2 458.8,199.7 459.7,200.5 460.7,200.7 461.7,200.4 462.5,201.1 463.4,201.2 464.5,200.5 465.0,199.4 465.3,197.6 465.2,196.2 464.7,195.0 463.7,194.1 462.8,194.0ZM375.9,198.6 374.9,198.1 373.8,197.8 372.7,198.1 371.7,198.6 371.1,199.5 370.9,200.5 371.0,201.2 371.5,202.1 372.3,202.8 373.8,203.2 374.9,202.9 375.9,202.4 376.5,201.5 376.8,200.5 376.5,199.5ZM382.0,199.9 381.6,199.1 380.7,198.4 379.8,198.3 379.0,198.7 378.4,199.3 378.0,200.4 378.1,201.4 378.5,202.4 379.1,202.9 379.7,203.2 380.4,203.2 381.1,202.8 381.7,202.3 382.0,201.5ZM443.3,210.2 444.2,210.9 445.2,210.9 445.9,210.2 446.1,209.4 446.3,207.0 446.2,204.6 445.9,203.9 445.5,203.5 444.9,203.2 443.4,203.2 442.8,203.5 442.5,203.9 442.3,204.6 442.5,207.0ZM370.5,211.3 368.7,210.7 366.7,211.0 366.1,211.3 365.4,212.0 365.2,212.8 365.3,213.4 366.1,214.4 367.1,214.8 368.3,215.0 369.8,214.7 370.7,214.2 371.4,213.1 371.3,212.3ZM361.0,230.8 361.4,231.3 362.1,231.5 362.8,231.4 363.5,230.9 364.1,230.3 364.5,229.5 364.6,228.5 364.4,225.3 363.6,221.1 362.8,219.7 361.7,219.1 361.3,219.3 361.0,219.9 360.7,223.0 360.6,227.6ZM369.5,225.2 367.9,224.7 366.6,225.1 365.8,226.0 365.7,226.4 365.9,227.0 366.3,227.6 367.4,228.0 368.2,228.1 369.3,227.7 369.9,227.2 370.2,226.4 370.0,225.8ZM432.1,266.6 439.0,268.3 441.6,269.3 443.9,271.0 446.3,272.4 454.9,276.6 455.1,277.2 456.5,278.3 458.4,279.0 462.9,279.9 469.0,281.4 475.2,282.2 477.1,282.3 480.8,282.0 489.0,280.2 491.4,279.4 493.6,278.4 496.2,276.7 498.4,275.0 499.8,273.4 501.5,271.2 506.4,266.4 507.3,265.1 506.4,264.0 500.7,259.4 498.1,255.0 494.2,249.6 492.4,244.7 496.2,245.7 498.3,245.8 500.0,244.5 503.3,240.7 504.8,237.5 505.9,234.1 505.9,232.1 505.5,229.4 505.0,227.4 504.6,226.6 503.2,224.3 501.6,222.2 500.0,221.1 497.3,219.9 493.4,218.7 484.9,217.7 479.1,216.5 476.6,215.7 474.5,214.6 470.0,211.6 466.5,208.3 465.6,207.6 464.8,207.3 462.3,207.7 457.3,209.5 455.6,210.4 451.1,213.8 446.6,215.0 444.7,215.7 442.2,218.8 440.8,221.4 440.6,222.3 440.9,223.2 442.8,226.2 445.1,228.8 445.9,229.5 446.9,229.8 450.1,229.8 450.7,231.8 451.2,233.0 451.8,233.8 453.1,234.9 455.6,235.9 460.6,237.2 461.9,239.5 462.9,241.8 461.7,243.4 461.0,244.1 446.9,251.0 445.9,251.2 444.4,251.8 439.9,254.2 431.7,260.2 428.9,262.4 427.4,263.9 427.6,264.3 428.3,264.8ZM413.0,270.7 414.1,272.3 415.6,273.1 417.7,272.9 418.8,272.3 418.9,271.9 418.0,270.4 415.4,267.7 413.6,266.2 412.3,265.6 412.1,265.8 412.1,267.1 412.5,269.0ZM375.3,267.8 374.3,266.7 373.6,266.6 372.6,267.4 372.0,268.6 371.7,270.7 372.0,272.7 372.6,273.9 373.6,274.8 374.1,274.8 374.9,274.2 375.6,272.7 375.9,270.2ZM478.0,179.2 476.2,178.6 474.2,178.6 473.1,179.0 472.6,179.4 472.1,180.2 472.1,180.7 472.8,181.6 473.7,182.1 475.4,182.4 476.6,182.2 477.7,181.8 478.6,180.9 478.7,180.2ZM511.8,199.3 513.8,200.0 515.4,200.0 516.1,199.8 517.6,198.7 519.7,196.4 521.9,194.4 524.1,192.7 527.1,191.6 536.2,189.6 539.2,188.5 540.9,187.5 543.3,185.7 546.2,182.5 548.4,180.7 550.6,179.7 559.9,176.6 561.2,175.7 560.3,175.1 556.4,174.7 541.9,174.3 526.4,174.6 521.3,175.1 518.6,175.8 517.3,176.8 517.0,177.9 517.3,180.4 517.0,181.6 513.3,187.2 511.5,190.9 510.5,193.5 510.1,195.7 510.2,197.3 510.9,198.4ZM648.7,195.7 649.7,199.2 649.5,199.8 649.5,200.9 650.1,205.3 651.7,208.7 644.7,213.1 640.4,216.5 639.0,217.9 638.1,219.2 637.8,219.9 637.7,221.1 638.0,222.3 638.7,223.2 640.1,224.2 643.0,225.2 648.7,226.6 650.1,227.2 653.0,228.8 654.5,229.4 655.3,229.3 655.3,188.2 653.7,187.8 650.9,187.6 649.6,188.0 649.1,188.3 648.7,188.9 648.4,190.8 648.4,193.2ZM620.1,205.3 621.8,207.6 623.5,208.7 625.7,209.0 628.7,208.7 633.1,207.3 637.2,205.1 639.1,203.3 639.5,202.4 639.5,201.5 639.0,200.4 637.3,198.4 634.9,196.9 633.4,196.5 629.7,196.1 624.5,196.4 622.1,197.0 621.2,197.4 619.7,198.6 619.3,199.3 619.0,200.1 619.1,202.3ZM478.0,204.3 476.6,203.9 475.0,204.1 474.2,204.6 473.9,205.5 474.4,206.2 475.0,206.6 476.3,206.8 477.5,206.6 478.2,206.2 478.7,205.5 478.6,205.0ZM507.2,231.3 506.7,234.3 506.5,236.9 506.9,240.5 507.9,244.1 509.6,247.1 511.6,249.6 514.5,251.7 516.8,252.7 518.5,253.0 519.9,252.6 521.2,251.8 524.1,249.6 525.1,249.1 528.2,248.0 530.2,248.0 534.9,249.0 549.3,256.3 554.6,257.1 559.1,258.3 561.6,258.8 565.2,258.3 567.9,257.4 568.9,256.7 569.6,255.8 570.8,253.3 571.4,250.8 571.4,249.6 571.3,248.8 570.6,247.5 566.9,243.3 564.9,240.0 563.4,238.0 558.7,234.1 556.4,232.6 554.9,232.0 548.8,230.6 537.5,228.9 523.3,225.9 517.6,225.0 514.3,224.7 512.9,224.8 511.8,225.1 509.7,226.4 508.5,227.7 508.0,228.6ZM630.7,279.7 631.8,281.2 633.4,282.1 634.3,282.3 635.7,282.3 636.9,281.6 637.4,281.1 638.0,279.7 638.0,278.9 637.7,278.0 636.4,275.6 634.8,273.5 634.0,272.9 633.2,272.5 632.3,272.4 630.6,272.8 629.9,273.2 629.5,273.8 629.4,274.7 629.8,277.2ZM609.6,291.5 613.7,284.7 614.6,283.8 617.3,281.5 618.7,279.9 619.5,277.7 619.9,275.4 619.6,273.8 619.2,273.5 617.9,273.5 616.3,274.2 615.5,274.8 612.9,277.5 610.4,281.3 608.9,284.8 607.6,288.7 607.0,291.5 607.0,292.2 607.3,292.5 607.8,292.6 608.4,292.4Z" fill="#e7c3b9" fill-rule="evenodd"/>
<path d="M360.8,206.0 361.0,207.8 361.2,208.0 361.5,208.0 362.5,207.0 362.9,205.4 362.6,202.9 362.1,202.1 361.5,201.5 361.2,201.5 361.0,201.7 360.9,202.4ZM504.4,216.2 505.9,217.4 507.7,218.2 511.6,219.1 516.7,219.9 520.1,222.0 520.8,222.3 522.9,222.3 525.0,221.6 526.9,219.9 528.0,218.4 528.8,216.4 529.1,213.7 529.3,209.9 529.1,207.2 528.4,204.9 526.9,201.9 525.6,200.3 525.0,199.8 524.3,199.5 522.8,199.7 520.8,200.7 520.4,201.3 519.5,203.5 519.0,204.3 518.4,204.9 516.4,205.6 507.6,207.4 505.9,208.2 503.7,210.5 502.8,212.3 502.6,213.1 502.8,213.9 503.1,214.7ZM439.3,229.9 439.0,229.4 438.3,229.1 437.8,229.1 437.2,229.6 436.7,230.8 436.9,231.6 437.3,232.1 438.1,232.4 439.1,231.9 439.5,231.0ZM376.4,213.1 371.1,226.0 370.5,228.1 370.9,230.1 372.1,234.6 372.0,237.9 371.6,240.4 371.0,242.5 368.8,247.1 367.9,249.6 368.1,252.0 369.3,255.7 369.7,256.4 370.9,257.1 373.4,257.4 374.0,257.4 375.2,256.8 377.5,255.0 379.0,251.9 379.4,251.4 379.7,251.3 380.7,253.0 382.5,257.2 383.5,258.6 385.0,259.7 386.6,260.4 387.2,260.5 388.8,260.1 390.8,259.1 392.2,258.1 392.6,257.5 393.6,253.6 393.9,253.0 395.1,252.4 398.1,251.3 403.1,247.9 407.3,246.8 408.7,246.0 413.0,242.1 414.0,239.3 414.7,238.3 416.6,237.9 421.3,237.5 424.2,236.3 426.0,235.3 426.3,234.9 426.3,234.4 425.6,233.1 423.9,231.5 422.2,230.8 418.8,229.9 417.3,229.8 410.4,231.2 408.0,231.5 403.8,229.8 398.8,231.5 397.7,230.9 395.5,229.1 393.5,228.8 391.9,228.9 390.8,229.3 387.2,231.5 383.6,233.9 382.3,234.1 380.2,233.6 378.4,232.9 378.0,232.4 378.6,231.0 381.3,227.4 383.2,225.6 385.4,224.0 391.3,221.6 393.1,220.0 393.9,219.0 393.9,218.7 392.3,218.0 389.8,217.7 384.2,218.3 382.1,218.2 381.9,217.7 381.8,216.8 382.1,213.1 381.1,211.5 379.7,210.7 378.1,211.4ZM378.9,290.9 378.6,295.2 378.6,296.6 379.0,297.8 379.7,298.5 381.6,298.8 384.9,298.9 396.2,298.7 398.1,298.5 398.9,298.0 399.3,297.1 399.7,293.2 400.6,292.0 402.6,290.1 403.1,289.8 404.5,289.4 409.9,288.6 414.7,288.1 421.3,288.8 426.3,288.1 431.4,288.8 436.4,288.1 441.4,289.8 443.8,291.3 444.7,291.5 446.7,289.1 447.9,287.0 448.0,286.4 447.7,286.1 446.0,285.3 443.2,284.7 436.4,285.7 433.8,284.5 427.8,280.5 426.3,279.9 425.3,280.9 423.1,284.0 420.7,285.0 418.0,285.7 414.7,285.4 411.4,284.7 406.4,281.3 404.8,281.6 397.2,284.7 394.2,284.9 391.3,284.7 386.9,281.6 386.3,281.3 385.8,281.4 384.6,281.9 383.0,283.0 380.6,286.0 379.5,287.9ZM360.4,291.8 360.6,296.9 361.0,298.5 361.7,299.4 362.8,299.7 364.0,299.7 365.2,299.5 367.1,298.5 367.6,297.9 367.9,296.9 368.2,294.7 367.9,292.5 367.6,291.4 366.5,289.1 365.1,287.1 363.2,285.1 361.9,284.3 361.4,284.5 361.0,285.2 360.7,286.7ZM530.7,214.0 531.1,215.5 531.9,217.1 532.9,218.5 534.1,219.7 535.7,220.9 538.3,222.3 540.7,223.4 542.4,223.8 544.4,224.0 549.0,223.3 551.2,223.3 556.7,224.0 562.5,225.0 563.5,224.9 564.9,224.1 565.5,223.5 566.3,222.2 566.4,221.6 566.0,220.4 564.9,219.3 563.5,218.2 556.7,214.8 549.2,209.4 545.1,207.3 540.5,204.5 538.3,203.6 537.4,203.5 535.6,203.7 534.1,204.4 532.9,205.5 531.9,207.2 530.9,209.9 530.6,211.6ZM596.7,223.2 595.9,222.5 594.5,222.0 593.4,222.3 592.5,222.9 591.9,223.8 591.7,224.9 591.9,226.0 592.5,227.0 593.4,227.6 594.5,227.8 595.5,227.6 596.4,227.0 597.0,226.0 597.3,224.9 597.1,224.2ZM584.7,257.2 584.7,259.3 585.3,262.2 586.9,264.1 588.8,265.6 590.9,264.7 592.9,263.2 594.4,260.7 595.3,258.1 594.3,255.8 592.9,254.0 592.1,254.2 588.6,256.8 587.9,257.1 585.3,255.6ZM504.1,291.8 504.1,293.3 504.4,295.9 505.0,298.1 505.4,298.5 505.9,298.2 509.4,293.8 510.1,293.2 511.7,293.2 514.5,293.9 515.1,293.9 516.0,293.4 516.9,292.6 517.5,291.5 518.4,284.7 519.9,282.5 522.3,280.0 526.7,276.5 531.7,271.4 535.2,268.8 536.8,268.0 538.3,268.2 540.3,268.9 541.8,269.7 543.2,270.8 545.9,273.8 548.4,278.9 551.2,281.6 552.5,282.3 553.1,282.2 554.7,281.5 556.2,280.4 557.2,279.1 558.7,275.3 559.3,273.1 558.6,269.7 556.6,263.2 555.7,261.2 555.1,260.5 553.3,259.6 548.4,258.1 542.7,255.8 539.6,255.1 537.0,254.8 535.0,254.7 533.4,255.3 530.0,257.1 525.0,260.5 520.1,264.6 513.4,269.0 511.7,270.7 508.9,273.9 506.5,278.0 505.0,281.3 504.9,283.5 505.0,288.1ZM545.5,298.9 546.8,298.5 547.2,297.8 546.9,296.7 545.2,294.2 543.3,292.2 542.0,291.2 540.5,290.6 539.2,290.5 538.6,290.7 537.4,291.4 536.3,292.5 534.7,295.0 533.6,297.0 533.6,297.9 534.2,298.5 535.6,298.9 540.6,299.2Z" fill="#40b377" fill-rule="evenodd" stroke="#d8684a" stroke-width="0.9" stroke-dasharray="1.3,1.3"/>
<path d="M387.9,182.7 387.5,181.7 387.1,181.4 386.6,182.4 386.3,184.8 386.6,187.2 386.8,187.9 387.2,188.2 387.6,187.7 387.9,186.5 388.0,184.8ZM377.7,187.6 377.1,187.3 376.5,187.6 376.3,188.2 376.5,188.8 377.1,189.0 377.7,188.8 378.0,188.2ZM374.6,199.8 373.8,199.5 373.1,199.8 372.8,200.5 373.0,201.1 373.8,201.5 374.6,201.2 374.9,200.5ZM380.8,199.7 380.3,199.3 379.9,199.3 379.4,199.6 379.2,200.0 379.1,201.3 379.3,201.8 379.8,202.1 380.5,202.1 381.0,201.5 381.1,200.6ZM368.5,225.9 367.9,225.7 367.4,225.8 367.1,226.3 367.2,226.8 367.8,227.1 368.5,227.0 368.8,226.4ZM452.8,231.1 453.4,232.3 454.1,232.9 455.1,233.4 459.2,234.6 461.4,235.1 462.1,235.5 463.9,238.5 465.0,241.1 465.1,242.1 464.5,243.5 463.0,245.3 462.1,246.0 449.4,252.1 444.1,255.0 438.8,258.7 434.6,261.9 432.7,263.5 432.4,263.9 432.6,264.2 435.8,266.1 441.6,268.3 446.1,270.7 447.1,270.9 447.7,270.6 458.5,275.8 462.6,277.4 465.7,278.3 477.3,279.3 481.8,279.2 485.2,278.8 488.4,278.0 491.6,276.9 494.4,275.3 497.0,273.2 498.7,271.1 499.6,269.3 501.3,267.5 502.1,266.1 501.0,264.5 499.4,263.0 498.8,260.8 497.3,258.0 495.7,255.4 492.2,250.6 490.5,245.9 490.0,243.1 490.4,240.2 493.6,242.9 495.3,244.1 496.8,243.8 498.5,243.0 499.7,242.1 500.5,240.7 501.7,236.8 501.8,234.8 501.5,230.9 501.2,229.3 500.3,227.2 498.8,224.7 496.0,222.9 492.7,221.3 479.6,219.1 475.4,218.2 473.4,217.1 469.3,214.3 465.4,211.1 464.8,210.9 464.1,211.0 461.9,211.7 458.9,213.1 452.9,217.0 446.8,218.7 444.4,220.9 443.0,222.8 442.8,223.5 443.1,224.2 444.8,226.4 446.9,228.5 447.7,229.1 448.4,229.3 452.3,229.5ZM470.1,241.5 473.3,242.2 475.1,243.1 475.6,243.6 476.2,244.7 476.3,245.9 476.1,246.2 475.6,246.5 473.7,246.9 471.8,246.8 471.1,246.5 470.0,245.0 469.4,243.0 469.3,242.1 469.5,241.6ZM514.5,196.1 515.4,196.1 516.3,195.5 518.4,193.7 520.0,192.0 521.3,191.1 522.9,190.4 531.3,187.9 533.5,186.9 535.3,185.8 537.6,183.5 541.1,178.6 541.8,177.2 541.9,175.9 541.3,175.1 539.5,174.6 533.5,174.3 527.2,174.7 525.0,175.1 523.7,175.6 522.9,176.4 522.5,177.3 522.1,179.1 521.7,179.9 518.2,184.9 513.3,192.9 512.8,194.2 512.9,194.7 513.5,195.6ZM652.9,191.7 652.1,190.9 651.5,190.8 650.6,191.4 650.2,192.3 649.9,193.7 650.2,195.2 650.6,196.0 651.5,196.6 651.9,196.6 652.6,196.2 653.2,195.2 653.4,193.4ZM623.6,202.1 624.9,204.4 625.7,204.9 626.2,204.9 627.9,204.1 629.9,202.8 631.2,201.5 631.6,200.2 631.3,198.8 630.9,198.4 630.4,198.1 629.5,198.0 625.7,198.9 623.8,199.8 623.4,200.3 623.3,200.8ZM643.7,222.0 645.2,222.5 648.7,223.2 652.9,225.1 654.4,225.6 655.3,225.6 655.3,209.7 654.2,210.1 640.8,218.6 640.4,219.1 640.5,219.7 640.8,220.2 642.2,221.2ZM508.9,236.8 509.1,238.8 509.8,242.3 510.9,244.7 513.4,247.9 515.8,249.6 517.7,250.5 518.4,250.6 519.1,250.4 523.4,247.2 525.9,246.2 528.4,245.5 530.4,245.6 534.2,246.3 535.8,246.8 550.1,254.0 555.1,254.7 559.7,256.0 561.7,256.4 564.7,256.0 566.7,255.3 567.3,255.0 568.2,253.5 568.9,251.4 569.0,249.6 568.7,248.9 565.0,244.8 562.9,241.3 561.7,239.7 558.6,237.0 556.1,235.2 554.2,234.2 551.9,233.6 547.1,232.7 538.3,231.5 521.7,228.1 515.7,227.2 513.4,227.1 512.7,227.3 511.4,228.1 510.1,229.8 509.3,233.1Z" fill="#c29086" fill-rule="evenodd" stroke="#e8584c" stroke-width="0.9"/>
<path d="M371.8,245.6 372.3,248.9 372.7,249.8 373.8,251.0 375.1,251.1 375.7,250.8 376.3,250.2 377.7,248.0 378.7,245.3 378.9,244.1 378.8,242.9 378.1,240.3 377.0,238.2 376.4,237.5 375.8,237.1 374.1,236.8 373.3,237.0 372.6,237.5 372.1,238.3 371.7,241.4ZM393.9,244.4 393.0,243.2 392.2,242.7 391.3,242.4 389.9,242.5 388.6,243.2 387.7,244.4 387.2,246.5 387.5,248.0 388.2,249.4 389.4,250.2 390.8,250.6 391.7,250.4 393.0,249.7 393.9,248.5 394.4,247.0 394.4,246.0ZM406.0,283.9 405.6,283.4 404.9,283.0 404.3,283.1 403.7,283.4 403.3,283.9 403.1,284.7 403.6,285.9 404.7,286.4 405.6,286.0 406.2,284.9ZM385.0,285.7 384.6,285.1 383.9,284.7 383.2,285.1 382.7,285.9 382.5,287.1 382.7,288.4 383.0,289.0 383.7,289.5 384.6,289.2 385.1,288.4 385.3,287.1ZM397.7,290.8 397.2,290.3 396.4,290.0 395.7,290.2 395.1,290.6 394.6,292.0 395.1,293.3 395.7,293.7 396.4,293.9 397.0,293.7 397.6,293.3 398.1,292.0ZM360.6,295.6 361.0,298.5 361.4,299.1 362.0,299.4 362.7,299.4 363.4,299.2 364.5,298.5 364.8,298.0 365.2,296.3 365.4,294.5 365.2,293.0 364.7,291.6 364.0,290.5 362.7,289.1 361.7,288.3 361.3,288.4 361.0,288.8 360.8,289.9ZM524.2,206.0 523.8,205.3 523.1,204.9 522.4,205.3 521.9,206.3 521.7,207.8 521.9,209.2 522.2,210.0 522.9,210.6 523.2,210.6 523.8,210.2 524.3,209.2 524.5,207.8ZM512.8,211.9 512.2,211.1 510.9,210.7 510.0,210.9 509.2,211.6 508.6,213.0 508.5,214.2 509.0,215.7 509.7,216.5 510.6,216.9 511.2,216.9 512.2,216.5 512.6,216.0 513.2,215.0 513.4,213.8ZM398.6,241.2 400.0,242.4 400.8,242.7 402.9,243.2 406.1,243.3 409.0,242.8 410.7,242.1 411.7,241.0 412.1,240.2 412.4,238.4 412.1,236.8 411.7,236.2 410.4,235.1 407.8,234.1 404.8,234.0 401.7,234.6 399.0,236.2 397.7,237.6 397.4,238.3 397.4,238.9 397.6,239.7ZM512.2,276.6 512.5,277.2 513.8,277.6 516.8,277.4 518.3,276.9 523.4,273.8 532.6,266.4 534.2,265.6 534.9,265.4 538.2,265.3 540.1,265.6 543.1,267.0 545.2,268.4 546.5,269.7 549.7,275.4 551.5,277.6 552.5,278.2 553.5,277.1 554.9,273.9 555.2,272.3 555.0,270.2 554.5,268.1 553.8,266.5 551.6,263.6 550.1,262.2 546.8,260.9 540.1,258.8 537.7,258.2 535.8,258.2 530.9,259.5 527.9,260.7 520.0,265.2 513.8,269.3 512.1,270.8 511.6,271.4 511.5,273.3ZM543.4,298.8 544.2,298.5 544.4,298.0 544.2,297.1 542.4,294.5 541.8,293.9 540.6,293.4 539.4,293.4 538.3,293.9 537.3,295.3 536.5,297.1 536.5,298.0 536.8,298.5 537.6,298.8 540.5,299.1Z" fill="#209a5b" fill-rule="evenodd" stroke="#52ac74" stroke-width="0.4"/>
<path d="M523.7,184.3 524.3,185.7 525.4,186.7 526.3,186.7 527.2,185.9 528.8,183.1 529.3,181.4 528.9,180.0 527.8,178.8 526.7,178.2 526.1,178.3 524.8,178.9 523.7,180.0 523.3,181.4ZM497.2,235.4 497.6,238.0 498.4,239.6 498.9,240.1 500.1,240.7 501.0,240.5 501.8,239.4 502.2,238.7 502.6,236.8 502.6,235.5 502.1,230.6 501.4,228.3 500.9,227.9 500.2,227.8 498.7,228.4 498.0,229.0 497.6,229.8 497.2,232.2ZM511.6,234.2 512.1,239.3 513.0,243.0 514.2,245.1 515.9,247.1 517.8,248.5 518.7,248.9 519.6,248.9 521.3,248.2 524.8,245.9 527.3,243.9 529.1,242.9 530.2,242.6 535.1,242.0 536.1,241.6 536.9,241.0 538.4,239.4 539.4,237.6 539.5,236.8 539.4,236.1 538.6,234.8 537.9,234.2 536.1,233.2 533.6,232.5 527.4,231.5 520.0,229.3 517.5,228.9 514.1,229.0 513.2,229.3 512.5,229.8 512.0,230.6 511.8,231.6ZM455.0,223.7 453.9,225.9 453.7,226.8 453.8,228.8 454.6,231.2 455.8,232.0 459.6,233.1 461.9,233.6 463.3,234.4 464.6,236.4 466.0,239.3 466.7,241.6 466.6,242.5 466.3,243.4 465.2,245.2 463.6,247.0 449.0,254.2 446.1,255.9 443.1,258.0 441.3,259.8 440.4,261.3 440.1,262.0 440.2,262.7 440.7,263.4 443.8,266.2 445.9,267.8 448.1,269.0 459.1,274.3 463.1,275.9 465.9,276.7 477.4,277.7 484.0,277.4 488.0,276.5 490.8,275.5 492.6,274.6 495.2,272.7 496.9,270.9 498.1,268.7 498.3,267.2 498.2,265.2 497.6,262.2 496.9,260.6 495.0,257.1 490.8,251.3 489.4,247.7 488.6,245.1 488.4,243.1 489.6,234.8 490.0,230.1 489.7,228.2 488.7,226.7 486.7,224.9 484.8,224.2 480.1,223.2 475.3,222.7 473.3,222.3 472.6,221.9 469.8,219.6 468.4,218.7 465.1,217.0 463.3,216.5 461.6,216.9 459.1,218.5 457.7,220.0ZM470.7,240.7 473.5,241.4 475.7,242.4 476.4,243.0 477.2,244.7 477.3,246.4 477.0,247.0 476.3,247.3 473.9,247.8 471.4,247.6 470.5,247.2 469.9,246.4 469.3,245.3 468.6,242.7 468.5,241.6 468.8,240.9 469.5,240.7Z" fill="#9c695e" fill-rule="evenodd" stroke="#dcc8c0" stroke-width="0.45"/>
<path d="M545.0,264.1 546.8,267.8 548.2,270.0 551.0,273.7 552.1,274.7 552.5,274.8 553.2,273.7 553.5,270.7 553.1,268.8 552.1,266.9 550.1,264.6 548.3,263.7 545.6,263.1 545.1,263.2 544.9,263.5ZM514.8,272.8 515.1,274.2 516.1,275.3 517.3,275.6 519.0,275.1 521.7,273.8 524.1,272.1 529.0,267.5 532.2,264.1 532.6,263.4 532.5,263.2 531.3,263.4 526.4,265.6 517.9,270.1 515.7,271.5 515.1,272.1Z" fill="#14743f" fill-rule="evenodd" stroke="#3c9460" stroke-width="0.4"/>
<path d="M463.7,224.5 464.5,225.7 465.3,226.6 472.3,232.0 475.1,234.4 477.0,237.5 478.7,240.9 480.4,248.2 481.3,248.4 482.4,248.0 482.9,247.7 483.2,247.2 483.4,246.3 484.1,238.0 485.1,236.7 487.7,234.4 488.3,232.8 488.8,230.5 488.7,228.8 488.3,228.2 485.1,225.4 483.2,224.2 480.8,223.9 475.1,223.5 471.7,222.2 469.4,221.1 468.6,220.6 468.0,219.9 465.8,216.4 464.8,215.3 464.1,217.0 463.2,221.6 463.2,223.1ZM513.3,235.1 513.9,238.1 514.4,239.2 515.0,240.1 516.8,241.4 518.7,242.2 520.4,242.4 521.2,242.2 522.8,241.5 523.9,240.4 525.0,238.1 525.1,236.4 524.8,235.6 524.2,234.9 520.9,232.9 516.7,231.3 514.8,230.9 514.0,231.0 513.5,231.5 513.3,232.3ZM536.4,237.8 535.7,236.4 534.6,235.6 533.8,235.7 532.7,236.7 532.2,238.3 532.1,239.7 532.6,241.4 533.5,242.5 534.1,242.8 534.6,242.8 535.5,242.3 535.9,241.8 536.6,239.7ZM443.6,264.4 448.5,267.5 458.8,272.7 462.4,273.9 467.1,274.5 478.3,274.8 482.8,274.3 486.0,273.5 489.1,272.4 491.6,270.8 493.5,268.8 494.1,267.3 494.2,266.5 494.1,265.6 493.6,263.9 492.6,262.2 490.9,260.7 488.8,259.3 484.5,257.1 473.3,253.0 468.9,251.1 466.7,250.6 464.4,250.9 456.6,253.3 451.4,255.3 449.1,256.5 444.5,259.6 442.7,261.4 442.3,262.2 442.4,263.0Z" fill="#6d4338" fill-rule="evenodd" stroke="#d0bab2" stroke-width="0.45"/>
</g>
<line x1="413.0" y1="293.1" x2="413.0" y2="176.3" stroke="#2a2a2a" stroke-width="1.05" stroke-dasharray="1.1,4.13"/>
<line x1="465.0" y1="293.1" x2="465.0" y2="176.3" stroke="#2a2a2a" stroke-width="1.05" stroke-dasharray="1.1,4.13"/>
<line x1="517.0" y1="293.1" x2="517.0" y2="176.3" stroke="#2a2a2a" stroke-width="1.05" stroke-dasharray="1.1,4.13"/>
<line x1="569.0" y1="293.1" x2="569.0" y2="176.3" stroke="#2a2a2a" stroke-width="1.05" stroke-dasharray="1.1,4.13"/>
<line x1="621.0" y1="293.1" x2="621.0" y2="176.3" stroke="#2a2a2a" stroke-width="1.05" stroke-dasharray="1.1,4.13"/>
<line x1="364.0" y1="188.4" x2="673.0" y2="188.4" stroke="#b8b4b8" stroke-width="0.85" stroke-dasharray="1.3,3.93"/>
<line x1="364.0" y1="212.6" x2="673.0" y2="212.6" stroke="#b8b4b8" stroke-width="0.85" stroke-dasharray="1.3,3.93"/>
<line x1="361.0" y1="236.8" x2="673.0" y2="236.8" stroke="#5cc85c" stroke-width="1.35" stroke-dasharray="2.2,1.4"/>
<line x1="364.0" y1="261.0" x2="673.0" y2="261.0" stroke="#b8b4b8" stroke-width="0.85" stroke-dasharray="1.3,3.93"/>
<line x1="364.0" y1="285.2" x2="673.0" y2="285.2" stroke="#b8b4b8" stroke-width="0.85" stroke-dasharray="1.3,3.93"/>
<path d="M369.1,175.1 369.7,177.3 370.5,178.7 370.7,181.1 373.0,183.6 373.5,186.0 373.7,189.6 375.7,193.2 376.9,198.1 377.8,200.3 380.4,202.2 383.0,205.3 384.1,206.6 383.7,208.7 385.3,211.1 387.0,211.4 390.5,209.9 393.9,209.5 396.5,208.0 397.7,208.2 397.7,211.4 397.1,213.8 395.7,217.4 393.9,221.1 392.2,225.9 389.3,230.5 387.5,232.0 385.3,234.4 382.7,238.0 380.9,241.2 379.9,242.4 378.5,244.5 377.6,246.7 376.8,249.1 376.3,251.8 377.3,253.5 377.3,256.2 377.6,258.6 378.9,261.7 379.2,263.9 379.2,268.3 379.7,271.9 379.4,273.8 378.0,276.2 374.9,278.7 373.1,280.1 371.9,282.3 369.5,284.7 369.1,286.7 370.2,288.8 370.5,290.5 370.5,293.7 370.4,295.4 369.5,298.5M373.1,175.1 373.7,176.3 374.9,178.7 375.9,180.4 376.8,183.6 376.9,185.3 378.0,187.2 379.5,189.4 380.8,192.0 382.1,194.5 383.0,196.9 383.2,200.0 383.9,203.4 384.4,206.1 387.0,205.8 389.6,204.4 392.2,202.9 394.8,201.0 397.4,199.8 399.5,198.8 399.7,197.4 401.7,196.4 403.5,195.7 404.9,194.2 406.6,193.5 407.8,191.1 409.2,190.8 409.0,187.9 410.6,187.4 411.3,185.0 412.7,182.4 410.7,179.7 408.1,178.7 407.1,177.3 406.6,175.1M396.7,175.1 397.1,176.8 397.9,177.8 398.4,178.5 400.2,178.2 402.6,178.5 403.8,176.8 404.9,175.6 405.7,174.8M397.2,174.8 398.3,176.3 398.4,174.8M415.6,175.1 418.2,175.8 420.8,175.7 423.9,175.1 424.6,176.5 425.8,178.7 427.2,179.7 428.1,180.9 430.0,181.6 430.9,181.1 429.1,182.8 428.6,183.1 429.6,184.5 431.0,186.2 432.1,186.7 433.8,185.7 434.7,183.1 435.2,184.8 435.0,186.0 435.2,190.8 435.5,194.5 436.9,199.5 438.7,205.6 440.4,209.7 441.1,212.6 442.3,216.2 443.3,217.2 444.5,215.3 445.9,214.3 446.5,211.9 447.5,211.9 447.3,209.0 448.2,205.1 447.8,200.5 449.2,198.6 449.7,197.6 451.7,196.6 453.4,194.0 456.0,190.6 457.7,188.9 459.5,187.7 459.8,184.8 461.5,184.3 463.3,184.0 465.0,183.6 466.0,182.4 467.3,182.1 468.1,182.8 468.5,185.0 469.2,186.9 470.0,188.2 471.4,190.8 472.5,193.2 472.8,196.9 472.3,198.1 474.2,198.8 475.9,197.4 476.8,195.7 477.5,196.1 478.2,197.4 478.5,200.5 479.0,202.9 479.7,206.6 480.1,210.2 479.7,212.6 479.4,215.0 479.4,217.7 480.3,217.0 481.1,219.1 482.3,221.1 482.9,223.5 483.5,226.6 484.6,229.5 485.5,230.8 486.7,232.0 488.2,233.4 489.1,233.7 489.8,233.4 489.4,231.2 488.4,230.0 488.2,228.1 488.2,225.9 487.2,223.2 486.1,221.8 485.1,220.1 483.9,219.9 483.0,218.7 482.7,216.2 482.2,214.3 481.1,214.3 480.9,211.4 481.6,209.0 482.2,206.6 482.3,204.6 483.4,204.1 484.1,204.9 483.9,206.3 485.5,206.3 486.3,207.3 487.4,208.5 487.7,210.2 488.6,211.1 489.8,211.4 490.8,212.4 490.7,215.7 491.7,215.0 493.4,213.6 494.1,211.6 495.0,211.6 496.2,210.9 497.9,209.2 498.5,206.6 498.6,204.1 498.1,201.7 497.6,199.8 496.5,197.8 495.3,196.4 493.9,194.2 493.4,193.0 492.2,191.1 492.6,188.9 493.8,187.7 494.5,186.0 496.2,184.8 497.1,184.3 498.8,184.8 499.3,186.2 500.0,187.7 500.5,187.4 500.4,185.5 501.4,184.8 503.1,184.0 505.2,183.3 506.9,182.8 508.3,181.9 510.9,181.1 512.7,179.2 513.9,177.5 515.1,175.1M497.4,190.3 498.8,192.8 500.5,191.3 501.4,189.1 500.7,188.2 499.0,188.4 497.4,190.3M518.7,175.1 517.5,178.7 517.2,180.7 518.4,183.6 519.4,181.1 520.1,177.5 520.3,175.1M447.5,213.3 448.0,213.1 449.7,216.2 450.8,218.7 450.6,221.1 448.7,222.5 447.7,222.0 447.3,219.9 447.1,217.0 447.5,213.3M474.2,223.5 475.4,224.0 478.0,224.2 479.2,225.9 480.6,228.1 482.3,230.0 483.7,231.5 484.9,232.7 486.3,234.4 488.2,235.6 488.9,237.5 488.9,239.2 490.1,241.2 491.0,242.4 492.7,244.1 492.6,247.0 492.6,250.8 491.5,250.8 490.3,250.4 489.3,248.7 487.5,247.0 486.3,246.2 484.9,243.6 483.9,241.6 483.0,239.2 482.0,237.0 480.8,235.8 480.1,232.7 478.3,231.0 477.5,229.1 475.9,227.6 474.5,225.2 474.2,223.5M491.3,253.3 492.7,251.1 493.9,251.3 496.7,252.0 497.4,253.3 500.4,253.5 501.4,252.3 504.2,253.5 504.5,255.0 506.6,255.4 507.5,256.2 507.5,257.9 504.9,256.9 501.4,256.6 497.9,255.4 496.2,255.7 493.6,254.7 491.3,253.3M497.9,232.9 499.0,232.0 500.2,232.7 501.7,233.4 502.1,231.0 504.9,229.1 506.4,225.9 508.3,224.7 509.4,223.2 510.4,221.3 511.3,219.9 512.3,220.8 513.0,222.5 515.6,224.2 513.9,225.7 512.8,226.6 513.4,229.1 513.2,232.0 515.3,234.4 513.4,234.9 512.7,236.8 512.7,238.7 511.1,240.4 510.6,242.9 510.1,245.5 507.8,246.7 507.5,245.3 504.9,244.5 502.8,245.3 500.0,243.8 499.7,240.4 498.3,238.0 497.9,236.1 497.9,232.9M518.4,233.7 520.5,234.4 522.2,234.6 524.5,234.4 526.0,232.9 525.3,234.6 523.9,235.8 522.2,235.6 519.6,235.6 517.3,236.1 517.0,238.0 518.2,239.9 519.6,239.0 521.9,239.0 522.9,239.0 521.0,240.7 519.9,241.4 521.0,244.1 521.2,245.3 522.2,246.5 521.5,247.4 522.2,249.6 520.5,248.4 519.6,248.2 518.7,246.2 518.6,243.3 517.5,243.8 517.7,246.5 517.5,250.1 516.1,250.1 516.1,246.5 516.1,245.3 514.9,243.6 515.8,239.9 516.5,237.3 516.7,234.9 518.4,233.7M536.1,238.7 538.3,237.8 540.4,238.5 541.4,238.7 541.8,241.6 542.5,244.1 543.9,244.8 545.6,242.1 547.9,240.4 549.9,241.6 553.4,243.1 556.0,244.5 558.6,246.0 560.3,247.4 561.7,249.9 563.8,251.3 565.2,253.0 564.1,253.7 565.2,255.9 566.4,258.6 568.1,260.3 570.4,261.5 569.0,262.5 566.9,261.5 564.7,261.0 562.9,258.3 561.2,255.9 559.5,255.2 557.7,256.6 557.4,258.6 556.0,259.1 553.4,258.8 551.3,256.4 549.6,256.9 548.2,256.9 547.9,254.5 549.6,253.3 548.2,250.1 545.6,248.2 543.3,247.4 540.9,246.0 539.2,246.5 539.2,244.8 537.8,243.6 540.4,242.6 538.7,242.1 536.9,240.4 536.1,238.7M505.7,298.5 505.9,294.9 506.3,291.7 506.9,289.6 508.3,288.8 511.3,286.7 513.5,285.9 515.3,285.2 517.0,285.0 519.6,282.8 521.0,280.4 520.8,277.9 522.2,276.5 523.2,278.7 523.6,276.2 524.8,275.5 525.7,273.6 527.4,271.2 529.1,270.4 530.9,272.6 531.6,273.1 533.5,272.9 533.6,270.7 534.7,268.3 535.7,266.8 537.8,266.3 538.8,264.4 540.4,265.4 543.0,266.3 545.6,265.8 546.3,266.6 544.7,269.5 543.9,272.6 545.6,275.0 548.2,277.2 550.5,279.4 552.5,279.4 553.7,275.5 554.4,270.7 554.6,267.1 555.5,263.4 556.2,262.7 557.2,265.8 558.3,271.4 560.7,273.1 561.4,276.7 562.1,280.4 562.9,282.8 564.7,283.7 566.4,285.7 567.6,287.6 568.7,290.8 570.4,292.0 570.6,293.9 572.1,294.9 573.0,296.8 573.9,298.5M518.0,192.0 520.5,192.0 521.0,195.7 519.8,198.6 519.9,201.7 521.0,202.9 522.2,203.4 524.1,205.3 523.8,206.3 522.2,204.1 520.5,203.9 519.3,203.9 518.0,203.2 518.6,201.5 517.3,201.0 516.7,197.6 517.7,196.6 517.7,194.5 518.0,192.0M526.5,213.1 527.9,216.2 528.3,219.4 527.6,221.3 526.5,220.6 526.4,223.2 524.3,221.8 523.9,219.1 522.5,218.7 520.8,219.9 520.6,217.7 522.2,216.2 523.6,217.0 525.1,216.0 526.5,215.0 526.5,213.1M524.5,206.6 526.2,206.8 526.9,209.7 525.7,211.9 525.1,209.7 524.5,206.6M520.5,208.2 522.4,209.0 522.9,211.4 522.2,214.8 521.3,213.6 520.5,211.4 520.5,208.2M512.1,216.5 514.4,213.8 516.1,210.7 515.8,209.5 514.1,212.6 512.1,216.5M518.7,204.4 519.6,206.1 518.9,207.0 517.9,204.6 518.7,204.4M507.5,256.6 509.4,256.9 508.7,258.1 507.5,256.6M510.1,257.1 511.3,257.1 510.9,258.3 510.1,258.1 510.1,257.1M511.5,257.4 513.5,256.6 515.4,257.1 514.4,258.1 511.8,258.6 511.5,257.4M516.8,257.4 518.7,257.1 522.0,256.6 521.9,257.6 519.6,258.3 517.0,258.1 516.8,257.4M515.3,259.8 517.0,259.5 518.4,261.0 517.0,261.7 515.3,260.3 515.3,259.8M523.1,261.7 524.8,259.3 526.5,257.9 529.1,257.1 528.3,258.6 525.7,260.5 523.9,261.7 523.1,261.7M530.2,232.0 530.9,233.2 532.1,233.2 531.2,234.9 532.3,236.1 530.9,236.1 530.9,238.7 530.3,236.8 530.0,234.4 530.2,232.0M530.9,244.1 533.5,243.6 535.7,245.0 533.5,245.0 530.9,245.0 530.9,244.1M527.4,244.5 529.1,244.3 529.5,245.5 527.9,246.0 527.4,244.5M566.1,250.4 568.1,250.1 569.9,250.1 571.6,248.7 573.0,247.0 572.8,248.9 570.7,251.3 568.1,251.8 566.1,250.4M570.4,243.1 572.5,244.5 574.2,247.7 573.7,248.2 571.9,245.0 570.4,243.1M577.0,250.1 578.5,251.3 579.2,253.3 578.0,252.8 577.0,250.1M580.3,253.0 582.0,254.5 581.5,254.7 580.3,253.0M583.7,255.2 586.0,257.1 585.5,257.4 583.7,255.2M585.6,259.3 587.7,260.5 586.9,260.8 585.6,259.3M587.5,257.1 588.6,259.8 587.9,259.1 587.5,257.1M588.6,261.7 590.3,262.9 589.5,262.7 588.6,261.7M597.8,273.1 598.8,274.6 598.1,274.6 597.8,273.1M599.0,275.5 599.9,276.7 599.2,276.7 599.0,275.5M600.5,279.4 601.1,279.9 600.5,279.9 600.5,279.4M602.3,282.1 602.5,282.8 602.1,282.5 602.3,282.1M593.3,285.4 595.9,287.6 598.5,290.8 597.6,290.8 595.0,288.6 593.3,285.4M616.3,279.1 618.4,278.9 618.6,280.6 616.5,280.6 616.3,279.1M618.7,277.2 620.8,276.2 620.1,277.5 618.7,277.2M633.7,269.5 634.5,269.7 634.0,270.2 633.7,269.5M634.9,270.4 635.7,270.7 635.2,270.9 634.9,270.4M662.6,189.1 664.3,188.6 664.5,189.9 663.3,191.1 662.6,189.1M661.4,186.2 662.4,186.5 661.9,186.9 661.4,186.2M658.8,184.8 659.7,185.0 659.1,185.3 658.8,184.8M656.2,183.3 656.7,183.3 656.5,183.8 656.2,183.3M363.9,237.3 365.3,236.3 367.9,236.1 368.3,238.0 367.8,239.9 366.7,242.1 365.9,243.6 364.5,243.1 364.1,240.4 363.9,237.3M359.8,245.0 360.5,247.7 360.3,250.8 361.9,254.2 362.7,257.6 362.0,257.4 361.0,254.5 359.6,251.3 359.6,247.7 359.8,245.0M367.9,260.0 368.8,262.2 368.5,265.4 369.3,268.3 370.0,271.4 369.3,271.2 368.8,269.0 368.1,265.8 368.1,262.9 367.8,260.5 367.9,260.0M394.5,265.8 396.0,269.5 396.5,273.8 395.3,274.3 395.0,277.5 394.6,280.4 393.6,285.2 392.5,290.0 391.5,293.9 390.6,297.1 389.1,297.8 387.3,298.8 385.3,297.5 384.7,294.9 384.1,290.8 384.9,287.6 386.0,285.2 385.8,281.6 385.3,278.7 386.1,276.0 387.9,275.3 389.6,274.3 391.3,272.6 392.2,269.7 393.6,267.5 394.5,265.8M404.9,287.6 405.7,287.9 405.2,288.3 404.9,287.6M408.5,285.4 409.2,285.7 408.8,286.4 408.5,285.4M401.6,206.3 403.3,206.3 402.6,207.0 401.6,206.3M477.5,233.4 478.7,235.1 478.2,234.6 477.5,233.4M480.1,239.2 481.1,241.2 480.4,240.7 480.1,239.2M491.5,240.9 493.8,242.9 492.7,244.1 491.5,240.9" fill="none" stroke="#a428c6" stroke-width="1.3" stroke-linejoin="round" stroke-linecap="round"/>
<circle cx="465.0" cy="236.8" r="6.6" fill="#000"/>
</g>
<rect x="361.0" y="176.3" width="312.0" height="121.0" fill="none" stroke="#000" stroke-width="1.5"/>
<text x="361.0" y="305.9" font-size="7.3" text-anchor="middle" fill="#1a1a1a" stroke="#1a1a1a" stroke-width="0.3" textLength="12.5" lengthAdjust="spacingAndGlyphs">30E</text>
<text x="413.0" y="305.9" font-size="7.3" text-anchor="middle" fill="#1a1a1a" stroke="#1a1a1a" stroke-width="0.3" textLength="12.5" lengthAdjust="spacingAndGlyphs">60E</text>
<text x="465.0" y="305.9" font-size="7.3" text-anchor="middle" fill="#1a1a1a" stroke="#1a1a1a" stroke-width="0.3" textLength="12.5" lengthAdjust="spacingAndGlyphs">90E</text>
<text x="517.0" y="305.9" font-size="7.3" text-anchor="middle" fill="#1a1a1a" stroke="#1a1a1a" stroke-width="0.3" textLength="16.6" lengthAdjust="spacingAndGlyphs">120E</text>
<text x="569.0" y="305.9" font-size="7.3" text-anchor="middle" fill="#1a1a1a" stroke="#1a1a1a" stroke-width="0.3" textLength="16.6" lengthAdjust="spacingAndGlyphs">150E</text>
<text x="621.0" y="305.9" font-size="7.3" text-anchor="middle" fill="#1a1a1a" stroke="#1a1a1a" stroke-width="0.3" textLength="12.5" lengthAdjust="spacingAndGlyphs">180</text>
<text x="673.0" y="305.9" font-size="7.3" text-anchor="middle" fill="#1a1a1a" stroke="#1a1a1a" stroke-width="0.3" textLength="16.6" lengthAdjust="spacingAndGlyphs">150W</text>
<line x1="361.0" y1="297.3" x2="361.0" y2="299.6" stroke="#000" stroke-width="1"/>
<line x1="413.0" y1="297.3" x2="413.0" y2="299.6" stroke="#000" stroke-width="1"/>
<line x1="465.0" y1="297.3" x2="465.0" y2="299.6" stroke="#000" stroke-width="1"/>
<line x1="517.0" y1="297.3" x2="517.0" y2="299.6" stroke="#000" stroke-width="1"/>
<line x1="569.0" y1="297.3" x2="569.0" y2="299.6" stroke="#000" stroke-width="1"/>
<line x1="621.0" y1="297.3" x2="621.0" y2="299.6" stroke="#000" stroke-width="1"/>
<line x1="673.0" y1="297.3" x2="673.0" y2="299.6" stroke="#000" stroke-width="1"/>
<line x1="358.5" y1="188.4" x2="361.0" y2="188.4" stroke="#000" stroke-width="1"/>
<text x="356.4" y="191.1" font-size="7.3" text-anchor="end" fill="#1a1a1a" stroke="#1a1a1a" stroke-width="0.3" textLength="12.5" lengthAdjust="spacingAndGlyphs">20N</text>
<line x1="358.5" y1="212.6" x2="361.0" y2="212.6" stroke="#000" stroke-width="1"/>
<text x="356.4" y="215.3" font-size="7.3" text-anchor="end" fill="#1a1a1a" stroke="#1a1a1a" stroke-width="0.3" textLength="12.5" lengthAdjust="spacingAndGlyphs">10N</text>
<line x1="358.5" y1="236.8" x2="361.0" y2="236.8" stroke="#000" stroke-width="1"/>
<text x="356.4" y="239.5" font-size="7.3" text-anchor="end" fill="#1a1a1a" stroke="#1a1a1a" stroke-width="0.3" textLength="8.3" lengthAdjust="spacingAndGlyphs">EQ</text>
<line x1="358.5" y1="261.0" x2="361.0" y2="261.0" stroke="#000" stroke-width="1"/>
<text x="356.4" y="263.7" font-size="7.3" text-anchor="end" fill="#1a1a1a" stroke="#1a1a1a" stroke-width="0.3" textLength="12.5" lengthAdjust="spacingAndGlyphs">10S</text>
<line x1="358.5" y1="285.2" x2="361.0" y2="285.2" stroke="#000" stroke-width="1"/>
<text x="356.4" y="287.9" font-size="7.3" text-anchor="end" fill="#1a1a1a" stroke="#1a1a1a" stroke-width="0.3" textLength="12.5" lengthAdjust="spacingAndGlyphs">20S</text>
<text x="359.0" y="171.4" font-size="14.8" font-weight="bold" fill="#000">(c)</text>
<text x="382.7" y="170.0" font-size="10.0" letter-spacing="0.15" fill="#1c1c1c" stroke="#1c1c1c" stroke-width="0.15">INH</text>
<g clip-path="url(#cpd)">
<g filter="url(#bl)">
<path d="M69.5,331.0 68.7,330.3 67.7,330.0 66.4,330.5 65.7,331.4 65.1,333.0 65.2,334.3 65.9,335.8 66.7,336.5 67.7,336.8 68.4,336.7 69.3,336.1 69.8,335.5 70.2,334.3 70.3,333.4 70.1,332.1ZM166.9,334.3 166.0,333.9 165.0,333.7 163.3,334.1 162.8,334.5 162.3,335.3 162.2,335.9 162.4,336.7 163.0,337.4 164.3,338.0 165.3,338.0 166.7,337.6 167.4,337.0 167.8,335.9 167.5,335.0ZM20.2,345.3 20.8,347.5 21.9,349.3 22.8,350.4 24.8,351.7 26.4,352.2 27.0,352.1 27.5,351.4 30.8,345.9 31.3,345.3 31.8,345.4 33.0,346.5 34.6,348.7 36.2,353.4 37.0,355.3 39.5,357.0 41.4,357.9 42.0,357.9 42.6,357.5 44.0,355.4 45.2,352.9 45.3,352.1 44.6,350.1 42.0,345.3 40.3,339.5 40.3,338.8 40.6,338.2 42.8,336.5 43.8,335.4 43.9,331.9 43.6,330.4 43.0,329.3 42.0,328.6 39.8,328.2 31.1,327.7 26.3,327.7 22.4,328.0 20.2,328.6 19.4,330.3 19.2,333.2 19.3,336.8ZM25.3,332.5 26.7,332.0 27.4,332.0 28.0,332.2 28.6,332.8 30.1,335.0 31.2,337.3 31.5,339.1 31.0,340.7 30.2,341.8 29.7,341.9 28.6,341.3 27.4,339.9 25.8,337.5 25.0,335.7 24.5,334.0 24.5,333.4ZM60.8,361.9 62.5,362.6 65.3,363.0 68.3,362.6 70.0,361.9 70.5,361.3 70.8,359.5 70.5,357.2 69.6,355.3 68.9,354.6 66.9,353.5 64.6,352.9 63.5,352.8 61.3,353.1 60.2,353.5 58.3,354.6 57.8,355.3 57.7,356.1 57.9,357.2 58.3,358.3 59.4,360.5ZM149.9,357.2 149.4,356.5 148.9,356.6 148.3,357.5 148.0,359.0 148.0,360.3 148.2,361.9 148.6,362.8 149.2,363.3 149.9,362.5 150.4,360.7 150.4,359.0ZM39.3,369.8 42.4,372.0 45.0,373.1 46.2,373.4 47.4,373.5 49.8,373.3 52.1,372.6 54.7,371.4 53.4,375.9 52.3,378.2 47.1,385.3 42.0,391.1 40.9,392.6 40.3,393.8 40.3,395.2 40.7,397.1 42.7,404.9 43.7,413.2 43.7,416.4 43.1,429.2 43.7,439.6 44.3,445.1 45.4,450.1 46.2,452.2 47.8,452.9 50.0,453.0 50.9,452.7 51.4,452.2 51.5,450.9 50.5,438.9 51.0,430.1 51.4,426.8 51.8,425.8 53.7,422.8 54.9,421.9 55.5,422.1 59.3,425.3 60.1,425.5 61.1,425.4 64.5,424.1 67.8,422.6 68.7,421.9 69.3,421.1 70.5,418.3 71.3,414.6 70.5,413.1 68.2,410.5 67.9,409.8 67.9,408.9 68.5,406.2 69.6,402.5 71.6,399.7 73.8,397.2 75.3,396.0 78.1,394.1 80.3,393.3 82.2,392.9 83.8,392.8 88.4,394.8 90.4,395.5 92.5,394.9 97.2,392.8 102.0,391.8 103.8,391.1 104.5,389.5 105.5,385.3 107.6,381.1 108.0,380.1 107.9,379.5 106.1,378.8 100.5,377.8 93.2,375.7 83.8,372.0 73.8,369.6 68.0,367.0 65.5,366.2 60.7,366.5 57.5,367.3 57.1,366.0 56.6,365.1 55.8,364.3 54.9,363.7 51.9,363.1 48.0,362.9 42.9,363.1 40.0,363.4 37.7,364.0 37.0,364.5 36.8,365.1 36.9,366.0 37.8,368.0ZM28.9,384.3 31.1,382.9 33.0,381.2 31.1,379.5 28.9,378.0 26.7,379.5 24.7,381.2 26.7,382.9ZM38.4,410.8 40.2,408.9 41.9,406.9 40.2,404.8 38.4,403.0 36.6,404.8 34.9,406.9 36.6,408.9ZM126.0,451.9 127.1,451.5 127.6,451.0 127.9,450.0 128.4,449.5 132.0,447.9 133.4,446.9 134.6,444.7 134.7,443.3 134.3,442.8 133.5,442.3 131.1,441.7 128.2,441.4 125.1,441.3 108.6,442.6 101.1,443.4 99.8,443.8 97.5,445.5 94.8,448.4 94.0,450.0 94.1,451.3 95.5,452.2 98.6,452.7 109.2,452.9 120.2,452.5ZM84.4,445.3 83.5,444.4 82.7,444.3 81.7,445.0 81.2,446.1 80.9,448.1 81.2,450.0 81.7,451.1 82.7,451.9 83.2,451.9 84.0,451.4 84.8,450.0 85.0,447.6ZM293.6,341.2 295.5,339.7 297.1,338.0 295.5,336.4 293.6,334.9 291.8,336.4 290.2,338.0 291.8,339.7ZM310.6,344.3 312.3,345.8 313.3,346.3 314.6,346.5 314.6,331.0 313.7,331.5 312.3,332.7 310.8,334.2 309.6,335.8 308.9,337.1 308.6,338.3 309.0,341.0 309.5,342.3ZM218.5,350.4 219.4,350.0 220.2,349.2 221.5,347.3 221.9,346.3 221.9,343.6 221.7,342.0 221.3,340.5 220.8,339.3 220.1,338.8 219.1,338.8 217.6,339.4 216.0,340.3 214.4,341.4 213.2,342.6 212.7,343.6 212.8,344.8 213.4,346.1 214.4,347.6 216.8,349.9 217.7,350.4ZM286.0,348.8 288.0,348.8 288.5,348.5 289.0,348.0 289.2,347.1 289.4,344.2 289.2,341.7 289.0,341.2 288.4,341.4 287.6,342.3 285.8,344.7 284.6,346.8 284.4,347.3 284.6,348.1 285.1,348.6ZM273.0,361.6 275.0,361.4 283.4,360.2 287.8,359.9 293.6,360.6 300.6,362.3 307.5,361.6 314.6,364.0 314.6,351.8 312.7,351.8 304.0,352.8 295.4,352.1 293.7,352.5 290.2,353.8 285.6,356.3 283.4,357.2 282.3,357.2 274.7,356.2 271.2,357.4 268.7,358.9 268.8,359.3 270.3,360.4ZM165.8,373.6 170.9,372.0 176.0,369.7 176.8,369.6 177.6,369.6 181.5,370.6 187.9,372.7 193.4,375.4 198.1,376.7 200.2,377.1 203.2,376.5 206.1,375.4 207.6,374.1 209.3,372.1 210.0,371.1 210.2,370.3 209.5,367.3 206.8,360.3 205.2,357.9 204.0,356.5 203.5,356.2 202.7,356.2 198.9,356.9 196.9,356.9 196.2,356.5 192.5,352.5 191.9,352.1 191.2,352.1 189.3,352.9 186.8,354.5 184.6,358.9 184.1,359.9 183.5,360.3 182.8,360.2 181.6,359.6 177.6,357.3 176.8,356.9 176.0,356.9 173.8,357.1 170.9,357.9 167.9,360.1 165.8,362.0 164.7,363.7 163.0,368.1 162.6,370.3 163.0,371.6 164.1,373.0 165.2,373.7ZM238.7,388.2 235.2,393.3 233.7,397.6 233.5,399.4 233.7,400.0 235.0,401.5 236.5,402.7 236.9,402.8 237.7,401.3 239.5,396.9 240.5,396.1 241.9,395.3 242.8,395.0 243.1,395.3 244.3,397.3 244.6,398.6 242.0,403.7 242.6,406.6 243.4,408.5 243.7,408.8 244.1,408.7 245.4,407.5 247.2,405.4 249.8,399.4 251.8,396.9 254.1,395.0 254.7,394.9 256.6,395.3 267.0,398.0 272.2,399.9 273.7,400.9 275.3,402.7 277.3,405.4 281.1,413.1 283.0,416.1 286.0,420.0 288.1,422.3 290.2,424.3 291.7,425.4 293.8,426.5 295.4,427.0 296.1,426.7 298.1,425.2 300.6,422.6 301.1,420.6 301.5,416.6 301.4,415.9 300.6,414.4 299.2,412.9 298.0,412.2 297.4,412.5 294.2,415.5 293.6,415.9 291.1,415.8 289.2,415.3 288.6,414.9 287.2,412.8 284.8,408.2 280.8,399.4 278.8,396.6 276.5,394.3 274.5,393.4 270.5,391.9 261.0,389.2 254.1,384.8 249.8,383.3 245.4,382.2 241.7,382.7 238.7,383.9 238.5,384.3 238.4,385.0 238.7,387.6ZM178.5,434.5 179.9,435.6 183.5,436.9 190.1,437.9 196.9,439.4 200.2,438.8 210.2,436.2 216.8,436.9 223.1,436.0 228.3,437.2 235.2,436.5 239.9,437.1 242.0,437.2 245.2,435.7 248.0,433.8 248.7,432.0 249.0,428.4 248.9,427.7 247.6,426.8 239.0,423.6 236.9,422.6 232.5,417.2 231.7,416.6 230.9,416.2 228.4,415.5 224.8,414.9 216.8,416.1 211.1,415.2 210.2,415.4 209.4,416.0 205.5,419.7 204.3,420.7 203.5,421.2 202.6,421.0 201.5,420.5 197.7,418.2 196.9,417.8 196.0,417.7 193.6,417.9 190.1,418.5 184.2,420.2 181.8,421.2 178.9,423.4 177.2,425.3 176.8,426.0 176.7,427.0 177.3,430.4ZM312.4,448.1 314.6,452.0 314.6,435.1 314.1,435.3 312.9,436.2 311.7,437.4 310.1,439.8 309.9,440.9 310.4,443.3ZM283.2,451.6 283.4,450.7 283.2,449.7 282.8,448.6 281.7,446.9 281.1,446.3 279.4,445.4 276.5,444.7 273.2,444.8 271.1,445.4 270.4,445.9 269.2,447.9 268.8,449.1 268.6,450.4 268.8,451.5 269.5,452.2 271.1,452.6 273.4,452.9 278.7,452.8 281.0,452.6 282.5,452.2Z" fill="#a7d9b2" fill-rule="evenodd"/>
<path d="M126.0,333.2 125.0,332.6 123.8,332.2 123.0,332.2 121.7,332.6 121.0,332.9 120.3,333.7 120.1,334.6 120.2,335.3 121.0,336.4 122.1,336.9 123.4,337.1 125.0,336.7 126.0,336.1 126.6,334.9 126.5,334.0ZM134.3,333.0 133.8,332.4 132.9,332.0 132.0,332.4 131.5,333.0 131.2,334.3 131.2,335.3 131.7,336.5 132.5,337.2 133.3,337.2 134.3,336.3 134.6,334.6ZM94.3,339.7 95.3,341.5 98.4,343.6 99.1,344.3 102.0,350.0 102.6,350.4 103.2,350.3 103.9,349.8 105.2,347.9 105.7,346.7 106.0,345.3 106.3,341.6 106.1,337.1 105.7,335.1 105.2,333.7 104.3,332.8 103.2,332.3 100.6,331.9 96.3,332.1 94.7,332.6 94.1,333.0 93.7,333.7 93.5,334.6 93.7,337.1ZM124.2,348.3 123.4,347.9 122.5,347.7 121.0,348.2 120.2,349.2 120.1,349.7 120.3,350.4 120.8,351.0 121.9,351.5 122.8,351.6 124.0,351.2 124.6,350.7 124.9,349.7 124.7,348.9ZM81.2,362.8 83.9,366.8 84.6,367.5 85.4,367.9 86.2,367.8 87.0,367.4 89.6,365.6 90.4,365.4 91.9,366.0 95.3,369.3 97.4,372.1 98.1,372.7 98.7,372.9 99.4,372.8 100.1,372.3 101.5,370.6 101.9,369.6 102.3,367.4 101.9,364.7 101.0,361.8 99.8,359.0 98.2,356.1 92.1,347.1 90.4,345.3 87.9,343.7 86.2,343.4 85.4,343.6 83.9,344.8 79.1,351.8 78.1,354.1 77.9,355.3 78.5,357.8ZM47.4,377.4 46.6,377.0 44.8,376.7 42.4,376.7 40.6,377.0 39.8,377.4 38.9,378.2 38.8,378.8 38.9,379.3 39.4,379.9 40.6,380.5 43.0,380.9 44.8,380.9 47.0,380.3 48.3,379.3 48.4,378.5ZM111.8,375.1 112.0,388.1 112.8,395.6 112.7,396.2 112.2,396.9 111.4,397.6 105.3,400.4 102.3,402.7 100.4,403.7 99.1,405.0 96.9,407.9 91.4,413.8 88.4,416.3 86.4,417.4 83.4,418.5 77.8,419.1 76.5,419.5 74.2,420.9 73.2,421.9 71.8,423.6 70.9,425.5 70.8,426.6 70.9,427.7 71.3,428.7 72.0,429.6 73.0,430.3 74.1,430.7 80.0,431.2 84.5,432.6 87.2,432.9 89.9,432.3 94.2,430.5 99.9,429.9 104.7,427.7 108.0,427.1 110.1,426.1 110.8,426.9 112.3,427.3 120.1,427.7 135.4,431.0 140.1,431.1 142.3,430.8 144.8,429.8 150.4,426.6 151.8,426.0 154.7,425.3 158.9,424.7 161.2,423.9 163.4,422.8 164.8,421.7 165.2,421.2 165.1,420.7 164.8,420.1 163.5,419.1 161.9,418.5 160.9,418.5 156.2,419.5 155.1,419.5 153.2,418.8 151.5,417.6 150.1,416.1 148.9,414.2 147.8,410.7 147.6,409.5 147.8,408.3 149.3,404.1 151.2,402.2 152.6,399.9 153.0,399.7 153.7,399.0 154.2,397.9 154.8,395.5 164.4,396.8 165.9,397.2 166.7,397.7 167.1,398.6 167.5,400.0 168.2,405.2 168.4,406.2 169.8,407.7 171.7,409.3 173.5,410.3 174.5,410.5 177.6,410.8 181.8,411.0 185.3,410.4 188.6,409.5 193.4,406.9 198.2,405.0 200.2,404.5 200.9,404.6 204.6,406.7 205.2,406.9 205.9,406.7 209.6,404.6 210.2,404.5 210.8,404.6 218.0,410.1 219.6,411.0 222.9,410.7 225.1,410.1 225.7,409.8 225.8,409.2 225.4,407.2 224.6,405.1 224.1,404.5 223.4,404.0 216.8,401.1 211.1,395.3 209.4,394.0 203.5,391.1 197.8,388.8 195.9,388.2 188.6,387.0 176.0,382.1 175.2,381.9 173.3,382.2 169.3,383.6 166.5,386.7 165.2,387.7 164.3,387.6 158.5,385.9 157.5,386.0 156.6,386.8 155.3,388.5 154.9,379.3 154.6,376.6 153.8,374.1 151.8,370.5 150.1,368.6 149.1,368.0 144.6,366.7 143.5,366.2 141.2,364.4 133.3,357.3 131.7,356.2 129.4,355.3 127.7,355.2 125.4,355.4 121.0,356.5 118.3,357.9 117.3,358.8 115.4,361.1 114.6,362.4 113.3,365.4 112.4,369.0ZM122.5,412.2 123.4,409.6 124.1,406.7 125.1,411.6ZM84.8,401.8 83.0,401.3 81.1,401.6 79.9,402.2 79.5,402.8 79.5,403.2 80.2,404.0 81.1,404.5 82.6,404.7 84.2,404.5 85.1,404.0 85.7,403.2 85.6,402.6ZM20.2,452.2 21.5,453.7 23.3,454.4 25.5,454.5 27.6,454.1 29.4,453.3 30.6,452.2 31.2,450.7 31.3,448.5 31.1,446.0 30.2,440.9 29.2,437.3 28.6,435.8 27.8,434.6 26.2,432.5 22.5,428.5 21.6,427.9 20.8,428.1 20.2,429.2 19.4,435.8 19.2,445.3 19.5,449.4ZM48.7,440.8 48.5,445.3 48.8,449.0 49.1,450.1 49.9,451.1 50.8,451.6 52.1,451.7 53.0,451.4 53.8,450.6 54.5,449.4 55.8,446.4 57.0,441.5 57.0,440.1 56.8,438.8 56.0,436.8 54.8,435.4 53.2,434.8 51.9,434.8 50.8,435.3 49.8,436.2 49.3,437.4ZM145.1,334.8 145.9,335.9 146.8,336.6 149.2,337.8 151.7,338.3 153.8,338.1 155.6,337.0 157.7,334.6 159.5,331.4 159.8,330.2 159.7,329.3 158.9,328.6 157.2,328.2 154.6,327.9 148.5,327.8 145.9,328.1 144.2,328.6 143.4,329.4 143.3,330.7 143.7,332.1ZM171.8,333.8 171.9,334.6 170.7,338.3 169.3,341.9 167.0,346.8 166.4,348.7 166.9,350.6 167.8,351.7 168.4,351.9 171.7,351.3 180.2,349.2 184.9,348.6 186.8,348.0 188.8,346.2 194.2,340.7 197.8,337.9 199.8,336.8 200.8,337.0 206.9,339.4 207.8,339.5 208.5,339.0 209.2,338.0 211.8,333.4 214.8,330.8 215.6,329.8 215.6,329.0 214.4,328.6 202.8,328.2 184.6,328.2 172.8,328.6 171.3,329.2 170.7,330.1 170.9,331.3ZM235.4,340.9 234.7,340.3 233.8,340.0 232.9,340.1 232.0,340.5 231.4,341.2 231.1,342.1 231.1,343.0 231.6,343.9 232.2,344.5 233.2,344.8 234.1,344.7 235.0,344.3 235.5,343.6 235.9,342.7 235.8,341.8ZM152.7,351.2 154.0,363.0 154.6,364.9 155.0,365.6 156.2,366.7 157.5,366.9 158.0,366.6 158.6,366.1 159.6,364.1 160.4,361.5 160.7,358.6 160.6,355.1 160.1,351.7 159.4,349.4 158.2,347.9 157.6,347.3 156.3,346.8 155.0,346.7 154.3,346.9 153.2,347.9 152.8,348.7ZM227.4,379.5 227.8,379.9 228.7,379.8 229.6,378.9 230.4,377.3 231.4,374.5 231.9,371.8 231.7,371.0 231.1,370.6 230.0,370.6 227.4,371.1 226.3,371.6 225.7,372.2 225.5,373.2 226.0,376.0ZM251.5,375.7 253.2,376.4 259.3,377.8 266.1,380.5 270.9,381.8 273.0,382.2 279.0,380.6 280.8,380.6 286.9,382.2 291.6,384.3 293.6,384.8 295.7,383.8 299.7,381.0 301.5,380.1 307.5,378.8 314.6,378.2 314.6,368.9 310.3,368.5 304.0,368.3 295.4,367.6 286.9,368.3 278.2,367.6 272.2,368.1 263.5,369.2 261.0,369.3 259.0,368.5 255.7,366.6 255.0,366.4 254.3,366.5 251.9,367.5 250.0,368.8 247.2,371.4 246.5,372.2 246.3,372.7 247.7,373.8ZM254.1,439.1 254.7,439.7 256.3,440.7 258.3,441.4 260.3,441.6 262.6,441.4 266.1,440.8 270.7,439.5 273.0,439.1 274.2,439.1 278.8,439.9 279.9,439.8 283.5,438.9 285.5,437.8 286.0,437.2 286.2,436.4 286.2,435.4 285.5,433.2 284.3,431.4 282.3,430.1 279.8,429.2 277.3,428.7 276.3,428.7 272.3,429.6 271.3,429.7 270.2,429.5 265.7,427.9 263.2,427.7 260.4,427.8 257.8,428.3 256.7,428.7 255.8,429.3 254.4,431.0 253.5,432.9 253.1,434.7 253.1,436.6 253.3,437.6ZM177.1,452.2 180.6,452.7 185.3,452.8 187.2,452.6 188.4,452.2 188.7,451.5 188.4,450.5 187.6,449.3 184.9,446.2 183.5,445.2 182.8,444.9 181.3,444.8 180.6,444.9 179.2,445.8 177.5,447.9 176.2,450.6 176.2,451.3 176.4,451.8Z" fill="#e7c3b9" fill-rule="evenodd"/>
<path d="M177.1,355.6 176.6,354.7 175.9,354.3 175.2,354.7 174.8,355.3 174.5,356.6 174.6,358.0 175.1,359.0 175.7,359.6 176.4,359.4 177.0,358.6 177.3,356.9ZM149.7,359.5 149.4,358.8 149.0,358.7 148.7,359.3 148.6,360.6 148.8,361.5 149.2,362.0 149.5,361.8 149.7,361.2ZM191.5,369.6 192.7,371.9 194.6,373.8 196.8,374.9 199.4,375.4 201.0,375.4 202.6,375.1 204.7,374.1 206.0,372.5 206.5,370.3 206.2,368.7 205.3,366.8 204.1,365.1 203.5,364.5 202.0,363.7 198.4,363.3 195.8,363.3 194.1,363.5 192.8,364.0 191.8,364.7 191.2,365.6 191.0,366.2 191.0,367.7ZM46.1,398.8 47.6,402.0 50.0,405.9 52.9,410.4 54.1,411.8 54.5,412.0 55.8,410.8 58.7,406.9 62.3,402.6 67.0,397.7 72.0,393.6 76.4,390.8 79.1,389.6 83.0,388.2 88.4,387.2 90.4,387.0 97.2,388.0 100.1,386.8 102.2,385.3 101.6,384.6 98.7,382.9 92.2,380.5 85.4,377.1 80.9,375.3 77.8,374.5 70.5,373.7 64.6,370.8 62.0,370.9 60.2,371.5 59.6,372.0 58.3,374.8 55.4,382.2 53.9,384.3 50.4,388.7 46.0,392.2 45.1,393.1 44.6,393.8 45.0,395.9ZM66.6,414.2 66.0,413.8 65.1,413.7 64.4,414.0 64.1,414.8 64.6,415.4 65.8,415.6 66.7,415.0 66.8,414.6ZM186.5,427.7 194.9,433.4 196.0,433.5 196.7,433.2 198.2,431.9 201.8,427.4 202.5,426.0 202.5,424.6 201.9,422.9 201.4,422.2 200.2,421.2 198.7,420.9 196.9,421.2 195.1,421.9 194.3,422.4 190.1,426.0 188.4,426.5 186.2,426.8 186.0,427.0ZM220.7,427.9 221.3,430.4 222.3,432.3 223.5,433.8 224.8,434.8 225.5,434.9 226.1,434.7 228.4,433.9 229.1,433.8 234.3,435.5 238.1,435.9 239.5,435.5 240.1,435.0 240.5,434.4 241.0,432.9 241.1,431.4 240.7,429.8 239.8,428.3 238.7,427.0 236.2,425.8 233.5,425.3 232.7,425.3 229.7,426.1 229.1,426.0 228.4,425.2 227.4,422.6 225.8,420.9 224.5,420.1 223.9,420.0 222.6,420.3 221.3,421.2 220.8,421.8 220.5,422.6 220.3,423.7ZM47.2,426.2 47.0,424.6 46.7,423.6 46.3,425.6 46.1,430.4 46.3,435.2 46.7,437.2 47.0,436.2 47.2,433.8ZM115.0,452.5 116.3,452.2 116.7,451.7 116.7,451.0 116.4,450.2 114.7,447.8 113.7,446.9 112.6,446.3 110.8,445.9 109.0,446.1 107.9,446.9 105.8,449.6 105.3,450.7 105.1,451.6 105.5,452.2 106.7,452.6 108.6,452.8 110.8,452.8Z" fill="#40b377" fill-rule="evenodd" stroke="#d8684a" stroke-width="0.9" stroke-dasharray="1.3,1.3"/>
<path d="M147.6,333.9 148.9,335.0 150.5,335.8 152.0,336.1 153.3,335.8 155.0,334.5 156.6,332.2 157.6,330.1 157.7,329.2 157.2,328.6 155.9,328.2 153.9,328.0 149.2,328.0 147.2,328.2 145.9,328.6 145.4,329.2 145.4,330.1 146.4,332.2ZM133.4,334.0 132.8,333.7 132.3,334.2 132.3,335.0 132.7,335.6 133.2,335.5 133.5,335.1 133.6,334.5ZM155.1,360.1 155.6,362.1 156.2,363.6 156.8,364.5 157.6,364.5 158.4,363.8 158.9,362.5 159.1,360.4 159.1,357.7 158.9,355.3 158.2,352.3 157.5,350.8 156.8,350.2 155.7,350.4 155.2,350.8 154.6,352.1 154.6,355.9ZM86.3,366.2 86.9,365.9 89.7,363.0 90.4,362.8 91.1,362.9 92.5,363.9 94.6,366.2 97.0,370.0 98.1,371.3 99.1,371.4 100.0,370.7 100.3,370.2 100.4,368.7 100.0,366.5 98.3,361.6 96.7,358.1 95.5,356.2 94.7,355.5 92.9,354.3 91.2,353.6 90.4,353.6 89.8,353.7 88.7,354.7 85.1,359.9 84.1,361.9 83.8,362.8 84.2,364.3 85.1,365.6ZM45.4,378.2 43.9,377.9 42.6,378.0 41.6,378.2 41.0,378.8 41.4,379.2 42.0,379.4 44.6,379.5 45.7,379.3 46.2,378.9 46.1,378.6ZM113.9,382.6 114.0,388.1 114.8,395.5 114.7,396.7 113.7,398.2 112.3,399.4 106.3,402.1 103.1,404.8 102.6,404.5 101.6,405.0 100.5,406.1 98.3,409.0 92.7,415.0 90.4,417.1 89.3,417.8 87.1,419.0 83.8,420.2 82.7,420.5 78.1,420.9 76.2,421.7 74.5,423.1 72.9,425.3 72.6,426.6 72.7,427.2 73.2,428.3 74.5,429.0 80.4,429.4 86.0,431.1 88.2,430.9 93.7,428.7 99.4,428.2 103.0,426.6 104.5,425.7 107.6,425.1 109.8,423.9 112.2,422.2 115.2,419.5 118.1,419.7 122.4,420.8 124.3,421.6 127.5,423.8 129.4,424.8 132.9,426.3 135.2,427.0 138.5,427.3 141.7,427.0 142.8,426.7 146.8,424.6 147.6,424.3 148.4,424.4 150.7,426.1 150.9,426.0 151.1,425.6 151.0,423.8 150.5,421.9 150.1,421.2 149.5,420.8 146.5,420.0 145.9,419.5 145.5,418.7 144.9,416.5 144.2,412.7 143.7,406.6 143.3,405.3 142.9,404.8 143.5,402.9 144.9,403.5 146.0,403.6 146.7,403.4 148.1,402.5 149.5,401.2 150.4,399.9 151.2,399.3 151.8,398.6 152.5,396.4 152.7,393.4 152.6,389.0 151.2,377.7 150.6,374.9 150.1,373.7 148.6,371.6 146.8,369.8 145.0,368.6 144.2,368.3 140.8,368.2 140.0,367.9 139.2,367.2 136.1,363.0 135.2,362.0 133.0,360.3 130.7,358.8 128.4,357.9 126.1,357.8 125.0,358.0 122.8,358.9 120.8,360.5 119.0,362.9 116.8,367.1 115.6,370.2 114.7,373.6 114.2,377.1ZM122.6,404.0 124.7,404.4 125.4,404.6 122.4,404.7ZM135.6,397.2 135.2,397.9 134.8,398.3 133.7,398.7 132.6,398.9 131.4,398.7 130.3,398.3 129.7,397.7 129.4,396.9 129.7,396.2 130.3,395.6 131.4,395.2 132.6,395.0 133.7,395.2 134.8,395.6 135.6,396.5ZM126.3,408.4 125.9,409.7 125.5,410.4 124.6,410.8 123.7,410.4 123.1,409.4 122.8,408.1 123.1,406.8 123.5,406.0 124.6,405.4 125.5,405.8 126.1,406.8ZM50.0,448.6 50.7,450.1 51.2,450.4 51.7,450.5 52.3,450.3 53.3,448.9 55.1,444.2 55.7,441.3 55.6,439.2 54.9,437.5 54.0,436.5 53.5,436.2 52.2,436.1 51.5,436.3 51.0,436.8 50.5,437.7 50.2,439.0 49.9,443.1ZM173.8,338.8 173.3,340.4 172.4,342.2 169.7,346.4 169.7,346.8 169.9,346.9 173.0,347.3 175.6,347.0 180.2,346.0 184.9,344.4 185.8,343.6 188.0,340.0 192.6,335.5 193.4,334.9 194.5,334.5 202.6,332.2 205.7,330.3 206.4,329.6 206.6,328.9 205.7,328.6 202.7,328.4 190.3,328.1 177.7,328.2 174.5,328.6 173.4,329.6 173.0,331.4 173.1,333.5ZM254.7,370.7 253.8,370.3 252.8,370.7 252.4,371.7 252.8,372.8 253.8,373.2 254.7,372.8 255.1,371.7ZM266.4,377.3 269.6,378.9 271.3,379.2 274.7,378.5 284.3,375.8 285.9,375.6 287.8,375.9 290.2,376.6 292.6,378.9 293.6,379.5 294.9,378.6 298.0,375.6 299.7,375.0 308.8,372.7 310.1,372.2 308.9,371.8 305.0,371.2 296.5,370.1 294.3,370.1 286.9,370.5 276.5,369.6 269.5,369.4 268.7,369.6 267.2,370.3 265.6,371.6 264.7,372.7 264.9,374.1 265.6,376.0ZM161.7,387.6 161.0,387.1 160.2,387.0 159.2,387.6 158.7,388.5 158.4,389.9 158.6,391.0 159.0,392.0 159.9,392.7 160.5,392.8 161.3,392.6 161.9,392.0 162.3,391.4 162.5,389.6 162.3,388.5ZM192.6,390.1 191.9,389.4 191.1,388.9 189.9,388.8 189.0,389.1 188.3,389.7 187.5,391.1 187.0,393.6 187.3,395.4 188.0,397.0 188.6,397.7 189.5,398.2 190.3,398.4 191.5,398.0 192.6,397.0 193.1,396.0 193.6,394.1 193.6,393.0 193.1,391.1ZM171.9,390.4 172.6,391.3 174.0,392.2 174.5,392.8 176.3,395.6 177.5,397.8 178.3,400.1 179.2,405.3 179.7,406.2 180.4,406.8 182.3,407.7 184.2,408.0 184.9,407.9 185.6,407.5 186.2,406.9 187.2,405.4 187.5,403.7 187.3,403.0 184.7,399.8 183.5,397.9 178.0,388.0 176.4,384.2 175.9,383.5 175.4,383.1 174.7,383.0 173.0,383.5 171.5,384.5 171.0,385.1 170.9,385.8 171.0,387.7ZM203.1,401.3 203.8,401.9 205.7,402.8 208.3,403.0 208.9,402.8 209.9,402.0 210.4,400.7 210.2,400.1 208.9,398.5 205.7,395.8 203.3,394.4 201.8,394.1 201.3,394.2 201.0,394.5 201.0,395.3 201.5,397.8 202.5,400.4ZM217.4,407.5 219.3,409.2 220.5,409.8 222.2,409.7 223.0,409.0 223.1,408.6 222.4,407.1 220.2,404.4 218.3,402.9 216.5,402.4 216.1,402.5 216.0,402.9 216.1,404.4 216.7,406.2ZM259.5,438.7 261.0,439.0 263.6,438.9 269.5,436.9 273.7,436.8 275.6,436.5 278.3,434.9 279.5,433.6 279.6,433.1 279.3,432.6 277.8,431.7 274.7,430.9 272.6,430.9 267.8,431.6 263.0,431.4 261.0,431.6 260.3,431.9 259.1,433.0 258.1,434.8 258.0,436.1 258.2,437.4 259.0,438.4Z" fill="#c29086" fill-rule="evenodd" stroke="#e8584c" stroke-width="0.9"/>
<path d="M54.6,394.7 55.2,397.3 56.3,400.3 57.4,401.6 58.3,402.1 58.7,402.0 67.0,393.6 72.0,390.4 75.5,386.3 80.4,382.9 84.3,380.4 85.4,379.5 84.4,378.9 80.4,377.8 72.0,377.1 66.2,374.8 65.5,374.6 64.1,375.0 61.8,376.5 60.8,377.9 58.0,385.3 54.8,392.8 54.5,393.8Z" fill="#209a5b" fill-rule="evenodd" stroke="#52ac74" stroke-width="0.4"/>
<path d="M148.2,331.5 149.4,332.7 150.0,333.1 151.4,333.5 152.8,333.4 153.4,333.2 154.6,331.9 155.6,330.0 155.7,329.1 155.4,328.6 154.6,328.3 153.1,328.1 149.6,328.1 148.2,328.3 147.3,328.6 147.0,329.1 147.2,329.8ZM174.3,330.5 175.0,335.9 174.3,342.6 175.0,344.0 175.8,344.5 176.2,344.6 180.8,343.0 182.8,341.9 183.6,341.3 188.0,336.1 193.2,330.6 194.0,329.3 193.9,328.6 192.2,328.3 184.8,328.0 177.2,328.3 175.2,328.6 174.5,329.3ZM158.5,356.2 158.0,354.9 157.7,354.6 157.4,354.6 156.7,355.8 156.3,358.9 156.7,362.0 157.1,362.9 157.5,363.3 158.1,362.6 158.6,361.1 158.7,358.9ZM93.4,360.3 96.9,367.1 97.7,368.4 98.1,368.6 98.5,367.9 98.8,366.3 98.5,363.4 97.3,359.7 96.3,357.9 95.8,357.6 95.1,357.4 93.7,357.8 93.3,358.1 93.0,358.6ZM115.7,381.2 115.5,383.7 115.6,388.0 116.4,395.4 116.2,397.2 115.5,398.6 113.8,400.3 108.0,402.9 107.1,403.5 105.0,405.2 100.5,409.5 95.5,416.1 89.3,421.2 88.9,421.9 89.1,422.4 89.7,422.9 91.8,423.8 94.6,424.4 103.8,424.2 106.2,423.9 107.9,423.2 110.1,421.7 113.0,419.5 115.2,417.0 117.1,414.4 118.5,412.0 119.7,409.5 121.3,402.8 121.5,402.5 122.2,402.3 125.8,403.1 126.8,403.7 127.7,406.3 129.5,415.3 130.1,417.8 131.3,419.9 132.9,422.1 134.3,423.6 135.0,424.0 137.9,424.5 139.3,424.3 139.8,423.9 140.8,422.3 141.6,420.4 141.7,419.5 141.6,418.5 140.1,412.3 140.0,411.0 140.5,407.8 142.0,402.2 142.4,401.3 142.9,401.0 143.5,401.1 145.4,402.0 145.9,402.0 146.4,401.8 147.7,400.7 148.8,399.3 149.4,397.7 150.0,393.1 150.0,389.2 149.0,381.1 148.3,377.3 147.6,375.4 145.7,373.1 143.5,371.3 142.7,371.0 138.3,370.6 137.6,370.3 136.2,368.7 134.0,365.2 132.8,363.9 130.9,362.6 129.1,361.5 128.4,361.3 126.8,361.4 124.9,362.0 123.4,362.8 122.0,364.3 119.7,367.6 119.2,368.6 118.3,371.2ZM136.2,397.2 135.7,398.2 135.1,398.7 133.9,399.2 132.6,399.4 131.2,399.2 130.0,398.7 129.2,397.9 128.9,396.9 129.2,396.0 130.0,395.2 131.2,394.7 132.6,394.5 133.9,394.7 135.1,395.2 136.1,396.3ZM78.4,425.3 77.5,424.9 76.4,424.9 75.6,425.4 75.4,426.2 75.7,426.8 76.2,427.1 77.1,427.2 77.7,427.1 78.3,426.9 78.7,426.3 78.8,425.9Z" fill="#9c695e" fill-rule="evenodd" stroke="#dcc8c0" stroke-width="0.45"/>
<path d="M66.1,383.5 66.0,384.3 66.3,385.7 67.0,386.8 68.4,387.2 70.3,387.3 72.8,386.8 75.2,385.6 76.2,384.6 76.5,383.2 76.2,381.7 75.5,380.5 74.1,379.7 71.3,379.4 69.7,379.8 68.0,380.9 66.7,382.2Z" fill="#14743f" fill-rule="evenodd" stroke="#3c9460" stroke-width="0.4"/>
<path d="M150.4,330.9 151.6,331.5 152.1,331.3 152.7,330.9 153.6,329.6 153.8,329.0 153.7,328.6 153.2,328.4 151.0,328.2 149.0,328.4 148.5,328.6 149.0,329.6ZM177.0,330.2 176.9,334.9 176.5,340.8 176.6,341.4 177.3,341.6 179.5,340.7 183.6,336.8 185.9,333.8 188.1,330.6 188.7,329.3 188.7,328.6 187.8,328.3 183.4,328.1 178.8,328.3 177.6,328.6 177.2,329.2ZM118.4,389.1 118.2,391.6 118.7,393.9 119.7,396.1 120.8,397.7 121.3,398.2 122.4,398.9 123.6,399.1 124.9,399.1 127.2,398.4 128.7,397.6 128.6,396.9 128.7,396.2 129.7,394.9 133.3,392.9 134.8,392.5 136.8,392.2 138.1,392.3 139.3,392.8 139.9,393.4 142.1,396.8 142.6,397.2 143.8,397.2 145.0,396.5 145.9,395.2 146.4,393.5 146.7,391.2 146.7,387.4 146.4,383.0 145.9,380.5 144.9,377.3 144.0,375.8 143.5,375.4 142.9,375.3 140.0,377.0 139.3,377.1 138.6,376.8 137.2,375.8 135.2,373.7 132.9,370.1 131.7,368.6 130.1,367.7 128.3,367.2 126.7,367.1 124.8,367.6 123.7,368.5 122.7,369.8 121.6,371.8 120.8,374.2 120.2,376.6 119.7,383.6ZM101.3,420.5 102.2,421.2 102.8,421.3 104.8,420.9 107.2,419.8 108.9,418.8 112.2,416.1 114.4,413.7 116.0,411.0 117.1,407.8 117.1,406.2 116.8,405.6 116.2,405.1 114.6,404.6 113.0,404.5 112.2,404.6 109.6,405.8 107.2,407.4 105.7,408.7 104.4,410.1 103.1,412.0 101.8,414.4 100.7,416.8 100.4,418.6 100.6,419.3Z" fill="#6d4338" fill-rule="evenodd" stroke="#d0bab2" stroke-width="0.45"/>
</g>
<line x1="72.2" y1="446.8" x2="72.2" y2="329.8" stroke="#2a2a2a" stroke-width="1.05" stroke-dasharray="1.1,4.14"/>
<line x1="124.2" y1="446.8" x2="124.2" y2="329.8" stroke="#2a2a2a" stroke-width="1.05" stroke-dasharray="1.1,4.14"/>
<line x1="176.2" y1="446.8" x2="176.2" y2="329.8" stroke="#2a2a2a" stroke-width="1.05" stroke-dasharray="1.1,4.14"/>
<line x1="228.3" y1="446.8" x2="228.3" y2="329.8" stroke="#2a2a2a" stroke-width="1.05" stroke-dasharray="1.1,4.14"/>
<line x1="280.3" y1="446.8" x2="280.3" y2="329.8" stroke="#2a2a2a" stroke-width="1.05" stroke-dasharray="1.1,4.14"/>
<line x1="23.2" y1="341.9" x2="332.3" y2="341.9" stroke="#b8b4b8" stroke-width="0.85" stroke-dasharray="1.3,3.94"/>
<line x1="23.2" y1="366.2" x2="332.3" y2="366.2" stroke="#b8b4b8" stroke-width="0.85" stroke-dasharray="1.3,3.94"/>
<line x1="20.2" y1="390.4" x2="332.3" y2="390.4" stroke="#5cc85c" stroke-width="1.35" stroke-dasharray="2.2,1.4"/>
<line x1="23.2" y1="414.6" x2="332.3" y2="414.6" stroke="#b8b4b8" stroke-width="0.85" stroke-dasharray="1.3,3.94"/>
<line x1="23.2" y1="438.9" x2="332.3" y2="438.9" stroke="#b8b4b8" stroke-width="0.85" stroke-dasharray="1.3,3.94"/>
<path d="M28.3,328.6 28.9,330.8 29.7,332.2 29.9,334.6 32.2,337.1 32.7,339.5 32.9,343.1 34.9,346.8 36.2,351.6 37.0,353.8 39.6,355.7 42.2,358.9 43.3,360.1 42.9,362.3 44.5,364.7 46.2,364.9 49.7,363.5 53.1,363.0 55.7,361.6 57.0,361.8 57.0,364.9 56.3,367.4 54.9,371.0 53.1,374.6 51.4,379.5 48.5,384.1 46.7,385.6 44.5,388.0 41.9,391.6 40.1,394.8 39.1,396.0 37.7,398.2 36.8,400.3 36.0,402.8 35.5,405.4 36.5,407.1 36.5,409.8 36.8,412.2 38.1,415.4 38.4,417.5 38.4,421.9 38.9,425.5 38.6,427.5 37.2,429.9 34.1,432.3 32.3,433.8 31.1,436.0 28.7,438.4 28.3,440.3 29.4,442.5 29.7,444.2 29.7,447.4 29.6,449.1 28.7,452.2M32.3,328.6 32.9,329.8 34.1,332.2 35.1,333.9 36.0,337.1 36.1,338.8 37.2,340.7 38.8,342.9 40.0,345.6 41.4,348.0 42.2,350.4 42.4,353.6 43.1,356.9 43.6,359.6 46.2,359.4 48.8,357.9 51.4,356.5 54.0,354.5 56.6,353.3 58.7,352.3 58.9,350.9 60.9,349.9 62.7,349.2 64.1,347.7 65.8,347.0 67.0,344.6 68.4,344.3 68.2,341.4 69.8,341.0 70.5,338.5 71.9,335.9 70.0,333.2 67.4,332.2 66.3,330.8 65.8,328.6M55.9,328.6 56.3,330.3 57.1,331.3 57.7,332.0 59.4,331.7 61.8,332.0 63.0,330.3 64.1,329.1 64.9,328.3M56.4,328.3 57.5,329.8 57.7,328.3M74.8,328.6 77.4,329.3 80.0,329.2 83.1,328.6 83.8,330.0 85.0,332.2 86.4,333.2 87.3,334.4 89.2,335.1 90.1,334.6 88.3,336.3 87.8,336.6 88.9,338.0 90.2,339.7 91.3,340.2 93.0,339.3 93.9,336.6 94.4,338.3 94.2,339.5 94.4,344.3 94.8,348.0 96.1,353.1 97.9,359.1 99.6,363.3 100.3,366.2 101.5,369.8 102.6,370.8 103.8,368.8 105.2,367.9 105.7,365.4 106.7,365.4 106.5,362.5 107.4,358.6 107.1,354.0 108.5,352.1 109.0,351.1 110.9,350.2 112.6,347.5 115.2,344.1 117.0,342.4 118.7,341.2 119.0,338.3 120.8,337.8 122.5,337.6 124.2,337.1 125.3,335.9 126.5,335.6 127.4,336.3 127.7,338.5 128.4,340.5 129.3,341.7 130.6,344.3 131.7,346.8 132.0,350.4 131.5,351.6 133.4,352.3 135.2,350.9 136.0,349.2 136.7,349.7 137.4,350.9 137.8,354.0 138.3,356.5 139.0,360.1 139.3,363.7 139.0,366.2 138.6,368.6 138.6,371.3 139.5,370.5 140.4,372.7 141.6,374.6 142.1,377.1 142.8,380.2 143.8,383.1 144.7,384.3 145.9,385.6 147.5,387.0 148.3,387.2 149.0,387.0 148.7,384.8 147.6,383.6 147.5,381.7 147.5,379.5 146.4,376.8 145.4,375.4 144.3,373.7 143.1,373.4 142.3,372.2 141.9,369.8 141.4,367.9 140.4,367.9 140.2,364.9 140.9,362.5 141.4,360.1 141.6,358.2 142.6,357.7 143.3,358.4 143.1,359.9 144.7,359.9 145.6,360.8 146.6,362.0 146.9,363.7 147.8,364.7 149.0,364.9 150.1,365.9 149.9,369.3 150.9,368.6 152.7,367.1 153.4,365.2 154.2,365.2 155.4,364.5 157.2,362.8 157.7,360.1 157.9,357.7 157.4,355.3 156.8,353.3 155.8,351.4 154.6,349.9 153.2,347.7 152.7,346.5 151.5,344.6 151.8,342.4 153.0,341.2 153.7,339.5 155.4,338.3 156.3,337.8 158.0,338.3 158.6,339.7 159.3,341.2 159.8,341.0 159.6,339.0 160.6,338.3 162.4,337.6 164.5,336.8 166.2,336.3 167.6,335.4 170.2,334.6 171.9,332.7 173.1,331.0 174.3,328.6M156.7,343.9 158.0,346.3 159.8,344.8 160.6,342.6 160.0,341.7 158.2,341.9 156.7,343.9M178.0,328.6 176.8,332.2 176.4,334.2 177.6,337.1 178.7,334.6 179.4,331.0 179.5,328.6M106.7,366.9 107.2,366.6 109.0,369.8 110.0,372.2 109.8,374.6 107.9,376.1 106.9,375.6 106.5,373.4 106.4,370.5 106.7,366.9M133.4,377.1 134.6,377.6 137.2,377.8 138.5,379.5 139.8,381.7 141.6,383.6 143.0,385.1 144.2,386.3 145.6,388.0 147.5,389.2 148.2,391.1 148.2,392.8 149.4,394.8 150.2,396.0 152.0,397.7 151.8,400.6 151.8,404.5 150.8,404.5 149.5,404.0 148.5,402.3 146.8,400.6 145.6,399.9 144.2,397.2 143.1,395.2 142.3,392.8 141.2,390.6 140.0,389.4 139.3,386.3 137.6,384.6 136.7,382.6 135.2,381.2 133.8,378.8 133.4,377.1M150.6,406.9 152.0,404.7 153.2,404.9 156.0,405.7 156.7,406.9 159.6,407.1 160.6,405.9 163.4,407.1 163.8,408.6 165.8,409.1 166.7,409.8 166.7,411.5 164.1,410.5 160.6,410.3 157.2,409.1 155.4,409.3 152.8,408.3 150.6,406.9M157.2,386.5 158.2,385.6 159.4,386.3 161.0,387.0 161.3,384.6 164.1,382.6 165.7,379.5 167.6,378.3 168.6,376.8 169.7,374.9 170.5,373.4 171.6,374.4 172.3,376.1 174.9,377.8 173.1,379.2 172.1,380.2 172.6,382.6 172.4,385.6 174.5,388.0 172.6,388.5 171.9,390.4 171.9,392.3 170.4,394.0 169.8,396.5 169.3,399.1 167.1,400.3 166.7,398.9 164.1,398.2 162.0,398.9 159.3,397.4 158.9,394.0 157.5,391.6 157.2,389.7 157.2,386.5M177.6,387.2 179.7,388.0 181.5,388.2 183.7,388.0 185.3,386.5 184.6,388.2 183.2,389.4 181.5,389.2 178.9,389.2 176.6,389.7 176.2,391.6 177.5,393.6 178.9,392.6 181.1,392.6 182.1,392.6 180.2,394.3 179.2,395.0 180.2,397.7 180.4,398.9 181.5,400.1 180.8,401.1 181.5,403.2 179.7,402.0 178.9,401.8 178.0,399.9 177.8,396.9 176.8,397.4 176.9,400.1 176.8,403.7 175.4,403.7 175.4,400.1 175.4,398.9 174.2,397.2 175.0,393.6 175.7,390.9 175.9,388.5 177.6,387.2M195.3,392.3 197.6,391.4 199.7,392.1 200.7,392.3 201.0,395.2 201.7,397.7 203.1,398.4 204.9,395.7 207.1,394.0 209.2,395.2 212.7,396.7 215.3,398.2 217.9,399.6 219.6,401.1 221.0,403.5 223.1,404.9 224.5,406.6 223.4,407.4 224.5,409.5 225.7,412.2 227.4,413.9 229.7,415.1 228.3,416.1 226.2,415.1 223.9,414.6 222.2,412.0 220.5,409.5 218.7,408.8 217.0,410.3 216.6,412.2 215.3,412.7 212.7,412.5 210.6,410.0 208.8,410.5 207.5,410.5 207.1,408.1 208.8,406.9 207.5,403.7 204.9,401.8 202.6,401.1 200.2,399.6 198.4,400.1 198.4,398.4 197.1,397.2 199.7,396.2 197.9,395.7 196.2,394.0 195.3,392.3M165.0,452.2 165.2,448.6 165.5,445.4 166.2,443.2 167.6,442.5 170.5,440.3 172.8,439.6 174.5,438.9 176.2,438.6 178.9,436.5 180.2,434.0 180.1,431.6 181.5,430.2 182.5,432.3 182.8,429.9 184.1,429.2 184.9,427.2 186.7,424.8 188.4,424.1 190.1,426.3 190.8,426.8 192.7,426.5 192.9,424.3 193.9,421.9 195.0,420.5 197.1,420.0 198.1,418.0 199.7,419.0 202.3,420.0 204.9,419.5 205.6,420.2 204.0,423.1 203.1,426.3 204.9,428.7 207.5,430.9 209.7,433.1 211.8,433.1 213.0,429.2 213.7,424.3 213.9,420.7 214.7,417.1 215.4,416.3 216.5,419.5 217.5,425.1 219.9,426.8 220.6,430.4 221.3,434.0 222.2,436.5 223.9,437.4 225.7,439.4 226.9,441.3 227.9,444.5 229.7,445.7 229.8,447.6 231.4,448.6 232.3,450.5 233.1,452.2M177.3,345.6 179.7,345.6 180.2,349.2 179.0,352.1 179.2,355.3 180.2,356.5 181.5,356.9 183.4,358.9 183.0,359.9 181.5,357.7 179.7,357.4 178.5,357.4 177.3,356.7 177.8,355.0 176.6,354.5 175.9,351.1 176.9,350.2 176.9,348.0 177.3,345.6M185.8,366.6 187.2,369.8 187.5,372.9 186.8,374.9 185.8,374.2 185.6,376.8 183.5,375.4 183.2,372.7 181.8,372.2 180.1,373.4 179.9,371.3 181.5,369.8 182.8,370.5 184.4,369.6 185.8,368.6 185.8,366.6M183.7,360.1 185.4,360.3 186.1,363.3 184.9,365.4 184.4,363.3 183.7,360.1M179.7,361.8 181.6,362.5 182.1,364.9 181.5,368.3 180.6,367.1 179.7,364.9 179.7,361.8M171.4,370.0 173.6,367.4 175.4,364.2 175.0,363.0 173.3,366.2 171.4,370.0M178.0,357.9 178.9,359.6 178.2,360.6 177.1,358.2 178.0,357.9M166.7,410.3 168.6,410.5 167.9,411.7 166.7,410.3M169.3,410.8 170.5,410.8 170.2,412.0 169.3,411.7 169.3,410.8M170.7,411.0 172.8,410.3 174.7,410.8 173.6,411.7 171.0,412.2 170.7,411.0M176.1,411.0 178.0,410.8 181.3,410.3 181.1,411.2 178.9,412.0 176.2,411.7 176.1,411.0M174.5,413.4 176.2,413.2 177.6,414.6 176.2,415.4 174.5,413.9 174.5,413.4M182.3,415.4 184.1,412.9 185.8,411.5 188.4,410.8 187.5,412.2 184.9,414.2 183.2,415.4 182.3,415.4M189.4,385.6 190.1,386.8 191.3,386.8 190.5,388.5 191.5,389.7 190.1,389.7 190.1,392.3 189.6,390.4 189.3,388.0 189.4,385.6M190.1,397.7 192.7,397.2 195.0,398.6 192.7,398.6 190.1,398.6 190.1,397.7M186.7,398.2 188.4,397.9 188.7,399.1 187.2,399.6 186.7,398.2M225.3,404.0 227.4,403.7 229.1,403.7 230.9,402.3 232.3,400.6 232.1,402.5 230.0,404.9 227.4,405.4 225.3,404.0M229.7,396.7 231.7,398.2 233.5,401.3 232.9,401.8 231.2,398.6 229.7,396.7M236.2,403.7 237.8,404.9 238.5,406.9 237.3,406.4 236.2,403.7M239.5,406.6 241.3,408.1 240.8,408.3 239.5,406.6M243.0,408.8 245.3,410.8 244.7,411.0 243.0,408.8M244.9,412.9 247.0,414.2 246.1,414.4 244.9,412.9M246.8,410.8 247.9,413.4 247.2,412.7 246.8,410.8M247.9,415.4 249.6,416.6 248.7,416.3 247.9,415.4M257.0,426.8 258.1,428.2 257.4,428.2 257.0,426.8M258.3,429.2 259.1,430.4 258.4,430.4 258.3,429.2M259.8,433.1 260.3,433.5 259.8,433.5 259.8,433.1M261.6,435.7 261.7,436.5 261.4,436.2 261.6,435.7M252.5,439.1 255.1,441.3 257.7,444.5 256.9,444.5 254.3,442.3 252.5,439.1M275.6,432.8 277.7,432.6 277.9,434.3 275.8,434.3 275.6,432.8M278.0,430.9 280.1,429.9 279.4,431.1 278.0,430.9M292.9,423.1 293.8,423.4 293.3,423.9 292.9,423.1M294.2,424.1 295.0,424.3 294.5,424.6 294.2,424.1M321.9,342.6 323.6,342.2 323.8,343.4 322.6,344.6 321.9,342.6M320.7,339.7 321.7,340.0 321.2,340.5 320.7,339.7M318.1,338.3 318.9,338.5 318.4,338.8 318.1,338.3M315.5,336.8 316.0,336.8 315.8,337.3 315.5,336.8M23.1,390.9 24.5,389.9 27.1,389.7 27.5,391.6 27.0,393.6 25.9,395.7 25.1,397.2 23.7,396.7 23.3,394.0 23.1,390.9M19.0,398.6 19.7,401.3 19.5,404.5 21.1,407.9 21.9,411.2 21.2,411.0 20.2,408.1 18.8,404.9 18.8,401.3 19.0,398.6M27.1,413.7 28.0,415.9 27.7,419.0 28.5,421.9 29.2,425.1 28.5,424.8 28.0,422.6 27.3,419.5 27.3,416.6 27.0,414.2 27.1,413.7M53.7,419.5 55.2,423.1 55.7,427.5 54.5,428.0 54.2,431.1 53.8,434.0 52.8,438.9 51.8,443.7 50.7,447.6 49.8,450.8 48.3,451.5 46.6,452.5 44.5,451.2 44.0,448.6 43.3,444.5 44.1,441.3 45.2,438.9 45.0,435.2 44.5,432.3 45.3,429.7 47.1,428.9 48.8,428.0 50.5,426.3 51.4,423.4 52.8,421.2 53.7,419.5M64.1,441.3 64.9,441.5 64.4,442.0 64.1,441.3M67.7,439.1 68.4,439.4 68.1,440.1 67.7,439.1M60.8,359.9 62.5,359.9 61.8,360.6 60.8,359.9M136.7,387.0 137.9,388.7 137.4,388.2 136.7,387.0M139.3,392.8 140.4,394.8 139.7,394.3 139.3,392.8M150.8,394.5 153.0,396.5 152.0,397.7 150.8,394.5" fill="none" stroke="#a428c6" stroke-width="1.3" stroke-linejoin="round" stroke-linecap="round"/>
<circle cx="124.2" cy="390.4" r="6.6" fill="#000"/>
</g>
<rect x="20.2" y="329.8" width="312.1" height="121.2" fill="none" stroke="#000" stroke-width="1.5"/>
<text x="20.2" y="459.6" font-size="7.3" text-anchor="middle" fill="#1a1a1a" stroke="#1a1a1a" stroke-width="0.3" textLength="12.5" lengthAdjust="spacingAndGlyphs">30E</text>
<text x="72.2" y="459.6" font-size="7.3" text-anchor="middle" fill="#1a1a1a" stroke="#1a1a1a" stroke-width="0.3" textLength="12.5" lengthAdjust="spacingAndGlyphs">60E</text>
<text x="124.2" y="459.6" font-size="7.3" text-anchor="middle" fill="#1a1a1a" stroke="#1a1a1a" stroke-width="0.3" textLength="12.5" lengthAdjust="spacingAndGlyphs">90E</text>
<text x="176.2" y="459.6" font-size="7.3" text-anchor="middle" fill="#1a1a1a" stroke="#1a1a1a" stroke-width="0.3" textLength="16.6" lengthAdjust="spacingAndGlyphs">120E</text>
<text x="228.3" y="459.6" font-size="7.3" text-anchor="middle" fill="#1a1a1a" stroke="#1a1a1a" stroke-width="0.3" textLength="16.6" lengthAdjust="spacingAndGlyphs">150E</text>
<text x="280.3" y="459.6" font-size="7.3" text-anchor="middle" fill="#1a1a1a" stroke="#1a1a1a" stroke-width="0.3" textLength="12.5" lengthAdjust="spacingAndGlyphs">180</text>
<text x="332.3" y="459.6" font-size="7.3" text-anchor="middle" fill="#1a1a1a" stroke="#1a1a1a" stroke-width="0.3" textLength="16.6" lengthAdjust="spacingAndGlyphs">150W</text>
<line x1="20.2" y1="451.0" x2="20.2" y2="453.3" stroke="#000" stroke-width="1"/>
<line x1="72.2" y1="451.0" x2="72.2" y2="453.3" stroke="#000" stroke-width="1"/>
<line x1="124.2" y1="451.0" x2="124.2" y2="453.3" stroke="#000" stroke-width="1"/>
<line x1="176.2" y1="451.0" x2="176.2" y2="453.3" stroke="#000" stroke-width="1"/>
<line x1="228.3" y1="451.0" x2="228.3" y2="453.3" stroke="#000" stroke-width="1"/>
<line x1="280.3" y1="451.0" x2="280.3" y2="453.3" stroke="#000" stroke-width="1"/>
<line x1="332.3" y1="451.0" x2="332.3" y2="453.3" stroke="#000" stroke-width="1"/>
<line x1="17.7" y1="341.9" x2="20.2" y2="341.9" stroke="#000" stroke-width="1"/>
<text x="15.6" y="344.6" font-size="7.3" text-anchor="end" fill="#1a1a1a" stroke="#1a1a1a" stroke-width="0.3" textLength="12.5" lengthAdjust="spacingAndGlyphs">20N</text>
<line x1="17.7" y1="366.2" x2="20.2" y2="366.2" stroke="#000" stroke-width="1"/>
<text x="15.6" y="368.9" font-size="7.3" text-anchor="end" fill="#1a1a1a" stroke="#1a1a1a" stroke-width="0.3" textLength="12.5" lengthAdjust="spacingAndGlyphs">10N</text>
<line x1="17.7" y1="390.4" x2="20.2" y2="390.4" stroke="#000" stroke-width="1"/>
<text x="15.6" y="393.1" font-size="7.3" text-anchor="end" fill="#1a1a1a" stroke="#1a1a1a" stroke-width="0.3" textLength="8.3" lengthAdjust="spacingAndGlyphs">EQ</text>
<line x1="17.7" y1="414.6" x2="20.2" y2="414.6" stroke="#000" stroke-width="1"/>
<text x="15.6" y="417.3" font-size="7.3" text-anchor="end" fill="#1a1a1a" stroke="#1a1a1a" stroke-width="0.3" textLength="12.5" lengthAdjust="spacingAndGlyphs">10S</text>
<line x1="17.7" y1="438.9" x2="20.2" y2="438.9" stroke="#000" stroke-width="1"/>
<text x="15.6" y="441.6" font-size="7.3" text-anchor="end" fill="#1a1a1a" stroke="#1a1a1a" stroke-width="0.3" textLength="12.5" lengthAdjust="spacingAndGlyphs">20S</text>
<text x="18.2" y="324.9" font-size="14.8" font-weight="bold" fill="#000">(d)</text>
<text x="41.9" y="325.2" font-size="10.0" letter-spacing="0.15" fill="#1c1c1c" stroke="#1c1c1c" stroke-width="0.15">SHC</text>
<g clip-path="url(#cpe)">
<g filter="url(#bl)">
<path d="M376.6,335.9 377.3,336.3 378.2,336.5 379.1,336.3 380.1,335.9 381.8,334.7 383.3,332.5 384.0,331.1 384.5,329.6 384.7,328.4 384.4,327.6 383.4,327.0 379.7,326.6 377.7,326.7 375.9,327.0 374.9,327.6 374.5,328.6 374.5,330.1 374.8,331.8 375.3,333.5ZM475.4,334.7 474.4,334.2 473.3,334.0 471.5,334.5 471.0,334.9 470.5,335.8 470.4,336.4 470.6,337.3 471.2,338.1 472.6,338.7 473.7,338.8 475.1,338.3 475.8,337.6 476.3,336.4 476.0,335.5ZM443.4,338.3 441.9,337.8 440.7,338.2 439.9,339.1 440.0,340.1 440.5,340.7 441.4,341.1 442.2,341.2 443.2,340.8 443.7,340.3 444.0,339.5 443.9,338.9ZM500.4,346.1 499.1,345.7 497.7,345.9 496.9,346.4 496.6,347.3 497.0,348.0 497.7,348.4 498.8,348.6 499.9,348.4 500.6,348.0 501.0,347.3 501.0,346.8ZM456.8,350.8 455.5,350.5 454.2,350.7 453.5,351.1 453.2,351.8 453.7,352.4 454.2,352.7 455.3,352.9 456.3,352.7 456.9,352.4 457.4,351.8 457.3,351.4ZM362.2,343.8 362.9,346.0 364.6,350.3 366.0,356.0 366.4,358.6 366.1,362.8 365.5,367.0 363.6,373.1 363.1,375.4 363.4,375.9 364.1,376.4 365.9,377.1 366.7,377.2 367.2,377.0 368.4,374.9 369.7,371.4 370.5,368.7 370.4,366.1 369.7,360.3 371.4,353.6 369.7,346.9 370.4,341.7 370.5,339.5 369.1,335.9 367.2,332.8 364.1,331.3 361.9,330.8 361.3,331.1 361.2,332.3 361.5,337.2ZM378.6,359.0 377.9,357.8 377.3,357.7 376.5,358.6 376.0,360.5 375.9,362.8 376.2,365.0 376.7,366.1 377.5,366.8 377.9,366.6 378.4,365.8 378.9,363.9 379.0,361.7ZM376.8,381.6 376.2,381.0 375.4,380.7 374.3,380.8 373.6,381.3 373.0,382.0 372.3,383.6 372.1,385.4 372.5,387.8 373.2,389.2 373.9,389.8 374.7,390.1 375.4,390.1 376.5,389.5 377.1,388.8 377.7,387.2 378.0,385.4 377.9,384.2 377.4,382.5ZM380.7,415.8 377.1,414.2 376.4,414.1 373.7,415.4 371.9,416.8 371.4,417.4 371.2,419.5 371.4,422.5 371.7,423.6 372.1,424.1 373.0,424.0 379.6,421.0 380.6,420.8 381.2,421.0 381.8,421.6 383.4,423.7 383.9,424.1 388.0,423.9 389.8,424.1 391.1,425.9 393.9,430.8 396.4,432.5 398.2,433.2 398.8,433.2 399.3,432.6 402.3,426.5 405.1,423.9 406.4,423.2 407.0,423.2 410.8,424.1 411.4,424.1 412.5,423.3 414.7,420.8 418.6,418.0 418.9,417.4 418.9,416.6 417.5,410.8 416.7,408.8 413.0,402.4 409.7,392.3 407.3,388.7 404.7,385.6 401.4,384.0 398.9,383.2 398.1,383.2 396.5,384.5 394.5,386.9 393.1,389.0 392.6,390.1 389.8,399.0 385.4,409.1 383.4,412.8 381.8,415.2 381.3,415.7ZM418.0,434.9 418.6,436.8 419.5,438.9 422.5,443.6 423.9,445.3 424.8,445.9 426.8,446.6 429.1,447.0 432.5,447.0 435.0,446.8 437.2,446.3 438.1,445.9 439.7,444.5 440.9,442.7 441.3,441.7 441.4,440.8 440.9,439.0 439.7,437.1 438.1,435.8 437.2,435.6 436.1,435.6 430.2,436.8 426.7,437.7 425.7,437.7 424.8,437.5 424.1,436.9 423.7,435.9 422.6,432.3 422.2,431.5 421.1,430.4 419.8,429.7 418.9,429.8 418.3,431.0 418.0,432.9ZM508.2,340.5 507.7,339.4 507.3,339.3 506.8,340.1 506.5,341.8 506.4,343.8 506.6,345.8 506.9,346.8 507.5,347.4 508.1,346.5 508.4,344.9 508.5,342.8ZM507.1,353.6 507.8,357.7 508.3,359.3 509.7,360.2 513.4,362.0 516.9,364.8 518.4,366.0 520.6,369.1 521.7,370.3 523.6,370.9 528.4,372.0 532.0,373.9 533.5,374.4 534.9,373.9 538.3,372.0 543.1,371.0 545.1,370.3 545.6,369.8 547.9,365.8 548.4,365.3 550.3,365.6 555.1,367.0 558.7,366.4 561.1,365.7 561.7,365.3 562.0,363.6 562.1,359.3 562.9,358.2 565.4,356.0 567.6,352.2 568.7,351.0 570.1,351.2 573.7,352.6 578.4,353.7 580.3,354.3 581.5,355.9 583.3,358.9 583.7,359.3 584.2,359.3 586.3,358.0 587.0,357.0 585.3,351.6 585.3,351.0 585.9,350.6 592.1,349.3 604.5,346.2 612.0,343.6 615.4,342.9 618.7,342.6 624.5,344.2 625.3,344.3 626.0,344.0 629.7,341.5 634.0,337.6 638.6,331.5 639.3,329.8 639.0,328.4 637.1,327.6 631.3,327.2 608.4,327.1 585.1,327.4 578.7,327.6 575.5,327.8 572.9,328.2 570.8,328.8 566.0,330.5 562.1,332.6 555.2,334.5 551.7,335.9 545.1,341.9 538.3,344.3 531.7,349.3 528.4,351.2 525.8,352.4 525.0,352.6 524.1,352.6 520.3,351.7 517.7,350.6 514.0,347.9 513.4,347.6 511.5,347.6 509.0,348.0 507.5,348.6 507.1,349.9ZM554.5,348.1 556.1,347.0 557.7,346.7 558.5,346.9 560.4,347.9 561.8,349.5 562.1,350.3 562.0,351.2 561.5,352.4 560.1,354.8 558.6,356.2 557.9,356.3 556.3,355.7 554.8,354.5 553.9,353.2 553.3,351.6 553.2,350.0 553.4,349.3ZM634.0,356.0 636.1,351.2 634.0,346.4 631.9,351.2ZM574.6,393.3 575.7,395.2 576.3,395.8 577.0,396.1 577.7,396.1 578.5,395.8 579.4,395.2 581.4,393.2 582.2,392.1 583.3,389.6 583.7,388.1 584.0,385.0 583.7,382.5 583.3,381.7 582.0,380.4 579.4,379.4 575.7,379.0 574.5,379.1 573.5,379.5 572.8,380.4 572.6,381.8 572.9,386.0 573.8,390.5ZM559.1,412.2 555.1,407.8 553.9,406.7 552.4,405.9 550.8,405.6 549.4,405.6 547.1,406.1 544.9,407.0 543.7,407.8 542.2,409.2 541.0,411.2 540.4,412.6 540.1,414.4 538.3,413.1 537.3,412.7 531.7,412.4 526.3,410.4 523.4,409.8 522.0,409.8 519.0,410.2 515.1,411.4 513.1,412.5 510.8,414.8 507.5,419.6 506.2,422.6 505.9,424.1 505.9,425.7 506.2,427.5 507.2,431.0 509.5,436.8 511.7,440.1 512.5,440.8 514.3,441.9 516.3,442.4 518.4,442.5 520.6,442.3 522.9,441.6 525.9,440.4 530.0,437.5 534.6,434.8 536.8,433.2 538.7,431.5 540.4,429.6 541.2,428.6 542.1,426.7 543.6,430.0 545.0,432.1 546.7,433.9 548.7,435.3 551.0,436.2 552.5,436.4 554.1,436.2 556.2,435.4 558.3,434.0 559.4,432.9 560.2,431.8 561.8,428.2 564.3,427.2 565.7,427.0 567.1,426.3 568.5,424.9 569.1,424.0 569.9,422.0 569.9,420.8 569.6,418.2 568.7,415.7 568.1,414.8 566.2,413.5 565.0,413.0 563.8,412.8 562.8,413.0 562.1,413.6 561.8,414.6ZM596.1,414.0 594.7,417.6 593.6,419.1 591.8,418.9 587.0,417.4 582.8,417.6 579.7,417.9 578.7,418.1 576.9,419.3 574.8,421.0 573.7,422.4 573.8,423.9 575.0,426.8 575.9,428.1 580.3,432.5 582.2,436.5 583.5,439.7 583.7,440.8 583.5,442.0 581.3,447.2 581.2,448.6 582.0,449.4 584.9,449.8 590.1,450.0 602.6,449.9 610.4,449.4 610.8,448.8 610.1,447.8 608.7,446.5 600.9,440.5 599.5,439.2 598.3,435.9 597.8,433.4 597.8,432.5 598.8,430.4 603.8,423.3 605.4,420.8 607.4,415.3 607.8,413.1 607.5,412.5 606.1,411.0 600.7,406.7 598.5,405.1 597.8,404.8 597.1,404.7 594.5,405.6 593.6,406.4 593.8,407.1 596.0,412.2 596.2,413.1ZM614.9,435.8 617.0,437.1 619.0,438.0 620.1,438.2 620.6,437.6 620.5,436.5 619.5,434.9 617.3,432.5 615.0,430.3 613.3,429.3 612.5,429.2 611.1,429.5 610.7,429.9 610.6,430.3 611.2,431.7 613.3,434.4Z" fill="#a7d9b2" fill-rule="evenodd"/>
<path d="M482.8,333.0 483.4,337.1 484.1,339.5 484.6,340.5 485.8,341.9 486.5,342.2 488.2,342.0 490.1,341.2 492.9,339.5 494.8,337.9 495.6,337.0 496.8,334.6 497.8,331.4 498.0,329.9 497.8,328.5 497.1,327.6 495.6,327.0 493.3,326.6 488.0,326.6 485.7,327.0 484.1,327.6 483.2,328.5 482.8,329.8ZM499.6,350.2 498.7,348.6 498.0,347.9 497.2,347.6 496.5,347.9 495.8,348.6 495.2,349.6 494.7,351.0 494.3,354.3 494.7,357.7 495.4,359.6 496.1,360.5 496.9,360.9 497.6,360.9 498.7,360.1 499.3,359.1 499.8,357.7 500.2,354.3 500.1,352.6ZM436.7,384.8 438.0,387.3 440.4,390.7 443.1,393.7 444.2,394.5 445.5,394.9 447.3,395.1 459.9,396.0 446.8,397.7 444.7,398.1 443.4,398.5 440.8,400.1 437.5,403.0 434.9,406.1 434.2,407.2 434.0,408.1 434.6,411.3 436.0,415.8 437.3,419.1 438.7,421.8 441.7,426.5 444.3,429.7 447.7,433.3 448.5,433.9 449.3,434.1 451.6,433.9 454.8,433.2 459.3,431.4 461.5,430.8 471.9,432.7 475.5,432.3 483.2,430.5 486.5,429.6 488.5,428.5 491.2,426.4 493.7,424.1 494.5,423.2 495.0,422.0 497.0,416.2 497.6,413.1 497.5,412.0 496.8,409.1 495.3,405.2 493.1,401.4 492.0,400.0 490.7,398.8 490.0,398.5 503.1,399.3 506.3,400.3 511.8,402.8 516.3,403.8 519.5,404.1 520.5,404.0 521.2,403.5 524.9,398.7 525.7,398.1 526.7,397.8 529.9,397.7 534.3,398.1 543.0,401.6 546.7,402.6 549.2,402.9 549.9,402.8 550.4,402.4 551.2,400.6 551.7,398.5 551.7,397.8 551.4,397.2 548.4,392.8 545.9,386.1 544.1,384.2 541.8,382.8 533.5,381.1 528.8,378.6 526.7,377.7 524.2,378.0 512.4,380.8 510.1,381.1 509.3,380.9 507.4,379.7 505.0,377.7 502.3,371.8 501.7,371.1 499.9,369.8 497.2,368.5 495.0,367.7 492.5,367.9 486.7,368.7 483.3,368.1 480.1,367.0 473.3,362.0 468.3,359.3 464.8,359.3 453.5,357.1 451.5,357.0 450.6,357.1 446.5,358.5 444.7,359.6 444.4,360.3 443.5,365.5 443.2,366.3 441.2,367.4 437.2,369.1 436.4,369.6 435.3,371.1 434.4,373.3 434.0,375.4 434.6,378.5ZM360.1,447.8 361.0,449.4 362.6,450.3 364.9,450.6 367.6,450.6 370.4,450.3 374.7,449.4 375.8,448.9 376.5,448.0 377.5,445.0 378.0,444.2 378.8,443.5 381.8,442.0 382.5,441.5 383.0,440.8 383.2,440.1 382.9,438.3 381.9,436.5 380.5,435.2 378.4,434.2 375.9,433.5 373.4,433.0 370.5,432.9 367.6,433.0 363.2,433.7 362.3,434.0 361.6,434.7 361.0,435.8 360.5,437.6 359.8,442.8 359.8,445.5ZM495.9,449.9 500.9,449.4 501.3,449.2 501.2,448.9 499.3,447.1 497.2,444.3 496.2,443.8 494.4,444.0 493.3,444.7 491.3,447.1 490.8,448.1 490.7,448.9 491.0,449.4 492.1,449.7ZM478.0,449.7 480.6,449.4 480.9,449.2 480.9,448.8 480.0,448.0 478.9,447.3 476.6,446.5 475.4,446.6 474.7,446.9 472.9,448.0 471.8,449.1 471.9,449.4 472.8,449.6ZM529.7,333.6 528.4,332.5 526.7,331.9 525.1,332.0 523.4,332.8 522.3,334.1 521.7,335.8 521.9,337.5 522.6,339.2 523.9,340.3 525.6,340.9 527.3,340.8 529.0,340.0 530.0,338.7 530.6,337.0 530.5,335.3ZM518.6,339.2 518.0,338.7 517.0,338.3 516.2,338.5 515.5,339.0 515.1,339.8 514.9,340.7 515.2,341.9 515.7,342.6 517.0,343.1 517.8,342.9 518.5,342.4 518.9,341.6 519.1,340.7ZM593.5,374.1 594.8,375.1 601.1,378.3 607.1,382.5 614.9,388.4 615.0,390.8 615.5,393.0 616.0,393.9 619.9,398.5 620.5,399.5 620.8,400.7 621.9,409.8 623.7,414.1 625.7,417.4 626.1,417.4 627.2,416.1 628.1,414.4 628.3,413.6 626.1,405.5 626.0,404.5 626.4,403.9 628.1,402.8 630.1,402.1 630.9,402.1 631.8,402.6 637.5,406.7 638.5,407.1 639.7,407.2 643.4,406.9 647.5,405.9 647.6,405.6 647.3,405.0 644.9,402.1 639.2,394.5 636.6,389.1 635.9,388.5 634.7,388.0 648.7,384.4 652.9,384.6 655.3,384.5 655.3,366.5 653.6,366.4 651.3,366.6 645.4,367.7 637.1,370.3 620.3,373.7 616.2,373.3 602.5,371.3 595.3,369.4 592.5,369.6 590.7,370.1 590.3,370.3 591.0,371.5ZM557.5,405.5 557.7,406.4 558.7,408.2 560.2,409.9 562.1,411.2 564.4,412.1 567.1,412.6 569.0,412.4 569.5,411.9 569.7,411.2 569.6,409.4 569.0,407.6 568.4,406.8 565.7,404.2 562.9,402.3 559.9,401.3 558.4,401.4 558.0,401.9 557.7,402.6 557.5,403.5ZM652.7,450.8 655.3,450.1 655.3,436.5 654.3,436.1 652.8,435.8 647.2,435.8 646.3,436.1 645.4,437.5 643.6,443.6 643.1,446.0 643.1,448.0 643.7,449.4 645.2,450.3 647.4,450.8 650.0,450.9Z" fill="#e7c3b9" fill-rule="evenodd"/>
<path d="M569.6,335.9 569.0,334.9 568.1,334.5 567.3,334.9 566.8,335.6 566.4,337.0 566.5,338.1 566.9,339.4 567.7,340.1 568.6,340.1 569.5,339.1 569.9,337.4ZM525.7,365.4 526.1,366.7 527.0,368.4 528.0,370.0 528.4,370.3 530.9,370.2 533.5,369.4 534.8,368.0 540.9,360.3 541.6,358.1 541.8,356.0 540.2,354.8 538.8,354.3 538.3,354.3 535.5,358.2 535.0,358.6 533.3,358.8 529.3,358.6 528.1,359.2 526.7,360.1 525.8,361.0 525.6,362.4ZM394.1,396.5 396.4,401.4 396.2,401.9 394.9,403.7 388.9,409.1 388.1,410.8 387.2,414.1 387.2,414.8 387.9,415.9 389.9,417.8 391.1,418.4 400.5,421.1 402.3,421.5 406.3,420.4 410.7,418.8 412.6,417.9 413.0,417.4 413.1,415.3 412.7,412.1 412.1,409.8 411.0,408.1 409.3,406.2 407.4,404.2 404.9,402.1 403.8,400.7 403.5,398.3 403.1,392.3 401.9,389.4 400.5,387.3 400.1,387.3 398.9,387.7 397.2,389.0 395.4,392.2 394.2,394.8 393.9,395.7ZM565.2,417.6 564.1,417.2 563.4,417.4 562.8,417.9 560.9,416.9 556.7,413.1 552.5,408.6 551.7,408.1 550.7,407.9 549.7,407.9 547.7,408.3 545.2,409.5 543.4,411.5 542.7,413.1 542.4,414.0 542.4,417.0 543.0,421.3 543.8,424.7 545.1,427.9 546.2,429.9 547.5,431.5 549.9,433.4 551.7,434.1 553.4,434.0 554.3,433.8 556.1,432.8 557.6,431.5 558.1,430.8 559.6,427.2 560.2,426.5 560.9,426.0 564.4,424.6 565.0,424.1 566.5,421.6 566.9,419.8 566.7,419.1 565.9,418.5ZM514.1,429.5 514.8,434.1 515.5,435.8 516.0,436.5 517.3,437.5 519.0,438.1 520.8,438.2 522.7,437.8 524.8,436.9 527.6,435.2 531.7,431.5 535.2,428.9 536.8,427.5 538.8,425.0 539.8,423.3 540.1,421.6 539.8,419.7 538.9,418.0 538.3,417.4 537.5,417.0 531.7,416.5 526.1,414.8 523.8,415.0 521.5,415.7 519.3,416.8 517.5,418.1 515.9,419.6 514.7,421.4 514.2,422.4 513.9,425.1ZM586.2,328.4 588.9,330.4 589.4,330.2 591.7,328.4 592.4,327.6 588.9,327.4 585.5,327.6ZM616.2,330.4 618.1,334.9 618.9,335.9 619.5,336.2 620.1,336.4 622.1,336.4 624.4,335.9 625.4,335.4 626.2,334.7 626.9,333.8 628.1,331.0 628.5,329.6 628.4,328.4 627.9,327.6 626.7,327.1 624.7,326.8 620.0,326.8 618.0,327.1 616.7,327.6 616.1,328.2 616.0,329.2ZM599.6,336.5 600.2,337.1 600.9,336.5 604.4,330.3 605.2,328.5 605.4,327.6 604.5,327.3 600.2,327.1 595.9,327.3 595.0,327.6 595.2,328.5 596.0,330.3ZM586.3,340.8 585.7,339.8 585.0,339.6 583.9,339.6 583.1,340.2 582.9,340.8 582.9,341.3 583.2,341.8 583.7,342.2 584.6,342.4 585.3,342.3 585.8,342.0 586.3,341.3ZM578.4,426.9 580.2,430.1 581.1,430.8 581.7,430.7 583.5,429.4 585.0,427.6 586.2,425.4 586.3,424.7 586.2,424.1 585.7,423.6 583.9,422.6 581.9,422.0 580.4,422.1 579.1,422.7 577.8,424.1 577.8,425.1ZM585.9,443.7 586.8,445.0 588.2,445.8 589.4,445.8 591.7,445.1 592.9,444.2 593.6,442.9 593.9,441.3 593.6,439.9 592.6,438.7 591.0,437.8 589.5,437.5 588.7,437.7 587.1,438.8 585.3,440.8 585.1,442.0Z" fill="#40b377" fill-rule="evenodd" stroke="#d8684a" stroke-width="0.9" stroke-dasharray="1.3,1.3"/>
<path d="M487.0,336.9 486.7,335.7 486.3,335.2 486.0,335.2 485.4,336.2 485.1,338.5 485.4,340.9 485.8,341.6 486.1,341.9 486.7,341.4 487.0,340.2 487.2,338.5ZM457.1,358.9 456.5,358.5 455.4,358.1 453.2,358.0 451.4,358.6 450.7,359.3 450.6,360.1 451.1,360.8 452.0,361.3 453.7,361.7 455.0,361.7 456.5,361.2 457.3,360.5 457.5,359.8ZM377.9,363.4 377.5,362.9 377.1,363.3 377.0,364.2 377.4,364.8 377.9,364.5ZM444.4,371.6 449.7,381.6 450.6,383.7 451.1,385.8 451.4,388.3 451.5,390.4 449.7,395.4 449.3,396.5 449.4,397.1 449.9,397.2 450.8,397.0 454.9,395.9 456.3,395.7 497.0,395.7 500.6,395.4 501.7,395.0 503.6,395.7 508.3,396.6 513.4,399.0 516.7,400.2 519.2,400.8 520.1,400.7 520.9,400.0 524.3,394.7 525.0,394.0 525.7,393.9 526.5,394.2 529.2,395.5 530.0,395.7 534.7,394.3 536.8,394.0 537.5,394.3 539.4,395.5 544.7,399.9 545.9,400.7 547.9,400.3 549.0,399.5 549.2,399.0 548.8,397.2 547.3,393.2 546.8,392.3 545.4,390.6 543.5,388.7 541.8,387.3 539.8,386.4 536.0,385.2 526.7,383.2 518.4,382.3 513.7,380.7 512.5,380.5 511.6,380.6 510.7,381.2 505.6,386.8 505.8,385.3 505.3,383.5 501.5,375.2 500.9,374.4 499.2,373.2 496.9,372.2 495.0,371.5 493.0,371.5 488.4,372.0 482.6,371.3 480.7,370.7 475.1,367.7 469.2,365.1 466.2,364.4 462.5,364.1 461.1,364.3 458.1,365.8 451.5,367.0 443.9,369.3 443.2,369.6 443.0,369.9 443.1,370.3ZM441.4,411.6 444.6,423.4 445.6,425.8 447.2,427.4 450.6,429.6 451.5,429.8 452.4,429.8 458.1,427.9 459.7,428.0 463.3,428.7 468.9,429.1 471.6,429.1 475.8,428.8 480.1,428.2 484.4,427.0 487.4,425.9 488.4,425.3 489.2,424.6 490.8,422.4 492.6,419.1 493.3,415.0 493.4,410.7 492.3,406.4 490.1,400.7 489.1,399.1 488.4,398.5 487.5,398.1 481.2,397.2 473.7,396.9 464.7,397.4 452.3,398.4 450.2,398.9 449.4,399.3 448.7,399.9 441.7,409.9 441.4,410.7ZM361.0,446.2 361.3,448.1 361.7,449.4 362.4,450.1 363.5,450.4 364.7,450.4 366.0,450.2 367.9,449.4 368.5,448.9 368.8,448.2 369.3,445.7 370.6,443.5 373.0,440.8 376.8,438.0 377.1,437.5 377.0,437.0 376.7,436.4 375.4,435.5 373.8,434.9 372.9,434.8 370.7,435.0 363.1,436.7 362.3,437.3 361.7,438.2 361.3,439.7 361.1,441.7ZM486.2,331.6 487.6,333.5 488.8,334.3 490.1,334.7 491.6,334.5 493.2,333.9 494.5,332.8 496.1,330.1 496.3,329.0 496.3,328.2 495.9,327.6 494.7,327.2 492.9,327.0 488.8,327.0 485.8,327.6 485.3,328.1 485.2,328.9 485.4,329.8ZM498.3,350.9 497.6,349.3 497.2,349.1 496.9,349.3 496.1,350.9 495.9,354.4 496.3,357.2 496.7,358.2 497.2,358.6 497.9,357.9 498.4,356.2 498.6,353.8ZM605.4,379.0 609.4,382.5 612.0,384.4 614.0,384.9 617.9,385.4 619.5,385.3 623.8,383.7 628.8,384.4 635.4,384.7 642.1,383.0 648.7,382.0 652.9,381.1 655.3,380.3 655.3,368.3 652.9,368.5 643.0,370.2 628.8,373.7 618.7,374.4 608.7,374.4 605.2,375.1 603.2,375.8 602.8,376.1 603.0,376.5ZM655.3,450.1 655.3,439.6 653.7,440.2 652.5,440.9 650.5,442.5 648.6,444.8 647.8,446.1 647.1,447.5 646.8,448.6 647.0,449.4 647.9,450.0 649.6,450.3 653.6,450.4Z" fill="#c29086" fill-rule="evenodd" stroke="#e8584c" stroke-width="0.9"/>
<path d="M390.6,413.5 391.6,415.7 393.1,417.4 395.0,418.3 398.5,418.6 400.8,418.6 403.2,418.3 406.4,417.4 409.1,415.9 410.3,414.7 410.6,414.1 410.6,413.4 409.9,411.9 408.7,410.4 407.2,409.1 404.4,407.2 402.3,406.4 401.2,406.3 398.8,406.4 396.5,407.0 394.5,407.9 392.4,409.1 390.8,410.6 390.5,411.4 390.4,412.4ZM545.2,417.6 547.1,426.5 548.5,429.2 549.7,430.7 551.0,431.5 552.4,431.5 553.9,430.9 555.1,429.8 556.0,428.3 556.5,426.2 556.7,424.1 556.4,421.9 555.8,419.6 554.0,414.1 553.1,412.1 551.9,411.0 550.5,410.5 549.0,410.5 547.7,411.1 546.4,412.3 545.4,413.9 545.0,415.7ZM517.1,429.2 517.5,433.2 518.3,434.7 518.9,435.2 520.1,435.8 521.6,435.7 522.4,435.4 524.1,434.4 528.4,431.3 533.3,426.6 534.6,424.9 535.0,424.1 535.3,422.5 535.0,421.0 534.2,419.8 533.5,419.3 531.7,418.6 529.5,418.2 526.2,418.3 522.7,419.3 521.7,419.8 519.9,421.1 518.5,422.8 517.9,423.8 517.2,426.1Z" fill="#209a5b" fill-rule="evenodd" stroke="#52ac74" stroke-width="0.4"/>
<path d="M489.5,331.3 490.3,332.0 491.0,332.3 491.7,332.0 492.5,331.3 494.1,329.1 494.5,328.2 494.5,327.6 493.8,327.2 491.0,327.0 488.2,327.2 487.5,327.6 487.5,328.2 487.9,329.1ZM633.2,380.0 634.1,380.6 635.1,381.0 637.1,381.1 643.7,379.4 649.5,379.0 650.5,378.7 652.1,377.8 653.3,376.5 653.8,375.4 653.6,374.8 652.7,373.8 651.3,372.9 650.5,372.7 647.3,372.9 641.4,374.2 636.1,375.7 632.5,377.3 632.1,377.7 632.0,378.2 632.1,378.7ZM535.4,388.2 534.7,387.6 533.8,387.3 532.9,387.4 532.0,387.8 531.4,388.5 531.1,389.4 531.1,390.3 531.6,391.2 532.2,391.7 533.2,392.1 534.1,392.0 535.0,391.6 535.5,390.9 535.9,390.0 535.8,389.1ZM521.7,386.3 519.9,384.8 517.4,384.0 515.0,384.2 512.7,385.2 512.1,385.7 511.2,386.9 510.3,389.2 510.3,390.7 511.2,392.9 512.1,394.2 512.7,394.6 514.2,395.4 515.9,395.8 518.3,395.7 520.6,394.6 521.2,394.2 522.2,392.9 523.0,390.7 523.1,389.9 522.8,388.4ZM451.1,379.6 452.8,383.6 453.9,387.1 453.8,389.7 453.0,395.4 453.8,399.8 453.7,400.4 453.4,401.1 450.3,405.2 448.3,408.5 447.0,411.0 446.8,411.9 446.9,412.8 447.5,415.2 448.6,417.5 449.7,419.2 452.7,422.3 455.5,424.4 459.3,426.4 461.5,427.2 462.7,427.4 470.0,427.5 476.1,427.0 478.3,426.3 481.4,425.0 485.5,422.7 487.9,419.6 489.2,417.1 489.6,416.0 489.9,413.1 489.8,407.6 489.6,406.4 489.2,405.4 487.8,403.2 483.5,397.4 483.2,396.7 483.2,396.1 483.7,395.6 485.8,394.2 488.3,393.1 489.3,392.8 491.4,393.1 496.2,394.5 499.2,393.9 501.7,392.8 502.2,392.2 502.9,390.4 503.3,387.8 502.5,386.2 500.0,382.8 498.1,378.4 497.6,377.7 495.7,376.5 491.8,374.7 489.9,374.2 484.2,373.7 480.1,374.3 478.3,374.4 476.7,373.5 473.3,371.1 470.0,369.5 468.3,369.1 464.1,369.6 457.8,370.8 453.9,372.0 451.0,373.5 449.3,374.8 448.9,375.4 448.9,376.0 449.3,376.8ZM477.2,395.0 476.7,395.6 476.2,396.0 475.2,396.3 474.2,396.4 472.6,395.8 472.0,395.2 471.8,394.5 472.0,393.7 472.6,393.1 473.8,392.6 474.9,392.6 475.9,392.8 476.7,393.3 477.3,394.2ZM367.5,440.6 366.7,439.7 365.3,439.2 364.3,439.5 363.4,440.2 362.7,441.9 362.6,443.2 363.2,445.0 363.9,445.8 365.0,446.3 365.7,446.3 366.7,445.8 367.3,445.3 367.9,444.1 368.1,442.8 368.0,441.9ZM655.3,449.9 655.3,443.6 654.3,444.3 652.5,446.0 651.2,447.5 650.4,449.0 650.5,449.4 652.1,450.0 653.3,450.1Z" fill="#9c695e" fill-rule="evenodd" stroke="#dcc8c0" stroke-width="0.45"/>
<path d="M393.7,413.6 394.3,414.9 395.1,415.5 397.1,416.0 399.7,415.9 403.0,415.4 404.7,414.8 406.2,413.4 406.5,412.4 406.1,411.4 403.9,409.9 402.3,409.3 399.7,409.2 397.2,409.8 395.9,410.6 394.2,412.1 393.9,412.6ZM548.7,417.0 548.8,420.8 549.8,425.1 550.1,425.8 550.9,426.7 551.8,426.9 552.2,426.8 552.5,426.5 553.0,425.1 553.4,423.0 553.4,420.8 553.0,418.3 552.4,415.8 551.7,414.1 551.3,413.7 550.4,413.7 549.5,414.3 549.0,415.4ZM521.2,429.8 521.4,431.9 521.7,432.5 522.0,432.8 522.5,432.8 523.7,432.3 525.6,431.0 527.5,428.9 528.8,426.7 529.4,424.3 529.3,423.2 529.0,422.8 527.9,422.3 526.5,422.2 525.1,422.8 523.5,424.1 522.1,425.7 521.7,426.5 521.4,427.5Z" fill="#14743f" fill-rule="evenodd" stroke="#3c9460" stroke-width="0.4"/>
<path d="M482.9,379.2 483.6,381.9 484.8,384.6 486.4,386.8 488.5,388.9 490.0,389.5 490.7,389.3 492.2,388.4 493.6,386.9 494.9,384.2 495.3,382.1 495.2,381.1 495.0,380.1 494.5,379.3 492.9,377.7 490.0,376.1 487.6,375.6 485.1,375.5 483.4,376.1 483.0,376.6 482.8,377.4ZM453.7,386.3 454.9,389.2 455.7,390.4 457.6,392.2 459.5,393.0 460.3,393.0 462.0,391.9 467.0,386.2 468.2,383.9 468.5,382.8 468.5,381.5 467.8,378.7 466.6,376.1 465.9,375.1 464.0,373.6 461.7,372.7 460.6,372.5 459.5,372.5 457.0,373.0 454.6,374.2 453.7,375.1 453.0,376.3 452.8,377.9 452.9,382.0ZM501.4,386.4 500.8,385.5 499.7,384.9 498.5,385.5 497.7,386.8 497.4,388.7 497.7,390.7 498.3,391.7 499.4,392.5 499.9,392.5 500.8,392.0 501.6,390.7 501.9,388.7ZM519.7,387.8 518.8,386.5 517.8,386.0 516.8,385.7 515.3,385.8 513.9,386.5 512.9,387.8 512.4,389.4 512.5,391.0 513.2,392.6 514.3,393.6 515.8,394.2 517.3,394.1 518.8,393.3 519.7,392.1 520.3,390.5 520.3,389.4ZM450.9,416.5 452.1,418.2 453.7,419.6 458.6,422.8 462.1,424.5 463.3,424.8 465.5,425.1 473.4,424.7 475.6,424.4 477.7,423.7 480.8,422.1 482.5,420.8 483.9,419.3 485.0,417.6 486.1,414.7 486.8,411.2 486.7,409.1 486.4,408.1 485.5,406.3 483.4,404.0 481.3,402.7 477.7,401.2 474.8,400.7 472.4,401.1 470.8,401.9 468.4,404.4 467.7,405.0 466.9,405.2 466.1,405.1 465.4,404.5 463.2,402.4 462.4,401.9 460.1,401.2 458.5,401.2 456.9,401.8 454.6,403.6 452.5,406.1 450.5,409.3 449.7,411.4 449.7,412.5 450.1,414.6ZM365.9,442.2 365.6,441.8 365.0,441.6 364.4,441.8 364.0,442.2 363.8,443.0 363.8,443.7 364.1,444.4 364.5,444.8 365.3,444.8 365.9,444.3 366.2,443.2Z" fill="#6d4338" fill-rule="evenodd" stroke="#d0bab2" stroke-width="0.45"/>
</g>
<line x1="413.0" y1="444.1" x2="413.0" y2="328.8" stroke="#2a2a2a" stroke-width="1.05" stroke-dasharray="1.1,4.06"/>
<line x1="465.0" y1="444.1" x2="465.0" y2="328.8" stroke="#2a2a2a" stroke-width="1.05" stroke-dasharray="1.1,4.06"/>
<line x1="517.0" y1="444.1" x2="517.0" y2="328.8" stroke="#2a2a2a" stroke-width="1.05" stroke-dasharray="1.1,4.06"/>
<line x1="569.0" y1="444.1" x2="569.0" y2="328.8" stroke="#2a2a2a" stroke-width="1.05" stroke-dasharray="1.1,4.06"/>
<line x1="621.0" y1="444.1" x2="621.0" y2="328.8" stroke="#2a2a2a" stroke-width="1.05" stroke-dasharray="1.1,4.06"/>
<line x1="364.0" y1="340.7" x2="673.0" y2="340.7" stroke="#b8b4b8" stroke-width="0.85" stroke-dasharray="1.3,3.86"/>
<line x1="364.0" y1="364.6" x2="673.0" y2="364.6" stroke="#b8b4b8" stroke-width="0.85" stroke-dasharray="1.3,3.86"/>
<line x1="361.0" y1="388.5" x2="673.0" y2="388.5" stroke="#5cc85c" stroke-width="1.35" stroke-dasharray="2.2,1.4"/>
<line x1="364.0" y1="412.4" x2="673.0" y2="412.4" stroke="#b8b4b8" stroke-width="0.85" stroke-dasharray="1.3,3.86"/>
<line x1="364.0" y1="436.3" x2="673.0" y2="436.3" stroke="#b8b4b8" stroke-width="0.85" stroke-dasharray="1.3,3.86"/>
<path d="M369.1,327.6 369.7,329.7 370.5,331.1 370.7,333.5 373.0,335.9 373.5,338.3 373.7,341.9 375.7,345.5 376.9,350.3 377.8,352.4 380.4,354.3 383.0,357.4 384.1,358.6 383.7,360.8 385.3,363.2 387.0,363.4 390.5,362.0 393.9,361.5 396.5,360.1 397.7,360.3 397.7,363.4 397.1,365.8 395.7,369.4 393.9,373.0 392.2,377.7 389.3,382.3 387.5,383.7 385.3,386.1 382.7,389.7 380.9,392.8 379.9,394.0 378.5,396.1 377.6,398.3 376.8,400.7 376.3,403.3 377.3,405.0 377.3,407.6 377.6,410.0 378.9,413.1 379.2,415.3 379.2,419.6 379.7,423.2 379.4,425.1 378.0,427.5 374.9,429.8 373.1,431.3 371.9,433.4 369.5,435.8 369.1,437.7 370.2,439.9 370.5,441.6 370.5,444.7 370.4,446.3 369.5,449.4M373.1,327.6 373.7,328.8 374.9,331.1 375.9,332.8 376.8,335.9 376.9,337.6 378.0,339.5 379.5,341.7 380.8,344.3 382.1,346.7 383.0,349.1 383.2,352.2 383.9,355.5 384.4,358.1 387.0,357.9 389.6,356.5 392.2,355.0 394.8,353.1 397.4,351.9 399.5,351.0 399.7,349.5 401.7,348.6 403.5,347.9 404.9,346.4 406.6,345.7 407.8,343.3 409.2,343.1 409.0,340.2 410.6,339.7 411.3,337.4 412.7,334.7 410.7,332.1 408.1,331.1 407.1,329.7 406.6,327.6M396.7,327.6 397.1,329.2 397.9,330.2 398.4,330.9 400.2,330.7 402.6,330.9 403.8,329.2 404.9,328.0 405.7,327.3M397.2,327.3 398.3,328.8 398.4,327.3M415.6,327.6 418.2,328.3 420.8,328.2 423.9,327.6 424.6,329.0 425.8,331.1 427.2,332.1 428.1,333.3 430.0,334.0 430.9,333.5 429.1,335.2 428.6,335.4 429.6,336.9 431.0,338.5 432.1,339.0 433.8,338.1 434.7,335.4 435.2,337.1 435.0,338.3 435.2,343.1 435.5,346.7 436.9,351.7 438.7,357.7 440.4,361.7 441.1,364.6 442.3,368.2 443.3,369.1 444.5,367.2 445.9,366.3 446.5,363.9 447.5,363.9 447.3,361.0 448.2,357.2 447.8,352.6 449.2,350.7 449.7,349.8 451.7,348.8 453.4,346.2 456.0,342.9 457.7,341.2 459.5,340.0 459.8,337.1 461.5,336.6 463.3,336.4 465.0,335.9 466.0,334.7 467.3,334.5 468.1,335.2 468.5,337.4 469.2,339.3 470.0,340.5 471.4,343.1 472.5,345.5 472.8,349.1 472.3,350.3 474.2,351.0 475.9,349.5 476.8,347.9 477.5,348.3 478.2,349.5 478.5,352.6 479.0,355.0 479.7,358.6 480.1,362.2 479.7,364.6 479.4,367.0 479.4,369.6 480.3,368.9 481.1,371.1 482.3,373.0 482.9,375.4 483.5,378.5 484.6,381.3 485.5,382.5 486.7,383.7 488.2,385.2 489.1,385.4 489.8,385.2 489.4,383.0 488.4,381.8 488.2,379.9 488.2,377.7 487.2,375.1 486.1,373.7 485.1,372.0 483.9,371.8 483.0,370.6 482.7,368.2 482.2,366.3 481.1,366.3 480.9,363.4 481.6,361.0 482.2,358.6 482.3,356.7 483.4,356.2 484.1,357.0 483.9,358.4 485.5,358.4 486.3,359.3 487.4,360.5 487.7,362.2 488.6,363.2 489.8,363.4 490.8,364.4 490.7,367.7 491.7,367.0 493.4,365.6 494.1,363.6 495.0,363.6 496.2,362.9 497.9,361.3 498.5,358.6 498.6,356.2 498.1,353.8 497.6,351.9 496.5,350.0 495.3,348.6 493.9,346.4 493.4,345.2 492.2,343.3 492.6,341.2 493.8,340.0 494.5,338.3 496.2,337.1 497.1,336.6 498.8,337.1 499.3,338.5 500.0,340.0 500.5,339.7 500.4,337.8 501.4,337.1 503.1,336.4 505.2,335.7 506.9,335.2 508.3,334.2 510.9,333.5 512.7,331.6 513.9,329.9 515.1,327.6M497.4,342.6 498.8,345.0 500.5,343.6 501.4,341.4 500.7,340.5 499.0,340.7 497.4,342.6M518.7,327.6 517.5,331.1 517.2,333.1 518.4,335.9 519.4,333.5 520.1,329.9 520.3,327.6M447.5,365.3 448.0,365.1 449.7,368.2 450.8,370.6 450.6,373.0 448.7,374.4 447.7,373.9 447.3,371.8 447.1,368.9 447.5,365.3M474.2,375.4 475.4,375.8 478.0,376.1 479.2,377.7 480.6,379.9 482.3,381.8 483.7,383.2 484.9,384.4 486.3,386.1 488.2,387.3 488.9,389.2 488.9,390.9 490.1,392.8 491.0,394.0 492.7,395.7 492.6,398.5 492.6,402.4 491.5,402.4 490.3,401.9 489.3,400.2 487.5,398.5 486.3,397.8 484.9,395.2 483.9,393.3 483.0,390.9 482.0,388.7 480.8,387.5 480.1,384.4 478.3,382.8 477.5,380.9 475.9,379.4 474.5,377.0 474.2,375.4M491.3,404.8 492.7,402.6 493.9,402.8 496.7,403.6 497.4,404.8 500.4,405.0 501.4,403.8 504.2,405.0 504.5,406.4 506.6,406.9 507.5,407.6 507.5,409.3 504.9,408.3 501.4,408.1 497.9,406.9 496.2,407.1 493.6,406.2 491.3,404.8M497.9,384.7 499.0,383.7 500.2,384.4 501.7,385.2 502.1,382.8 504.9,380.9 506.4,377.7 508.3,376.6 509.4,375.1 510.4,373.2 511.3,371.8 512.3,372.7 513.0,374.4 515.6,376.1 513.9,377.5 512.8,378.5 513.4,380.9 513.2,383.7 515.3,386.1 513.4,386.6 512.7,388.5 512.7,390.4 511.1,392.1 510.6,394.5 510.1,397.1 507.8,398.3 507.5,396.9 504.9,396.1 502.8,396.9 500.0,395.4 499.7,392.1 498.3,389.7 497.9,387.8 497.9,384.7M518.4,385.4 520.5,386.1 522.2,386.3 524.5,386.1 526.0,384.7 525.3,386.3 523.9,387.5 522.2,387.3 519.6,387.3 517.3,387.8 517.0,389.7 518.2,391.6 519.6,390.7 521.9,390.7 522.9,390.7 521.0,392.3 519.9,393.0 521.0,395.7 521.2,396.9 522.2,398.1 521.5,399.0 522.2,401.2 520.5,400.0 519.6,399.7 518.7,397.8 518.6,395.0 517.5,395.4 517.7,398.1 517.5,401.6 516.1,401.6 516.1,398.1 516.1,396.9 514.9,395.2 515.8,391.6 516.5,389.0 516.7,386.6 518.4,385.4M536.1,390.4 538.3,389.5 540.4,390.2 541.4,390.4 541.8,393.3 542.5,395.7 543.9,396.4 545.6,393.8 547.9,392.1 549.9,393.3 553.4,394.7 556.0,396.1 558.6,397.6 560.3,399.0 561.7,401.4 563.8,402.8 565.2,404.5 564.1,405.2 565.2,407.4 566.4,410.0 568.1,411.7 570.4,412.9 569.0,413.8 566.9,412.9 564.7,412.4 562.9,409.8 561.2,407.4 559.5,406.7 557.7,408.1 557.4,410.0 556.0,410.5 553.4,410.2 551.3,407.9 549.6,408.3 548.2,408.3 547.9,405.9 549.6,404.8 548.2,401.6 545.6,399.7 543.3,399.0 540.9,397.6 539.2,398.1 539.2,396.4 537.8,395.2 540.4,394.2 538.7,393.8 536.9,392.1 536.1,390.4M505.7,449.4 505.9,445.9 506.3,442.8 506.9,440.6 508.3,439.9 511.3,437.7 513.5,437.0 515.3,436.3 517.0,436.1 519.6,433.9 521.0,431.5 520.8,429.1 522.2,427.7 523.2,429.8 523.6,427.5 524.8,426.7 525.7,424.8 527.4,422.4 529.1,421.7 530.9,423.9 531.6,424.4 533.5,424.1 533.6,422.0 534.7,419.6 535.7,418.1 537.8,417.7 538.8,415.7 540.4,416.7 543.0,417.7 545.6,417.2 546.3,417.9 544.7,420.8 543.9,423.9 545.6,426.3 548.2,428.4 550.5,430.6 552.5,430.6 553.7,426.7 554.4,422.0 554.6,418.4 555.5,414.8 556.2,414.1 557.2,417.2 558.3,422.7 560.7,424.4 561.4,427.9 562.1,431.5 562.9,433.9 564.7,434.9 566.4,436.8 567.6,438.7 568.7,441.8 570.4,443.0 570.6,444.9 572.1,445.9 573.0,447.8 573.9,449.4M518.0,344.3 520.5,344.3 521.0,347.9 519.8,350.7 519.9,353.8 521.0,355.0 522.2,355.5 524.1,357.4 523.8,358.4 522.2,356.2 520.5,356.0 519.3,356.0 518.0,355.3 518.6,353.6 517.3,353.1 516.7,349.8 517.7,348.8 517.7,346.7 518.0,344.3M526.5,365.1 527.9,368.2 528.3,371.3 527.6,373.2 526.5,372.5 526.4,375.1 524.3,373.7 523.9,371.1 522.5,370.6 520.8,371.8 520.6,369.6 522.2,368.2 523.6,368.9 525.1,367.9 526.5,367.0 526.5,365.1M524.5,358.6 526.2,358.9 526.9,361.7 525.7,363.9 525.1,361.7 524.5,358.6M520.5,360.3 522.4,361.0 522.9,363.4 522.2,366.8 521.3,365.6 520.5,363.4 520.5,360.3M512.1,368.4 514.4,365.8 516.1,362.7 515.8,361.5 514.1,364.6 512.1,368.4M518.7,356.5 519.6,358.1 518.9,359.1 517.9,356.7 518.7,356.5M507.5,408.1 509.4,408.3 508.7,409.5 507.5,408.1M510.1,408.6 511.3,408.6 510.9,409.8 510.1,409.5 510.1,408.6M511.5,408.8 513.5,408.1 515.4,408.6 514.4,409.5 511.8,410.0 511.5,408.8M516.8,408.8 518.7,408.6 522.0,408.1 521.9,409.1 519.6,409.8 517.0,409.5 516.8,408.8M515.3,411.2 517.0,411.0 518.4,412.4 517.0,413.1 515.3,411.7 515.3,411.2M523.1,413.1 524.8,410.7 526.5,409.3 529.1,408.6 528.3,410.0 525.7,411.9 523.9,413.1 523.1,413.1M530.2,383.7 530.9,384.9 532.1,384.9 531.2,386.6 532.3,387.8 530.9,387.8 530.9,390.4 530.3,388.5 530.0,386.1 530.2,383.7M530.9,395.7 533.5,395.2 535.7,396.6 533.5,396.6 530.9,396.6 530.9,395.7M527.4,396.1 529.1,395.9 529.5,397.1 527.9,397.6 527.4,396.1M566.1,401.9 568.1,401.6 569.9,401.6 571.6,400.2 573.0,398.5 572.8,400.4 570.7,402.8 568.1,403.3 566.1,401.9M570.4,394.7 572.5,396.1 574.2,399.3 573.7,399.7 571.9,396.6 570.4,394.7M577.0,401.6 578.5,402.8 579.2,404.8 578.0,404.3 577.0,401.6M580.3,404.5 582.0,405.9 581.5,406.2 580.3,404.5M583.7,406.7 586.0,408.6 585.5,408.8 583.7,406.7M585.6,410.7 587.7,411.9 586.9,412.2 585.6,410.7M587.5,408.6 588.6,411.2 587.9,410.5 587.5,408.6M588.6,413.1 590.3,414.3 589.5,414.1 588.6,413.1M597.8,424.4 598.8,425.8 598.1,425.8 597.8,424.4M599.0,426.7 599.9,427.9 599.2,427.9 599.0,426.7M600.5,430.6 601.1,431.0 600.5,431.0 600.5,430.6M602.3,433.2 602.5,433.9 602.1,433.7 602.3,433.2M593.3,436.5 595.9,438.7 598.5,441.8 597.6,441.8 595.0,439.6 593.3,436.5M616.3,430.3 618.4,430.1 618.6,431.8 616.5,431.8 616.3,430.3M618.7,428.4 620.8,427.5 620.1,428.7 618.7,428.4M633.7,420.8 634.5,421.0 634.0,421.5 633.7,420.8M634.9,421.7 635.7,422.0 635.2,422.2 634.9,421.7M662.6,341.4 664.3,340.9 664.5,342.1 663.3,343.3 662.6,341.4M661.4,338.5 662.4,338.8 661.9,339.3 661.4,338.5M658.8,337.1 659.7,337.4 659.1,337.6 658.8,337.1M656.2,335.7 656.7,335.7 656.5,336.2 656.2,335.7M363.9,389.0 365.3,388.0 367.9,387.8 368.3,389.7 367.8,391.6 366.7,393.8 365.9,395.2 364.5,394.7 364.1,392.1 363.9,389.0M359.8,396.6 360.5,399.3 360.3,402.4 361.9,405.7 362.7,409.1 362.0,408.8 361.0,405.9 359.6,402.8 359.6,399.3 359.8,396.6M367.9,411.4 368.8,413.6 368.5,416.7 369.3,419.6 370.0,422.7 369.3,422.4 368.8,420.3 368.1,417.2 368.1,414.3 367.8,411.9 367.9,411.4M394.5,417.2 396.0,420.8 396.5,425.1 395.3,425.5 395.0,428.7 394.6,431.5 393.6,436.3 392.5,441.1 391.5,444.9 390.6,448.0 389.1,448.7 387.3,449.7 385.3,448.5 384.7,445.9 384.1,441.8 384.9,438.7 386.0,436.3 385.8,432.7 385.3,429.8 386.1,427.2 387.9,426.5 389.6,425.5 391.3,423.9 392.2,421.0 393.6,418.9 394.5,417.2M404.9,438.7 405.7,438.9 405.2,439.4 404.9,438.7M408.5,436.5 409.2,436.8 408.8,437.5 408.5,436.5M401.6,358.4 403.3,358.4 402.6,359.1 401.6,358.4M477.5,385.2 478.7,386.8 478.2,386.3 477.5,385.2M480.1,390.9 481.1,392.8 480.4,392.3 480.1,390.9M491.5,392.6 493.8,394.5 492.7,395.7 491.5,392.6" fill="none" stroke="#a428c6" stroke-width="1.3" stroke-linejoin="round" stroke-linecap="round"/>
<circle cx="465.0" cy="388.5" r="6.6" fill="#000"/>
</g>
<rect x="361.0" y="328.8" width="312.0" height="119.5" fill="none" stroke="#000" stroke-width="1.5"/>
<text x="361.0" y="456.9" font-size="7.3" text-anchor="middle" fill="#1a1a1a" stroke="#1a1a1a" stroke-width="0.3" textLength="12.5" lengthAdjust="spacingAndGlyphs">30E</text>
<text x="413.0" y="456.9" font-size="7.3" text-anchor="middle" fill="#1a1a1a" stroke="#1a1a1a" stroke-width="0.3" textLength="12.5" lengthAdjust="spacingAndGlyphs">60E</text>
<text x="465.0" y="456.9" font-size="7.3" text-anchor="middle" fill="#1a1a1a" stroke="#1a1a1a" stroke-width="0.3" textLength="12.5" lengthAdjust="spacingAndGlyphs">90E</text>
<text x="517.0" y="456.9" font-size="7.3" text-anchor="middle" fill="#1a1a1a" stroke="#1a1a1a" stroke-width="0.3" textLength="16.6" lengthAdjust="spacingAndGlyphs">120E</text>
<text x="569.0" y="456.9" font-size="7.3" text-anchor="middle" fill="#1a1a1a" stroke="#1a1a1a" stroke-width="0.3" textLength="16.6" lengthAdjust="spacingAndGlyphs">150E</text>
<text x="621.0" y="456.9" font-size="7.3" text-anchor="middle" fill="#1a1a1a" stroke="#1a1a1a" stroke-width="0.3" textLength="12.5" lengthAdjust="spacingAndGlyphs">180</text>
<text x="673.0" y="456.9" font-size="7.3" text-anchor="middle" fill="#1a1a1a" stroke="#1a1a1a" stroke-width="0.3" textLength="16.6" lengthAdjust="spacingAndGlyphs">150W</text>
<line x1="361.0" y1="448.2" x2="361.0" y2="450.6" stroke="#000" stroke-width="1"/>
<line x1="413.0" y1="448.2" x2="413.0" y2="450.6" stroke="#000" stroke-width="1"/>
<line x1="465.0" y1="448.2" x2="465.0" y2="450.6" stroke="#000" stroke-width="1"/>
<line x1="517.0" y1="448.2" x2="517.0" y2="450.6" stroke="#000" stroke-width="1"/>
<line x1="569.0" y1="448.2" x2="569.0" y2="450.6" stroke="#000" stroke-width="1"/>
<line x1="621.0" y1="448.2" x2="621.0" y2="450.6" stroke="#000" stroke-width="1"/>
<line x1="673.0" y1="448.2" x2="673.0" y2="450.6" stroke="#000" stroke-width="1"/>
<line x1="358.5" y1="340.7" x2="361.0" y2="340.7" stroke="#000" stroke-width="1"/>
<text x="356.4" y="343.4" font-size="7.3" text-anchor="end" fill="#1a1a1a" stroke="#1a1a1a" stroke-width="0.3" textLength="12.5" lengthAdjust="spacingAndGlyphs">20N</text>
<line x1="358.5" y1="364.6" x2="361.0" y2="364.6" stroke="#000" stroke-width="1"/>
<text x="356.4" y="367.3" font-size="7.3" text-anchor="end" fill="#1a1a1a" stroke="#1a1a1a" stroke-width="0.3" textLength="12.5" lengthAdjust="spacingAndGlyphs">10N</text>
<line x1="358.5" y1="388.5" x2="361.0" y2="388.5" stroke="#000" stroke-width="1"/>
<text x="356.4" y="391.2" font-size="7.3" text-anchor="end" fill="#1a1a1a" stroke="#1a1a1a" stroke-width="0.3" textLength="8.3" lengthAdjust="spacingAndGlyphs">EQ</text>
<line x1="358.5" y1="412.4" x2="361.0" y2="412.4" stroke="#000" stroke-width="1"/>
<text x="356.4" y="415.1" font-size="7.3" text-anchor="end" fill="#1a1a1a" stroke="#1a1a1a" stroke-width="0.3" textLength="12.5" lengthAdjust="spacingAndGlyphs">10S</text>
<line x1="358.5" y1="436.3" x2="361.0" y2="436.3" stroke="#000" stroke-width="1"/>
<text x="356.4" y="439.0" font-size="7.3" text-anchor="end" fill="#1a1a1a" stroke="#1a1a1a" stroke-width="0.3" textLength="12.5" lengthAdjust="spacingAndGlyphs">20S</text>
<text x="359.0" y="323.9" font-size="14.8" font-weight="bold" fill="#000">(e)</text>
<text x="382.7" y="324.1" font-size="10.0" letter-spacing="0.15" fill="#1c1c1c" stroke="#1c1c1c" stroke-width="0.15">M−TDK</text>
<polygon points="258.4,470.9 258.4,477.8 231.9,474.4" fill="#14743f" stroke="#000" stroke-width="0.9"/>
<rect x="258.4" y="470.9" width="25.9" height="6.9" fill="#209a5b" stroke="#000" stroke-width="1.2"/>
<rect x="284.3" y="470.9" width="25.9" height="6.9" fill="#40b377" stroke="#000" stroke-width="1.2"/>
<rect x="310.1" y="470.9" width="25.9" height="6.9" fill="#a7d9b2" stroke="#000" stroke-width="1.2"/>
<rect x="336.0" y="470.9" width="25.9" height="6.9" fill="#fff" stroke="#000" stroke-width="1.2"/>
<rect x="361.9" y="470.9" width="25.9" height="6.9" fill="#e7c3b9" stroke="#000" stroke-width="1.2"/>
<rect x="387.8" y="470.9" width="25.9" height="6.9" fill="#c29086" stroke="#000" stroke-width="1.2"/>
<rect x="413.6" y="470.9" width="25.9" height="6.9" fill="#9c695e" stroke="#000" stroke-width="1.2"/>
<polygon points="439.5,470.9 439.5,477.8 466.0,474.4" fill="#6d4338" stroke="#000" stroke-width="0.9"/>
<text x="256.9" y="487.1" font-size="8.6" text-anchor="middle" fill="#111" stroke="#111" stroke-width="0.45">−0.4</text>
<text x="282.8" y="487.1" font-size="8.6" text-anchor="middle" fill="#111" stroke="#111" stroke-width="0.45">−0.3</text>
<text x="308.6" y="487.1" font-size="8.6" text-anchor="middle" fill="#111" stroke="#111" stroke-width="0.45">−0.2</text>
<text x="334.5" y="487.1" font-size="8.6" text-anchor="middle" fill="#111" stroke="#111" stroke-width="0.45">−0.1</text>
<text x="361.9" y="487.1" font-size="8.6" text-anchor="middle" fill="#111" stroke="#111" stroke-width="0.45">0.1</text>
<text x="387.8" y="487.1" font-size="8.6" text-anchor="middle" fill="#111" stroke="#111" stroke-width="0.45">0.2</text>
<text x="413.6" y="487.1" font-size="8.6" text-anchor="middle" fill="#111" stroke="#111" stroke-width="0.45">0.3</text>
<text x="439.5" y="487.1" font-size="8.6" text-anchor="middle" fill="#111" stroke="#111" stroke-width="0.45">0.4</text>
</svg></body></html>
